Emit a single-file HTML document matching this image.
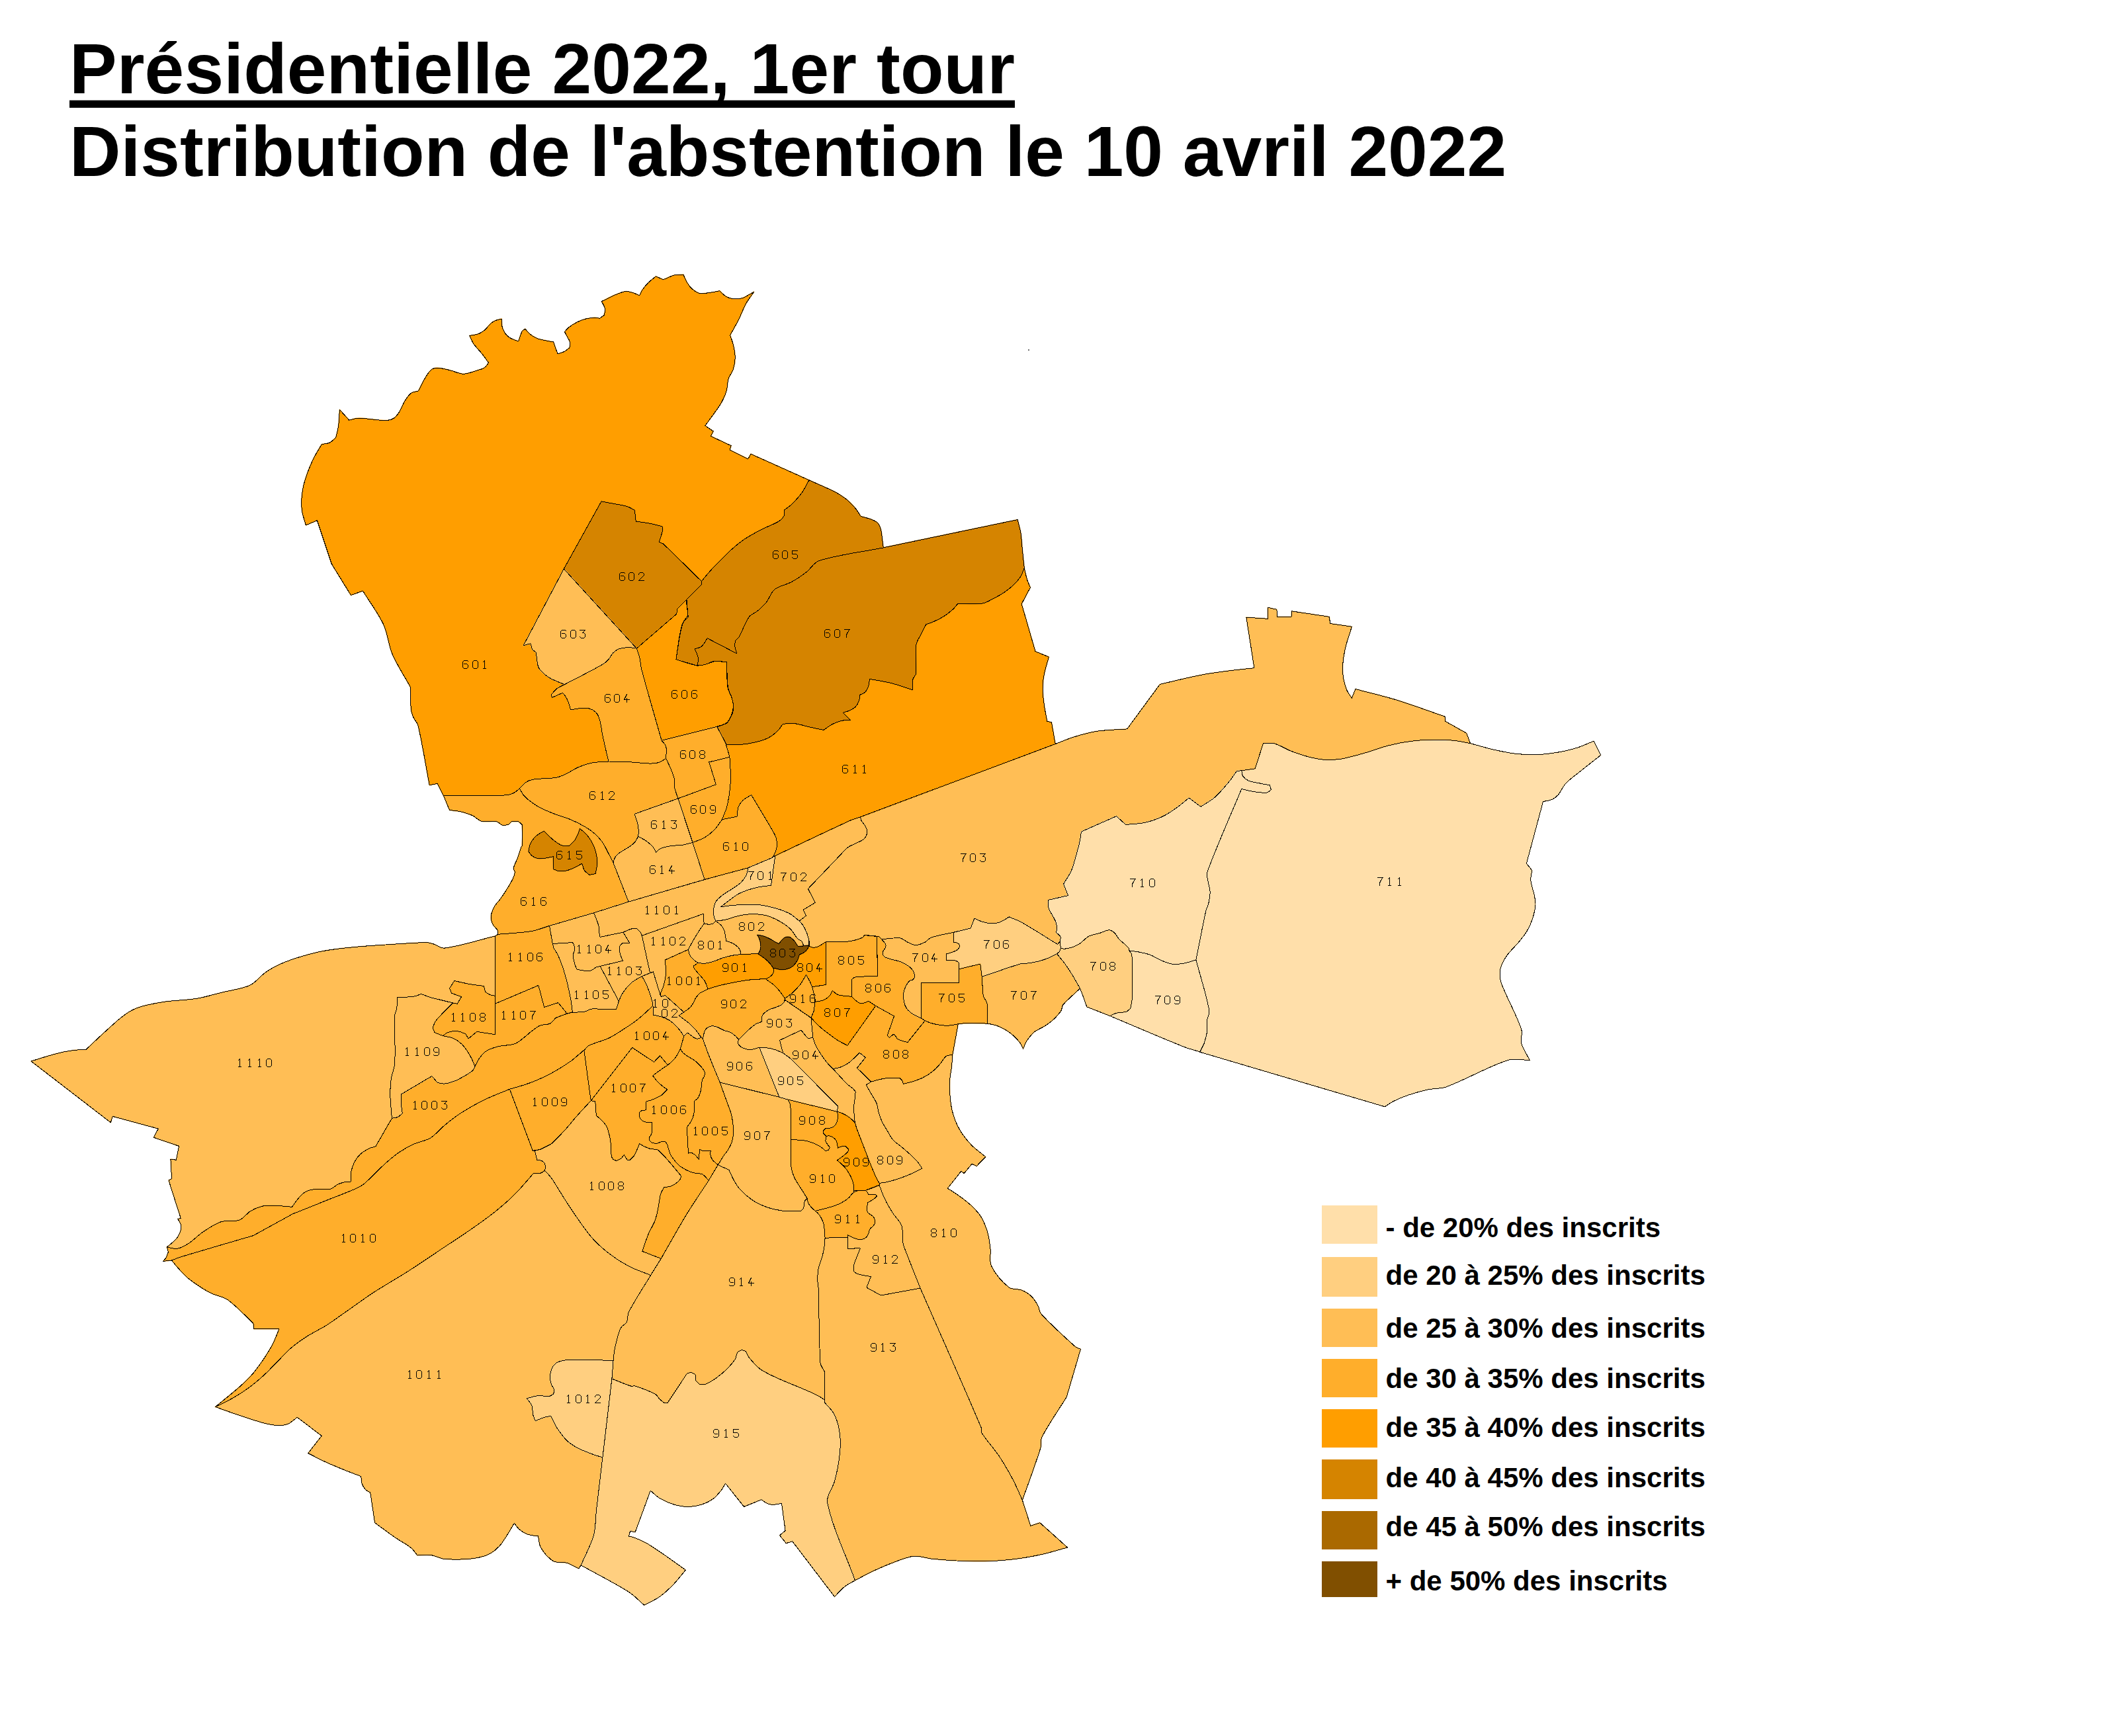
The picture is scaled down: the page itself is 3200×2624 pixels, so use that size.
<!DOCTYPE html><html><head><meta charset="utf-8"><title>Carte</title>
<style>html,body{margin:0;padding:0;background:#fff}svg{display:block}.t{font-family:"Liberation Sans",sans-serif;font-weight:bold;fill:#000}.f{stroke-width:1.6;stroke-linejoin:round}.s{fill:none;stroke:#000;stroke-width:1;stroke-linejoin:round;stroke-linecap:round;shape-rendering:crispEdges}.g{fill:none;stroke:#000;stroke-width:1;stroke-linecap:square;stroke-linejoin:miter;shape-rendering:crispEdges}</style></head><body>
<svg width="3200" height="2624" viewBox="0 0 3200 2624">
<rect width="3200" height="2624" fill="#fff"/>
<g class="f">
<path d="M462.4,793.8C460.5,787.1 457.8,779.8 456.7,773.0C455.7,767.0 455.6,760.2 455.9,754.1C456.2,748.0 457.3,741.2 458.6,735.2C459.9,729.1 462.1,722.3 464.2,716.3C466.9,708.9 470.2,700.7 473.7,693.7C477.2,686.4 482.2,678.7 486.2,671.7C490.0,670.9 494.7,670.8 498.3,669.1C501.8,667.4 504.7,663.9 507.7,661.5C508.9,656.1 510.7,650.1 511.5,644.5C512.6,636.5 512.8,627.3 513.4,619.2L527.7,635.1C532.2,634.1 537.1,632.2 541.7,632.1C548.4,631.8 555.8,633.4 562.5,633.9C569.7,634.5 577.9,636.0 585.2,635.5C589.0,635.2 593.4,633.6 596.5,631.3C599.6,629.0 602.0,625.1 604.1,621.9C606.9,617.2 608.8,611.3 611.6,606.7C614.2,602.6 617.2,597.6 621.1,594.6C624.1,592.3 628.8,592.1 632.4,590.9C635.4,585.1 638.5,578.3 641.9,572.7C644.5,568.3 647.4,562.9 651.3,559.5C653.7,557.4 657.5,556.1 660.7,556.1C666.9,556.1 673.7,558.1 679.6,559.5C686.4,561.0 693.5,565.1 700.4,565.2C707.3,565.2 714.6,561.8 721.2,559.9C724.9,558.8 729.3,557.9 732.5,555.7C735.1,554.0 736.7,550.6 738.6,548.2C735.4,543.9 732.0,539.1 728.8,534.9C724.7,529.8 719.3,524.5 715.5,519.1C713.2,515.6 711.7,511.1 709.9,507.4C714.1,506.5 719.0,506.2 723.1,504.7C726.4,503.5 729.8,501.3 732.5,499.0C736.0,496.2 738.6,491.7 742.0,488.8C744.1,487.0 746.9,485.4 749.6,484.3C752.2,483.2 755.5,482.8 758.2,482.0C758.5,485.7 758.2,489.8 759.0,493.4C759.7,496.5 761.0,500.1 762.8,502.8C764.7,505.7 767.4,508.5 770.3,510.4C774.2,512.8 779.3,514.2 783.6,516.0C785.4,511.2 786.8,505.5 789.2,500.9C790.1,499.3 792.3,498.4 793.8,497.1C795.9,499.6 798.0,502.7 800.6,504.7C803.9,507.3 808.0,509.9 811.9,511.5C815.9,513.2 820.9,514.0 825.1,514.9C828.7,515.7 832.8,516.2 836.5,516.8L842.9,534.9C846.3,533.7 850.3,532.8 853.5,531.2C856.2,529.8 858.6,527.3 861.0,525.5C861.3,523.1 862.3,520.3 861.8,517.9C861.1,514.7 858.8,511.5 857.3,508.5C856.1,506.3 854.7,503.9 853.5,501.7C855.3,499.6 857.0,496.9 859.1,495.3C863.1,492.2 867.9,489.2 872.4,486.9C876.4,484.9 881.2,483.2 885.6,482.0C889.7,481.0 894.5,480.3 898.8,480.1C901.3,480.1 904.0,480.9 906.4,481.3L913.2,476.4C913.7,473.3 915.2,469.9 914.7,466.9C914.0,463.0 911.1,459.2 909.4,455.6C915.7,452.6 922.6,448.8 929.1,446.1C934.4,443.9 940.3,441.0 946.1,440.5C950.4,440.1 955.1,442.2 959.3,443.5C961.8,444.3 964.4,445.8 966.8,446.9C968.0,444.2 969.0,441.0 970.6,438.6C973.3,434.7 976.7,430.6 980.1,427.2C983.4,423.9 987.8,420.8 991.4,417.8L1002.7,422.7C1008.2,420.5 1014.1,417.3 1019.7,415.9C1023.9,414.9 1028.7,415.4 1033.0,415.1C1034.8,419.0 1036.4,423.6 1038.6,427.2C1040.7,430.5 1043.3,434.2 1046.2,436.7C1049.4,439.4 1053.4,442.6 1057.5,443.5C1062.3,444.5 1067.8,443.0 1072.6,442.4C1077.5,441.7 1082.9,440.6 1087.8,439.7C1090.8,442.4 1093.7,446.0 1097.2,448.0C1100.5,449.9 1104.7,451.4 1108.5,451.8C1112.8,452.3 1117.7,451.8 1121.8,450.7C1125.7,449.6 1129.5,446.9 1133.1,445.0C1135.2,443.9 1137.5,442.4 1139.5,441.2C1135.7,447.0 1130.8,453.2 1127.4,459.4C1123.3,466.9 1120.0,476.2 1116.1,483.9C1112.4,491.3 1107.6,499.3 1103.6,506.6C1105.2,511.4 1107.4,516.7 1108.5,521.7C1109.9,527.7 1111.2,534.5 1111.2,540.6C1111.2,546.1 1110.2,552.4 1108.5,557.6C1106.9,562.8 1102.6,567.6 1101.0,572.7C1099.3,578.0 1099.8,584.4 1098.3,589.7C1096.8,595.4 1094.3,601.6 1091.5,606.7C1088.5,612.5 1084.0,618.4 1080.2,623.7C1075.7,630.1 1070.4,637.1 1065.8,643.4L1078.2,651.8L1074.4,659.3L1105.1,673.7L1103.2,680.1L1130.8,693.7L1134.9,686.2L1223.0,725.8C1219.3,732.1 1215.9,739.6 1211.6,745.5C1207.4,751.4 1201.7,757.4 1196.5,762.5C1193.4,765.5 1189.3,768.1 1185.9,770.8C1185.7,773.6 1186.4,777.0 1185.2,779.5C1183.6,782.7 1180.7,785.9 1177.6,787.8C1169.6,792.7 1159.5,796.0 1151.2,800.3C1142.5,804.8 1132.8,810.0 1124.7,815.4C1118.3,819.7 1111.5,825.3 1105.8,830.5C1095.8,839.8 1085.0,850.8 1075.6,860.7C1070.5,866.2 1065.3,872.8 1060.5,878.5L1002.7,822.1L996.3,819.1C998.0,813.4 1000.5,807.2 1001.6,801.4C1002.0,799.6 1001.1,797.5 1000.9,795.7C994.8,794.2 988.1,792.3 982.0,791.1C975.4,789.9 967.8,789.1 961.2,788.1L959.3,771.1C955.7,769.3 951.8,766.7 947.9,765.5C942.1,763.6 935.1,762.8 929.1,761.7C922.6,760.4 915.4,759.1 909.0,757.9L852.3,859.9L791.1,975.9L802.0,972.6L804.4,981.7L810.4,986.2C811.4,993.0 811.4,1000.9 813.5,1007.4C814.6,1010.8 817.5,1013.9 820.1,1016.4C823.6,1019.8 828.0,1023.2 832.2,1025.5C838.7,1029.0 846.6,1031.7 853.4,1034.6C849.5,1036.7 844.8,1038.5 841.3,1041.2C838.2,1043.6 835.7,1047.4 833.1,1050.3L834.6,1054.3L850.4,1047.3C851.8,1049.0 853.7,1050.8 854.9,1052.7C856.6,1055.5 858.3,1058.8 859.4,1061.8C860.7,1065.3 861.5,1069.4 862.5,1073.0C869.2,1072.0 876.8,1070.0 883.6,1070.0C887.6,1070.0 892.2,1071.2 895.7,1073.0C898.7,1074.5 901.6,1077.1 903.3,1080.0C905.6,1083.9 906.8,1089.1 907.8,1093.6C909.2,1099.3 909.6,1106.0 910.9,1111.7C913.5,1124.4 917.0,1138.5 919.9,1151.0C916.1,1151.2 911.7,1151.3 907.8,1151.6C903.0,1152.1 897.4,1152.3 892.7,1153.5C886.7,1154.9 880.2,1157.0 874.6,1159.5C868.0,1162.4 861.4,1167.0 854.9,1170.1C850.7,1172.1 845.8,1174.3 841.3,1175.2C835.6,1176.4 828.9,1176.3 823.1,1176.7C817.3,1177.2 810.7,1177.1 805.0,1178.3C801.4,1179.0 797.4,1180.7 794.4,1182.8C791.0,1185.1 788.2,1189.0 785.3,1191.9C782.9,1193.8 780.5,1196.5 777.8,1197.9C774.1,1199.8 769.7,1201.7 765.7,1201.9C735.2,1203.1 700.9,1202.3 670.4,1202.5L661.3,1184.3L649.2,1186.7C643.7,1157.9 638.7,1125.2 632.0,1096.6C631.0,1092.3 626.8,1088.6 625.0,1084.5C623.4,1080.8 621.8,1076.4 621.4,1072.4C620.3,1061.8 621.2,1049.8 620.5,1039.1C620.4,1038.1 619.5,1037.1 619.0,1036.1C610.8,1021.1 600.0,1005.0 593.3,989.2C587.3,975.3 586.1,957.6 579.7,943.9C571.6,926.6 558.5,909.4 548.5,893.2L530.4,899.6L501.3,852.4L479.4,786.6L462.4,793.8Z" fill="#FF9E00" stroke="#FF9E00"/>
<path d="M1909.5,1123.6C1914.6,1123.6 1920.6,1122.2 1925.6,1123.6C1934.2,1126.0 1942.8,1131.8 1951.1,1135.1C1959.1,1138.2 1968.3,1141.4 1976.6,1143.6C1984.7,1145.7 1993.9,1147.7 2002.1,1148.3C2010.3,1148.8 2019.6,1148.3 2027.6,1147.0C2038.7,1145.2 2050.9,1141.5 2061.7,1138.5C2074.0,1135.0 2087.5,1129.7 2099.9,1126.6C2110.6,1123.9 2122.9,1121.6 2133.9,1120.2C2144.7,1118.8 2157.0,1118.2 2167.9,1118.1C2177.5,1117.9 2188.2,1118.4 2197.7,1119.3C2205.7,1120.2 2214.5,1122.2 2222.4,1123.6C2233.5,1126.6 2246.0,1130.4 2257.2,1133.0C2268.0,1135.4 2280.2,1138.1 2291.2,1139.3C2302.0,1140.5 2314.4,1141.1 2325.2,1140.6C2336.2,1140.1 2348.4,1138.3 2359.2,1136.4C2367.5,1134.9 2376.7,1132.6 2384.8,1130.0C2392.7,1127.4 2401.2,1123.3 2409.0,1120.2L2419.6,1141.5C2409.8,1149.2 2398.7,1157.8 2389.0,1165.7C2381.9,1171.4 2373.2,1177.3 2366.9,1184.0C2362.2,1189.0 2359.5,1196.6 2355.0,1201.8C2352.6,1204.6 2349.0,1207.2 2345.6,1208.6C2341.7,1210.3 2336.7,1210.6 2332.5,1211.6L2307.4,1305.1L2315.9,1315.8C2315.2,1320.5 2313.4,1325.8 2313.8,1330.6C2314.3,1337.6 2317.5,1345.0 2318.9,1351.9C2319.8,1356.6 2321.3,1362.0 2321.0,1366.8C2320.6,1373.7 2318.8,1381.4 2316.7,1388.0C2314.7,1394.4 2311.6,1401.4 2308.2,1407.2C2304.8,1413.0 2299.8,1418.9 2295.5,1424.2C2290.3,1430.5 2283.4,1436.7 2278.5,1443.3C2275.2,1447.7 2272.1,1453.1 2270.0,1458.2C2268.4,1462.0 2267.0,1466.7 2267.0,1470.9C2267.0,1476.5 2268.0,1482.8 2270.0,1487.9C2278.5,1510.1 2292.2,1533.4 2299.7,1556.0C2301.9,1562.4 2297.9,1570.7 2299.7,1577.2C2302.1,1586.0 2308.4,1594.6 2312.5,1602.7C2302.2,1602.5 2290.1,1599.0 2280.2,1602.2C2248.8,1612.1 2216.6,1631.6 2185.7,1643.0C2177.7,1645.9 2167.6,1645.0 2159.3,1646.8C2149.5,1648.9 2138.6,1651.9 2129.1,1655.1C2121.6,1657.6 2113.4,1661.0 2106.4,1664.5C2101.9,1666.7 2097.4,1670.2 2093.2,1672.8L1813.5,1590.1L1820.2,1577.2C1821.5,1571.8 1823.7,1565.8 1824.4,1560.2C1825.1,1554.8 1823.9,1548.6 1824.4,1543.2C1825.0,1538.1 1828.7,1532.5 1827.8,1527.5C1823.4,1502.6 1814.2,1475.4 1807.9,1450.9C1812.6,1427.4 1817.5,1400.8 1822.7,1377.4C1823.7,1373.2 1826.1,1368.9 1827.0,1364.6C1828.1,1359.3 1829.3,1353.1 1829.1,1347.6C1828.9,1342.1 1826.5,1336.1 1825.7,1330.6C1825.1,1326.6 1823.4,1321.7 1824.9,1317.9C1839.9,1277.1 1860.1,1232.6 1876.7,1192.5C1882.8,1193.8 1889.6,1195.8 1895.9,1196.7C1901.9,1197.6 1908.9,1198.7 1915.0,1198.0C1917.4,1197.7 1919.3,1195.1 1921.4,1193.7L1919.2,1186.9C1914.5,1186.0 1909.1,1185.0 1904.4,1184.0C1898.9,1182.8 1892.5,1182.3 1887.4,1180.1C1884.1,1178.8 1880.8,1176.2 1878.8,1173.3C1877.2,1171.0 1877.4,1167.6 1876.7,1164.8L1897.1,1161.9L1909.5,1123.6Z" fill="#FFDFAA" stroke="#FFDFAA"/>
<path d="M325.5,2126.5C333.7,2122.4 343.1,2118.2 351.0,2113.7C358.7,2109.4 367.2,2104.1 374.4,2098.8C382.2,2093.2 390.6,2086.2 397.8,2079.7C404.9,2073.3 412.2,2065.3 419.0,2058.5C425.8,2051.7 433.0,2043.5 440.3,2037.2C447.3,2031.2 455.9,2025.2 463.7,2020.2C472.9,2014.3 484.2,2009.0 493.4,2003.2C502.5,1997.5 512.2,1990.2 521.1,1984.1C534.7,1974.6 549.7,1963.4 563.6,1954.3C581.0,1943.0 601.4,1931.5 618.8,1920.3C635.4,1909.7 653.5,1897.2 669.9,1886.3C682.1,1878.1 696.0,1869.2 708.1,1860.8C720.5,1852.2 734.6,1842.5 746.4,1833.1C757.0,1824.7 768.6,1814.7 778.2,1805.1C787.8,1795.6 797.3,1783.8 806.3,1773.7C809.6,1773.6 813.5,1774.1 816.7,1773.3C819.1,1772.8 821.2,1770.8 823.3,1769.6C825.4,1771.7 828.0,1773.9 829.9,1776.2C831.9,1778.5 833.9,1781.2 835.6,1783.7C841.8,1793.3 848.3,1804.4 854.5,1814.0C860.4,1823.1 867.1,1833.4 873.4,1842.3C880.1,1851.8 887.4,1862.8 895.2,1871.4C902.6,1879.6 911.9,1888.0 920.7,1894.8C929.7,1901.7 940.4,1908.7 950.4,1913.9C960.6,1919.2 973.0,1923.2 983.6,1927.5C973.0,1945.3 959.9,1964.7 950.4,1983.2C948.1,1987.8 949.3,1994.3 947.0,1998.9C945.7,2001.7 941.7,2002.9 939.8,2005.3C938.0,2007.7 936.5,2010.9 935.6,2013.8C933.1,2021.9 930.8,2031.1 929.2,2039.3C928.1,2044.7 927.7,2050.9 927.1,2056.3C906.0,2056.1 882.3,2054.9 861.2,2055.5C855.6,2055.6 849.2,2056.3 844.2,2058.5C840.5,2060.1 836.8,2063.4 834.8,2067.0C832.5,2071.3 831.7,2077.0 831.4,2081.8C831.2,2085.3 832.4,2089.2 833.5,2092.5C834.5,2095.4 837.2,2098.0 837.8,2101.0C838.2,2103.0 836.9,2105.3 836.5,2107.4C834.2,2108.4 831.8,2110.5 829.3,2110.8C824.5,2111.2 819.2,2109.0 814.4,2109.5C808.4,2110.0 802.0,2112.4 796.1,2113.7C798.6,2117.1 802.3,2120.4 803.8,2124.4C805.5,2128.8 804.8,2134.6 805.9,2139.2C806.6,2142.1 808.2,2145.0 809.3,2147.7C813.7,2146.0 818.4,2143.6 822.9,2142.2C825.9,2141.3 829.6,2141.1 832.7,2140.5C835.7,2146.2 838.5,2153.0 842.0,2158.4C846.3,2164.9 851.3,2172.1 856.9,2177.5C861.7,2182.0 868.1,2185.9 873.9,2189.0C880.4,2192.4 888.3,2195.3 895.2,2197.9C900.1,2199.8 905.9,2201.4 910.9,2203.0C907.9,2228.2 904.5,2256.5 901.6,2281.7C900.1,2294.2 900.7,2308.6 897.3,2320.8C893.1,2335.9 884.3,2351.4 878.2,2365.8L874.8,2370.9C869.1,2368.2 863.0,2364.2 856.9,2362.4C851.0,2360.7 843.5,2362.6 837.8,2360.3C832.9,2358.3 828.6,2353.6 825.0,2349.7C821.7,2346.0 818.4,2341.4 816.5,2336.9C814.7,2332.4 814.5,2326.8 813.6,2322.0C808.4,2321.1 802.3,2320.9 797.4,2319.1C792.9,2317.4 788.3,2314.5 784.6,2311.4C781.8,2309.0 779.7,2305.1 777.4,2302.1C773.6,2308.5 769.6,2315.8 765.5,2322.0C762.3,2327.0 758.8,2332.6 754.9,2336.9C751.3,2340.8 746.7,2344.9 742.1,2347.5C737.1,2350.4 730.8,2352.7 725.1,2353.9C717.1,2355.7 707.8,2356.6 699.6,2356.9C690.1,2357.3 679.3,2357.3 669.9,2356.1C664.2,2355.3 658.5,2351.7 652.9,2350.9C645.8,2350.0 637.8,2350.9 630.8,2350.9C628.3,2347.8 625.9,2344.0 623.1,2341.2C620.7,2338.8 617.4,2336.7 614.6,2334.8C609.3,2331.2 602.9,2327.8 597.6,2324.2C587.5,2317.2 576.5,2308.8 566.6,2301.6L559.8,2256.1C557.6,2254.8 554.7,2253.7 553.0,2251.9C550.7,2249.6 548.5,2246.5 547.4,2243.4C546.1,2239.8 546.3,2235.3 545.7,2231.5C537.8,2228.5 528.9,2225.3 521.1,2222.1C511.5,2218.2 500.7,2213.7 491.3,2209.4C483.0,2205.6 474.0,2200.7 465.8,2196.6L486.2,2170.3L449.2,2142.2C445.0,2145.3 440.8,2149.7 436.0,2152.0C432.3,2153.8 427.4,2154.4 423.3,2154.5C417.8,2154.7 411.6,2153.9 406.3,2152.8C399.4,2151.5 391.8,2149.0 385.0,2146.9C375.4,2143.9 364.7,2140.4 355.3,2137.1C345.7,2133.8 335.0,2129.9 325.5,2126.5Z" fill="#FFBE55" stroke="#FFBE55"/>
<path d="M1171.7,1293.5C1208.2,1276.4 1249.0,1256.7 1285.6,1240.0C1290.2,1237.9 1295.7,1236.5 1300.4,1234.9L1595.2,1124.5C1604.3,1121.1 1614.4,1116.7 1623.8,1113.8C1634.5,1110.5 1646.7,1107.0 1657.8,1105.3C1672.4,1103.1 1689.0,1103.0 1703.7,1101.9L1753.4,1034.3C1773.2,1029.8 1795.2,1024.2 1815.1,1020.3C1828.6,1017.6 1844.0,1015.7 1857.6,1013.9C1869.8,1012.3 1883.6,1011.0 1895.9,1009.7L1883.9,933.1L1916.3,935.3L1916.3,918.3L1929.9,921.2L1930.7,932.3L1952.0,932.3L1952.4,923.8L2009.4,932.3L2010.6,942.5L2043.4,947.2C2040.4,957.0 2036.4,967.8 2034.0,977.8C2032.1,985.8 2030.4,995.0 2029.8,1003.3C2029.3,1010.1 2029.6,1017.8 2030.6,1024.5C2031.6,1030.8 2033.7,1037.8 2036.1,1043.7C2037.8,1047.7 2041.1,1051.5 2043.4,1055.2L2048.9,1041.5C2069.3,1047.0 2092.5,1052.3 2112.7,1058.6C2135.8,1065.7 2161.2,1075.3 2184.1,1083.2L2184.9,1090.4L2216.8,1108.3L2222.4,1123.6C2214.5,1122.2 2205.7,1120.2 2197.7,1119.3C2188.2,1118.4 2177.5,1117.9 2167.9,1118.1C2157.0,1118.2 2144.7,1118.8 2133.9,1120.2C2122.9,1121.6 2110.6,1123.9 2099.9,1126.6C2087.5,1129.7 2074.0,1135.0 2061.7,1138.5C2050.9,1141.5 2038.7,1145.2 2027.6,1147.0C2019.6,1148.3 2010.3,1148.8 2002.1,1148.3C1993.9,1147.7 1984.7,1145.7 1976.6,1143.6C1968.3,1141.4 1959.1,1138.2 1951.1,1135.1C1942.8,1131.8 1934.2,1126.0 1925.6,1123.6C1920.6,1122.2 1914.6,1123.6 1909.5,1123.6L1897.1,1161.9L1876.7,1164.8L1869.5,1165.3C1865.7,1170.6 1861.8,1176.8 1857.6,1181.8C1851.1,1189.6 1843.9,1198.5 1836.3,1205.2C1830.2,1210.6 1821.9,1214.8 1815.1,1219.3L1797.2,1206.1C1790.7,1211.2 1783.7,1217.5 1776.8,1222.2C1770.3,1226.8 1762.8,1231.7 1755.6,1235.0C1747.7,1238.5 1738.5,1241.7 1730.1,1243.5C1721.1,1245.4 1710.7,1245.5 1701.6,1246.5L1687.5,1233.7L1634.4,1257.1C1633.7,1261.6 1633.2,1266.7 1632.3,1271.1C1631.1,1276.6 1629.6,1282.7 1628.0,1288.1C1625.5,1297.0 1623.1,1307.2 1619.5,1315.8C1616.6,1322.7 1611.4,1329.6 1607.6,1336.2L1614.6,1353.6L1585.3,1360.2C1585.0,1360.7 1584.4,1361.2 1584.4,1361.7C1584.4,1365.4 1584.4,1369.5 1585.3,1373.1C1586.0,1375.7 1587.8,1378.2 1589.1,1380.6C1590.9,1384.0 1593.3,1387.5 1594.8,1391.0C1596.0,1393.9 1597.3,1397.3 1597.6,1400.5C1597.9,1403.5 1596.9,1406.9 1596.6,1409.9C1597.9,1410.8 1599.3,1411.7 1600.4,1412.7C1601.6,1413.8 1602.6,1415.3 1603.6,1416.5L1602.3,1423.1L1598.5,1427.3C1581.0,1416.6 1561.6,1403.9 1543.7,1393.8C1538.1,1390.7 1531.1,1388.5 1525.2,1385.9C1522.7,1387.5 1519.9,1389.6 1517.3,1391.0C1515.0,1392.3 1512.3,1393.7 1509.7,1394.4C1506.8,1395.2 1503.3,1395.7 1500.3,1395.7C1497.2,1395.8 1493.8,1395.4 1490.8,1394.8C1487.7,1394.2 1484.4,1393.1 1481.4,1392.0C1478.6,1390.9 1475.6,1389.4 1472.9,1388.2L1467.2,1402.9L1441.3,1409.3C1430.6,1411.8 1418.1,1413.5 1407.7,1417.1C1404.1,1418.3 1401.5,1422.2 1398.3,1424.1C1395.4,1425.7 1392.0,1427.1 1388.8,1427.9C1386.5,1428.4 1383.6,1428.8 1381.2,1428.2C1378.0,1427.5 1374.8,1425.5 1371.8,1424.1C1368.1,1422.3 1364.5,1418.5 1360.5,1418.0C1351.6,1417.0 1341.4,1419.2 1332.5,1419.7L1328.3,1415.2L1325.5,1415.2L1306.6,1413.3L1304.5,1416.7C1301.5,1417.9 1298.2,1419.6 1295.1,1420.4C1290.3,1421.7 1284.9,1422.9 1280.0,1423.3C1269.8,1424.0 1258.4,1423.5 1248.2,1423.7C1245.1,1425.7 1241.7,1428.2 1238.4,1429.9C1236.1,1431.0 1233.4,1432.2 1230.8,1432.3C1228.7,1432.5 1226.3,1431.3 1224.2,1430.8L1222.9,1428.9L1222.9,1421.4C1221.8,1417.8 1220.9,1413.6 1219.5,1410.1C1218.0,1406.3 1216.0,1402.1 1213.8,1398.7C1212.3,1396.4 1210.0,1394.2 1208.2,1392.1C1203.9,1388.8 1199.6,1384.5 1194.9,1381.7C1190.4,1379.0 1184.8,1376.9 1179.8,1375.1C1174.5,1373.2 1168.3,1371.6 1162.8,1370.4C1157.4,1369.2 1151.3,1368.0 1145.8,1367.5C1139.2,1367.0 1131.7,1367.4 1125.0,1367.5C1119.0,1367.7 1112.2,1367.9 1106.1,1368.5C1100.8,1369.0 1094.8,1370.0 1089.5,1370.8C1093.6,1367.6 1098.2,1364.0 1102.4,1360.9C1106.5,1357.8 1111.1,1354.1 1115.6,1351.5C1119.6,1349.2 1124.5,1347.3 1128.8,1345.8C1134.1,1344.0 1140.3,1342.2 1145.8,1341.1C1152.1,1339.8 1159.3,1339.2 1165.6,1338.3L1171.7,1293.5Z" fill="#FFBE55" stroke="#FFBE55"/>
<path d="M748.5,1414.9C724.0,1420.7 696.9,1430.0 671.9,1433.1C666.2,1433.9 660.5,1428.5 654.9,1426.8C651.6,1425.7 647.8,1424.6 644.3,1424.6C624.6,1425.0 602.4,1426.8 582.7,1428.0C566.3,1429.1 547.9,1430.2 531.7,1431.9C518.0,1433.2 502.6,1434.9 489.1,1437.4C478.1,1439.4 465.9,1442.7 455.1,1445.9C445.4,1448.8 434.6,1452.5 425.4,1456.5C417.6,1460.0 409.0,1464.4 402.0,1469.3C393.7,1475.0 386.9,1485.0 377.8,1489.3C365.3,1495.1 349.4,1496.5 336.1,1499.9C323.9,1502.9 310.3,1507.2 297.8,1509.2C283.0,1511.7 266.0,1511.9 251.1,1513.9C241.5,1515.2 230.7,1517.1 221.3,1519.4C214.3,1521.2 206.5,1523.5 200.1,1526.7C194.2,1529.6 188.2,1534.0 183.0,1538.1C174.5,1545.0 165.6,1553.3 157.5,1560.7C148.6,1568.9 138.7,1578.3 129.9,1586.6C123.8,1586.9 116.8,1586.7 110.8,1587.5C102.5,1588.6 93.3,1590.5 85.3,1592.6C72.9,1595.8 59.2,1600.4 47.0,1604.0L167.3,1696.7L170.3,1687.4L239.2,1706.1L232.4,1719.3L270.6,1732.4L266.4,1753.3L257.9,1752.0L259.6,1781.7L254.9,1783.9L273.2,1841.3L268.9,1842.5C270.4,1845.5 273.0,1848.6 273.6,1851.9C274.2,1855.3 273.5,1859.3 272.3,1862.5C271.0,1866.3 268.6,1870.2 265.9,1873.2C262.1,1877.5 256.7,1881.2 252.3,1885.1C257.4,1885.7 263.1,1888.0 268.1,1887.2C274.0,1886.2 280.1,1882.8 285.1,1879.5C292.4,1874.8 299.1,1867.4 306.3,1862.5C314.8,1856.9 324.3,1850.0 334.0,1846.8C342.4,1844.0 353.3,1847.3 361.6,1844.2C368.2,1841.9 372.7,1834.3 378.6,1830.6C383.6,1827.5 389.9,1824.8 395.6,1823.4C400.9,1822.1 407.2,1822.0 412.6,1822.1C421.9,1822.3 432.3,1823.6 441.5,1824.3C444.5,1820.2 447.5,1815.3 450.9,1811.5C453.9,1808.0 457.5,1804.0 461.5,1801.7C465.8,1799.3 471.5,1798.1 476.4,1797.5C483.8,1796.6 492.4,1798.6 499.8,1797.1C503.7,1796.2 506.8,1792.0 510.4,1790.3C513.6,1788.7 517.5,1787.6 521.0,1786.8C524.0,1786.2 527.4,1786.3 530.4,1786.0C530.5,1781.2 529.9,1775.8 530.8,1771.1C531.7,1766.2 533.6,1760.7 535.9,1756.2C538.0,1752.2 541.1,1747.9 544.4,1744.8C548.0,1741.4 552.8,1738.5 557.2,1736.3C560.3,1734.6 564.4,1733.9 567.8,1732.9L592.4,1690.3C591.6,1679.5 590.1,1667.2 589.9,1656.3C589.7,1648.2 590.0,1638.9 591.2,1630.8C592.2,1623.2 596.3,1615.1 596.7,1607.4C598.0,1584.4 595.9,1558.3 596.7,1535.2C596.8,1531.6 599.2,1528.0 599.7,1524.5C600.4,1519.1 600.3,1513.0 600.5,1507.5C608.4,1507.1 617.4,1507.4 625.2,1506.3C629.0,1505.7 633.0,1503.7 636.7,1502.4C641.1,1504.1 646.1,1506.2 650.7,1507.5C656.1,1509.2 662.3,1510.4 667.7,1511.8C673.1,1513.2 679.3,1514.7 684.7,1516.0L691.1,1517.3L697.5,1506.7L682.6,1501.2L679.6,1493.9L686.8,1482.5C694.3,1484.1 702.7,1486.2 710.2,1487.6C717.0,1488.8 724.7,1489.6 731.5,1490.5L733.6,1499.0C735.6,1500.4 737.7,1502.3 740.0,1503.3C742.5,1504.4 745.7,1504.7 748.5,1505.4L748.5,1414.9Z" fill="#FFBE55" stroke="#FFBE55"/>
<path d="M1247.1,1871.5C1252.7,1871.1 1258.9,1870.3 1264.5,1870.2C1270.0,1870.0 1276.1,1870.4 1281.5,1870.5L1281.5,1887.5L1291.0,1887.5L1291.0,1886.2L1300.4,1887.0C1298.6,1891.4 1296.5,1896.3 1294.8,1900.8C1293.5,1904.1 1291.8,1907.7 1291.0,1911.2C1290.4,1913.8 1290.2,1916.9 1290.4,1919.7C1290.5,1920.8 1291.0,1922.2 1291.9,1922.9C1293.8,1924.4 1296.2,1925.6 1298.5,1926.3C1304.2,1927.8 1310.7,1928.6 1316.5,1929.7L1309.9,1946.1L1331.6,1958.0L1391.1,1947.1C1420.6,2014.7 1454.6,2090.4 1483.4,2158.4C1484.3,2160.5 1482.6,2163.6 1483.8,2165.6C1491.3,2177.5 1502.3,2189.2 1510.2,2200.9C1517.6,2212.0 1525.1,2225.2 1531.4,2237.0C1536.4,2246.5 1541.0,2257.8 1545.4,2267.6L1557.8,2306.3L1571.8,2301.6L1613.5,2339.0C1600.8,2342.4 1586.7,2346.9 1573.9,2349.7C1560.4,2352.6 1545.1,2355.3 1531.4,2356.9C1517.9,2358.5 1502.5,2359.5 1488.9,2359.9C1475.3,2360.2 1460.0,2359.7 1446.4,2359.0C1434.1,2358.4 1420.3,2357.3 1408.1,2356.1C1399.5,2355.2 1389.9,2351.3 1381.3,2352.2C1370.4,2353.4 1358.9,2358.6 1348.6,2362.4C1338.9,2366.0 1328.2,2370.8 1318.8,2375.2C1310.3,2379.2 1300.9,2384.4 1292.5,2388.8C1279.2,2351.4 1258.9,2310.8 1250.8,2271.9C1248.6,2261.1 1258.6,2249.8 1261.5,2239.1C1264.0,2229.7 1266.4,2219.0 1267.8,2209.4C1269.2,2199.9 1270.5,2189.2 1270.4,2179.6C1270.3,2171.4 1269.0,2162.1 1267.0,2154.1C1265.4,2147.7 1262.7,2140.6 1259.3,2135.0C1256.1,2129.6 1250.7,2124.9 1246.6,2120.1C1246.6,2118.1 1246.6,2115.8 1246.6,2113.7C1246.6,2100.9 1246.6,2086.5 1246.6,2073.7C1244.5,2069.4 1240.9,2065.1 1240.0,2060.4C1238.5,2053.3 1239.2,2045.0 1239.0,2037.8C1238.7,2024.5 1238.8,2009.5 1238.5,1996.2C1238.4,1994.4 1237.7,1992.3 1237.7,1990.5C1237.5,1977.2 1238.1,1962.2 1237.7,1948.9C1237.6,1947.1 1236.3,1945.2 1236.2,1943.3C1235.9,1935.7 1235.4,1927.1 1236.6,1919.7C1237.6,1913.1 1241.1,1906.3 1242.8,1899.8C1244.2,1894.5 1245.4,1888.3 1246.2,1882.8C1246.7,1879.2 1246.8,1875.1 1247.1,1871.5Z" fill="#FFBE55" stroke="#FFBE55"/>
<path d="M1096.9,1123.8C1098.3,1128.7 1100.0,1134.1 1101.4,1138.9C1101.9,1140.7 1102.4,1142.6 1102.9,1144.4C1103.4,1153.3 1104.4,1163.3 1104.4,1172.2C1104.4,1180.0 1103.9,1188.7 1102.9,1196.4C1101.9,1204.2 1100.4,1213.0 1098.4,1220.6C1096.7,1226.6 1093.6,1232.9 1091.4,1238.8L1114.1,1234.2C1114.7,1229.9 1114.5,1224.8 1115.9,1220.6C1117.2,1216.8 1119.7,1212.8 1122.6,1210.0C1126.1,1206.6 1131.4,1204.3 1135.6,1201.6C1146.9,1220.7 1160.5,1241.8 1171.0,1261.4C1173.1,1265.4 1174.3,1270.5 1174.6,1275.0C1174.8,1279.0 1173.6,1283.4 1172.5,1287.1C1171.7,1289.8 1169.8,1292.3 1168.5,1294.8L1171.7,1293.5C1208.2,1276.4 1249.0,1256.7 1285.6,1240.0C1290.2,1237.9 1295.7,1236.5 1300.4,1234.9L1595.2,1124.5L1589.5,1092.0L1582.7,1090.1C1581.3,1082.0 1579.4,1073.0 1578.2,1064.8C1577.3,1058.8 1576.5,1052.0 1576.3,1045.9C1576.1,1039.9 1576.4,1033.0 1577.0,1027.0C1577.6,1022.1 1578.9,1016.7 1580.1,1011.9C1581.6,1005.8 1583.7,999.1 1585.4,993.0L1565.0,984.7L1544.2,912.9L1557.4,888.0C1555.8,884.1 1553.7,879.8 1552.5,875.9C1550.8,870.5 1549.7,864.3 1548.3,858.9C1546.4,863.1 1544.8,868.1 1542.3,872.1C1539.8,876.1 1536.2,880.2 1532.8,883.4C1528.3,887.7 1522.8,892.0 1517.7,895.5C1513.1,898.7 1507.6,901.7 1502.6,904.2C1497.0,907.0 1491.0,911.2 1484.8,912.1C1473.1,913.9 1459.7,912.4 1447.8,912.5C1445.4,915.3 1443.0,918.7 1440.2,921.2C1436.3,924.8 1431.5,928.5 1427.0,931.4C1422.4,934.4 1416.9,937.1 1411.9,939.3C1408.1,941.1 1403.7,942.4 1399.8,943.9C1397.6,948.1 1395.1,952.8 1393.0,957.1C1390.2,962.9 1385.6,968.9 1384.7,975.2C1382.9,988.7 1386.0,1004.1 1384.7,1017.6C1384.4,1021.0 1380.5,1023.7 1379.8,1027.0C1378.7,1032.0 1379.5,1037.8 1379.4,1042.9C1369.2,1039.6 1358.0,1035.3 1347.7,1032.7C1337.2,1030.0 1325.0,1028.3 1314.4,1026.3C1313.9,1029.5 1313.9,1033.3 1312.9,1036.5C1311.8,1039.7 1310.3,1043.4 1308.0,1045.9C1305.9,1048.1 1302.3,1049.0 1299.7,1050.4C1299.3,1053.2 1299.5,1056.5 1298.5,1059.1C1297.3,1062.4 1295.4,1066.1 1292.9,1068.6C1290.4,1071.1 1286.6,1072.8 1283.4,1074.3C1280.5,1075.6 1277.0,1076.3 1274.0,1077.3L1285.3,1088.2C1281.1,1088.6 1276.2,1088.4 1272.1,1089.4C1267.7,1090.4 1262.9,1092.2 1258.9,1094.3C1254.1,1096.7 1249.3,1100.5 1244.9,1103.4C1239.1,1102.1 1232.5,1100.9 1226.7,1099.6C1218.3,1097.7 1208.9,1094.6 1200.3,1093.5C1194.9,1092.9 1188.7,1094.0 1183.3,1094.3C1180.9,1097.5 1178.6,1101.6 1175.7,1104.5C1171.9,1108.2 1167.2,1112.2 1162.5,1114.7C1156.8,1117.7 1149.8,1119.9 1143.6,1121.5C1136.5,1123.3 1128.3,1124.7 1120.9,1125.3C1113.7,1125.9 1105.5,1125.3 1098.3,1125.3L1096.9,1123.8Z" fill="#FF9E00" stroke="#FF9E00"/>
<path d="M924.9,2084.0C934.5,2087.6 945.0,2092.4 954.7,2095.4C956.0,2095.9 957.6,2094.2 959.0,2094.6C969.4,2098.0 981.1,2102.2 990.8,2107.4C993.6,2108.9 995.0,2112.7 997.2,2115.0C999.1,2116.9 1001.5,2118.5 1003.6,2120.1L1009.4,2120.1L1038.3,2076.3L1044.6,2074.2L1051.0,2077.6L1051.9,2086.9L1057.4,2092.5C1060.1,2092.5 1063.4,2093.4 1065.9,2092.5C1071.8,2090.2 1077.8,2086.3 1082.9,2082.7C1088.7,2078.5 1094.9,2073.3 1099.9,2068.2C1104.0,2064.1 1108.3,2059.1 1111.4,2054.2C1113.1,2051.4 1112.9,2047.1 1114.8,2044.4C1116.2,2042.4 1119.1,2041.5 1121.2,2040.2L1127.5,2042.7C1128.9,2045.5 1129.9,2048.9 1131.8,2051.2C1136.7,2057.4 1142.5,2064.4 1148.8,2069.1C1156.2,2074.6 1165.9,2078.8 1174.3,2082.7C1186.3,2088.3 1200.3,2093.6 1212.6,2098.8C1219.4,2101.8 1227.2,2104.9 1233.8,2108.2C1238.1,2110.3 1242.5,2113.4 1246.6,2115.9L1246.6,2120.1C1250.7,2124.9 1256.1,2129.6 1259.3,2135.0C1262.7,2140.6 1265.4,2147.7 1267.0,2154.1C1269.0,2162.1 1270.3,2171.4 1270.4,2179.6C1270.5,2189.2 1269.2,2199.9 1267.8,2209.4C1266.4,2219.0 1264.0,2229.7 1261.5,2239.1C1258.6,2249.8 1248.6,2261.1 1250.8,2271.9C1258.9,2310.8 1279.2,2351.4 1292.5,2388.8C1287.3,2391.9 1281.1,2394.8 1276.3,2398.6C1271.1,2402.8 1266.2,2408.7 1261.5,2413.4L1197.7,2329.7L1188.3,2332.7L1178.6,2320.8L1187.1,2313.5L1181.5,2272.3C1177.2,2273.0 1172.3,2274.4 1167.9,2274.4C1165.1,2274.4 1162.0,2273.5 1159.4,2272.3C1156.5,2271.0 1153.6,2268.5 1150.9,2266.8L1124.6,2277.4L1096.5,2242.1C1094.7,2245.2 1093.0,2249.0 1090.7,2251.9C1087.0,2256.6 1082.8,2261.9 1078.0,2265.5C1073.1,2269.1 1066.8,2272.2 1061.0,2274.0C1054.4,2276.0 1046.6,2277.4 1039.7,2277.4C1032.8,2277.4 1025.1,2276.0 1018.5,2274.0C1011.4,2271.9 1003.6,2268.4 997.2,2264.6C992.2,2261.7 987.7,2256.8 983.2,2253.2L960.2,2315.7L952.6,2314.4L950.4,2322.0C953.2,2322.7 956.3,2323.2 959.0,2324.2C964.5,2326.3 970.7,2328.9 976.0,2331.8C983.0,2335.7 990.5,2340.9 997.2,2345.4C1009.9,2354.1 1023.8,2364.2 1036.3,2373.1C1030.6,2379.9 1024.6,2387.9 1018.5,2394.3C1012.1,2400.9 1004.7,2408.1 997.2,2413.4C990.3,2418.4 981.3,2422.1 973.8,2426.2C966.3,2419.8 958.8,2411.5 950.4,2406.2C928.0,2392.1 901.3,2378.8 878.2,2365.8C884.3,2351.4 893.1,2335.9 897.3,2320.8C900.7,2308.6 900.1,2294.2 901.6,2281.7C904.5,2256.5 907.9,2228.2 910.9,2203.0L924.9,2084.0Z" fill="#FFCF80" stroke="#FFCF80"/>
<path d="M259.6,1905.0C264.3,1903.3 269.6,1901.0 274.4,1899.5C309.1,1889.0 348.2,1877.8 382.9,1867.6L442.4,1834.9C460.1,1827.8 480.0,1819.9 497.6,1812.8C510.6,1807.6 525.3,1802.3 538.0,1796.6C542.4,1794.7 547.2,1792.1 550.8,1789.0C561.5,1779.8 572.1,1767.8 582.7,1758.4C589.2,1752.6 596.7,1746.3 603.9,1741.4C610.4,1737.0 618.1,1732.7 625.2,1729.5C633.1,1725.9 643.3,1724.6 650.7,1720.1C658.5,1715.3 664.9,1706.8 671.9,1701.0C679.8,1694.5 688.9,1687.4 697.5,1681.8C708.0,1675.1 720.2,1668.2 731.5,1662.7C743.6,1656.8 757.9,1651.5 770.4,1646.2L805.3,1739.3L808.2,1739.3L812.0,1753.5C814.1,1753.8 816.6,1753.6 818.6,1754.5C820.4,1755.2 821.8,1757.0 823.3,1758.2C823.7,1760.0 824.6,1762.0 824.6,1763.9C824.6,1765.8 823.7,1767.8 823.3,1769.6C821.2,1770.8 819.1,1772.8 816.7,1773.3C813.5,1774.1 809.6,1773.6 806.3,1773.7C797.3,1783.8 787.8,1795.6 778.2,1805.1C768.6,1814.7 757.0,1824.7 746.4,1833.1C734.6,1842.5 720.5,1852.2 708.1,1860.8C696.0,1869.2 682.1,1878.1 669.9,1886.3C653.5,1897.2 635.4,1909.7 618.8,1920.3C601.4,1931.5 581.0,1943.0 563.6,1954.3C549.7,1963.4 534.7,1974.6 521.1,1984.1C512.2,1990.2 502.5,1997.5 493.4,2003.2C484.2,2009.0 472.9,2014.3 463.7,2020.2C455.9,2025.2 447.3,2031.2 440.3,2037.2C433.0,2043.5 425.8,2051.7 419.0,2058.5C412.2,2065.3 404.9,2073.3 397.8,2079.7C390.6,2086.2 382.2,2093.2 374.4,2098.8C367.2,2104.1 358.7,2109.4 351.0,2113.7C343.1,2118.2 333.7,2122.4 325.5,2126.5C337.1,2117.0 350.4,2106.7 361.6,2096.7C368.8,2090.3 376.6,2082.8 382.9,2075.5C388.9,2068.4 394.8,2059.8 399.9,2052.1C404.3,2045.5 409.1,2037.9 412.7,2030.8C416.1,2024.0 419.0,2015.8 422.0,2008.7L383.8,2008.7L382.9,2000.2C370.7,1988.9 358.1,1974.7 344.6,1964.9C338.1,1960.2 328.6,1958.9 321.3,1955.6C316.3,1953.3 310.9,1950.4 306.3,1947.5C299.3,1943.1 291.5,1937.9 285.1,1932.7C279.9,1928.4 274.8,1922.7 270.2,1917.8C266.6,1913.9 263.0,1909.1 259.6,1905.0Z" fill="#FFAE2B" stroke="#FFAE2B"/>
<path d="M1238.1,847.5C1268.3,838.0 1304.1,834.2 1335.2,827.9L1538.1,785.5C1539.7,792.1 1542.0,799.3 1543.0,806.0C1544.3,813.7 1544.5,822.7 1545.3,830.5C1546.2,839.6 1547.4,849.8 1548.3,858.9C1546.4,863.1 1544.8,868.1 1542.3,872.1C1539.8,876.1 1536.2,880.2 1532.8,883.4C1528.3,887.7 1522.8,892.0 1517.7,895.5C1513.1,898.7 1507.6,901.7 1502.6,904.2C1497.0,907.0 1491.0,911.2 1484.8,912.1C1473.1,913.9 1459.7,912.4 1447.8,912.5C1445.4,915.3 1443.0,918.7 1440.2,921.2C1436.3,924.8 1431.5,928.5 1427.0,931.4C1422.4,934.4 1416.9,937.1 1411.9,939.3C1408.1,941.1 1403.7,942.4 1399.8,943.9C1397.6,948.1 1395.1,952.8 1393.0,957.1C1390.2,962.9 1385.6,968.9 1384.7,975.2C1382.9,988.7 1386.0,1004.1 1384.7,1017.6C1384.4,1021.0 1380.5,1023.7 1379.8,1027.0C1378.7,1032.0 1379.5,1037.8 1379.4,1042.9C1369.2,1039.6 1358.0,1035.3 1347.7,1032.7C1337.2,1030.0 1325.0,1028.3 1314.4,1026.3C1313.9,1029.5 1313.9,1033.3 1312.9,1036.5C1311.8,1039.7 1310.3,1043.4 1308.0,1045.9C1305.9,1048.1 1302.3,1049.0 1299.7,1050.4C1299.3,1053.2 1299.5,1056.5 1298.5,1059.1C1297.3,1062.4 1295.4,1066.1 1292.9,1068.6C1290.4,1071.1 1286.6,1072.8 1283.4,1074.3C1280.5,1075.6 1277.0,1076.3 1274.0,1077.3L1285.3,1088.2C1281.1,1088.6 1276.2,1088.4 1272.1,1089.4C1267.7,1090.4 1262.9,1092.2 1258.9,1094.3C1254.1,1096.7 1249.3,1100.5 1244.9,1103.4C1239.1,1102.1 1232.5,1100.9 1226.7,1099.6C1218.3,1097.7 1208.9,1094.6 1200.3,1093.5C1194.9,1092.9 1188.7,1094.0 1183.3,1094.3C1180.9,1097.5 1178.6,1101.6 1175.7,1104.5C1171.9,1108.2 1167.2,1112.2 1162.5,1114.7C1156.8,1117.7 1149.8,1119.9 1143.6,1121.5C1136.5,1123.3 1128.3,1124.7 1120.9,1125.3C1113.7,1125.9 1105.5,1125.3 1098.3,1125.3L1083.9,1098.8L1099.0,1093.2C1101.2,1089.5 1104.2,1085.7 1105.8,1081.8C1107.4,1077.8 1108.8,1072.9 1108.8,1068.6C1108.8,1063.7 1107.3,1058.2 1105.8,1053.5C1104.5,1049.1 1100.8,1044.8 1100.1,1040.2C1098.3,1027.7 1098.9,1013.3 1098.3,1000.6C1092.2,1000.2 1085.4,998.7 1079.4,999.4C1074.9,1000.0 1070.5,1003.2 1066.1,1004.3C1062.3,1005.4 1057.9,1005.6 1054.0,1006.2C1054.5,1002.6 1056.1,998.5 1055.6,994.9C1054.8,990.2 1052.0,985.4 1050.3,980.9C1053.5,979.7 1057.8,979.4 1060.5,977.1C1064.2,974.0 1066.4,968.7 1069.2,964.7L1114.1,988.1C1113.0,984.5 1111.2,980.5 1110.7,976.8C1110.4,974.1 1111.2,971.1 1111.5,968.4C1113.3,966.6 1115.9,965.0 1117.1,962.8C1122.6,953.4 1126.0,941.3 1132.3,932.5C1135.3,928.3 1141.5,926.5 1145.5,923.1C1150.0,919.2 1155.0,914.6 1158.7,909.9C1163.2,904.2 1165.2,895.5 1170.8,891.0C1177.8,885.4 1188.6,884.0 1196.5,879.6C1204.2,875.5 1212.3,869.9 1219.2,864.5C1225.6,859.6 1230.3,850.0 1238.1,847.5Z" fill="#D58400" stroke="#D58400"/>
<path d="M1439.8,1594.5C1439.4,1600.4 1439.0,1607.0 1438.4,1612.9C1437.9,1617.8 1436.6,1623.1 1436.1,1628.0C1435.6,1633.4 1435.5,1639.6 1435.6,1645.0C1435.6,1650.5 1435.9,1656.6 1436.5,1662.0C1437.1,1667.5 1438.1,1673.7 1439.3,1679.0C1440.5,1684.0 1442.2,1689.5 1444.1,1694.2C1446.1,1699.2 1448.8,1704.6 1451.6,1709.3C1454.3,1713.7 1457.8,1718.4 1461.1,1722.5C1463.9,1726.0 1467.3,1729.8 1470.5,1732.9C1473.9,1736.1 1478.2,1739.4 1481.9,1742.3C1484.4,1744.4 1487.2,1746.6 1489.8,1748.6L1476.2,1762.6L1469.0,1759.3L1457.3,1773.5L1452.9,1770.3L1432.3,1796.2C1436.1,1798.6 1440.4,1801.2 1444.1,1803.7C1448.4,1806.7 1453.2,1810.0 1457.3,1813.2C1461.7,1816.6 1466.6,1820.6 1470.5,1824.5C1474.5,1828.5 1478.8,1833.1 1481.9,1837.8C1484.9,1842.3 1487.4,1847.9 1489.4,1852.9C1491.3,1857.6 1493.1,1863.0 1494.1,1868.0C1495.5,1874.3 1496.3,1881.6 1497.0,1888.0C1497.8,1896.3 1495.0,1906.4 1498.7,1913.9C1504.5,1925.8 1514.7,1937.6 1525.0,1945.8C1529.9,1949.7 1538.3,1947.7 1544.2,1950.1C1549.4,1952.1 1555.0,1955.5 1559.0,1959.4C1563.0,1963.2 1566.2,1968.7 1568.8,1973.4C1571.0,1977.3 1571.0,1982.9 1573.9,1986.2C1589.1,2002.9 1608.1,2020.0 1624.9,2035.1C1627.2,2037.1 1630.7,2038.0 1633.4,2039.3L1612.2,2111.6C1600.2,2131.1 1585.2,2152.1 1574.8,2172.4C1572.5,2176.9 1574.6,2183.3 1573.1,2188.1C1565.1,2213.9 1554.3,2242.2 1545.4,2267.6C1541.0,2257.8 1536.4,2246.5 1531.4,2237.0C1525.1,2225.2 1517.6,2212.0 1510.2,2200.9C1502.3,2189.2 1491.3,2177.5 1483.8,2165.6C1482.6,2163.6 1484.3,2160.5 1483.4,2158.4C1454.6,2090.4 1420.6,2014.7 1391.1,1947.1C1383.3,1927.1 1374.1,1904.8 1366.6,1884.7C1365.7,1882.4 1365.0,1879.6 1364.7,1877.1C1363.7,1869.3 1365.4,1860.0 1362.8,1852.6C1360.4,1845.6 1353.6,1839.9 1349.6,1833.7C1346.3,1828.7 1342.9,1822.9 1340.1,1817.6C1338.1,1813.8 1336.1,1809.3 1334.4,1805.3C1332.6,1800.9 1330.8,1795.7 1329.1,1791.2L1329.1,1788.5C1333.3,1787.8 1338.1,1787.3 1342.3,1786.3C1348.4,1784.7 1355.3,1782.7 1361.2,1780.6C1367.4,1778.4 1374.2,1775.7 1380.1,1773.0C1384.6,1771.0 1389.4,1768.3 1393.7,1766.0C1391.8,1763.1 1389.9,1759.6 1387.7,1757.0C1383.7,1752.4 1378.8,1747.8 1374.4,1743.7C1370.4,1739.9 1365.5,1736.0 1361.2,1732.4C1357.6,1729.4 1352.9,1726.6 1349.9,1723.0C1346.2,1718.6 1343.4,1712.7 1340.4,1707.8C1337.9,1703.7 1334.9,1699.0 1332.9,1694.6C1331.0,1690.5 1329.4,1685.7 1328.1,1681.4C1327.0,1677.2 1326.9,1672.2 1325.3,1668.2C1323.5,1663.6 1320.2,1659.2 1317.8,1654.9C1315.0,1650.1 1312.0,1644.7 1309.2,1639.8L1316.8,1635.1C1319.9,1634.3 1323.3,1633.2 1326.5,1632.5C1330.1,1631.6 1334.1,1630.5 1337.8,1630.0C1342.0,1629.5 1346.8,1629.5 1351.0,1629.5C1354.0,1629.5 1357.4,1629.9 1360.5,1630.0C1361.4,1630.9 1362.6,1631.8 1363.3,1632.9C1364.3,1634.5 1364.8,1636.7 1365.6,1638.5C1370.0,1637.3 1375.0,1636.2 1379.4,1634.8C1384.3,1633.2 1389.9,1631.4 1394.5,1629.1C1399.6,1626.5 1405.1,1623.2 1409.6,1619.6C1413.6,1616.5 1417.6,1612.2 1420.9,1608.3C1423.6,1605.2 1425.8,1601.0 1428.5,1597.9C1429.4,1596.8 1430.9,1595.9 1432.3,1595.5C1434.6,1594.8 1437.4,1594.8 1439.8,1594.5Z" fill="#FFBE55" stroke="#FFBE55"/>
<path d="M1085.3,1760.7L1102.0,1768.5C1104.4,1773.6 1106.8,1779.6 1109.6,1784.6C1111.7,1788.4 1114.4,1792.6 1117.1,1795.9C1120.4,1799.8 1124.6,1803.9 1128.5,1807.2C1132.5,1810.6 1137.2,1814.1 1141.7,1816.7C1147.5,1819.9 1154.3,1823.1 1160.6,1825.2C1167.1,1827.3 1174.6,1828.9 1181.4,1829.9C1186.2,1830.6 1191.7,1830.4 1196.5,1830.5C1201.0,1830.6 1206.1,1830.5 1210.7,1830.5C1211.9,1829.1 1213.8,1827.9 1214.5,1826.1C1215.7,1823.0 1215.1,1818.9 1216.3,1815.7C1217.0,1814.0 1218.9,1812.8 1220.1,1811.4C1220.5,1813.4 1220.6,1815.8 1221.4,1817.6C1222.5,1819.9 1224.1,1822.3 1225.8,1824.2C1227.7,1826.5 1230.3,1828.5 1232.4,1830.5C1233.6,1831.5 1235.1,1832.5 1236.2,1833.7C1237.9,1835.7 1239.6,1838.0 1240.9,1840.3C1242.4,1842.9 1243.8,1845.9 1244.7,1848.8C1245.6,1851.7 1245.9,1855.2 1246.2,1858.3C1246.7,1862.5 1246.8,1867.2 1247.1,1871.5C1246.8,1875.1 1246.7,1879.2 1246.2,1882.8C1245.4,1888.3 1244.2,1894.5 1242.8,1899.8C1241.1,1906.3 1237.6,1913.1 1236.6,1919.7C1235.4,1927.1 1235.9,1935.7 1236.2,1943.3C1236.3,1945.2 1237.6,1947.1 1237.7,1948.9C1238.1,1962.2 1237.5,1977.2 1237.7,1990.5C1237.7,1992.3 1238.4,1994.4 1238.5,1996.2C1238.8,2009.5 1238.7,2024.5 1239.0,2037.8C1239.2,2045.0 1238.5,2053.3 1240.0,2060.4C1240.9,2065.1 1244.5,2069.4 1246.6,2073.7L1246.6,2115.9C1242.5,2113.4 1238.1,2110.3 1233.8,2108.2C1227.2,2104.9 1219.4,2101.8 1212.6,2098.8C1200.3,2093.6 1186.3,2088.3 1174.3,2082.7C1165.9,2078.8 1156.2,2074.6 1148.8,2069.1C1142.5,2064.4 1136.7,2057.4 1131.8,2051.2C1129.9,2048.9 1128.9,2045.5 1127.5,2042.7L1121.2,2040.2C1119.1,2041.5 1116.2,2042.4 1114.8,2044.4C1112.9,2047.1 1113.1,2051.4 1111.4,2054.2C1108.3,2059.1 1104.0,2064.1 1099.9,2068.2C1094.9,2073.3 1088.7,2078.5 1082.9,2082.7C1077.8,2086.3 1071.8,2090.2 1065.9,2092.5C1063.4,2093.4 1060.1,2092.5 1057.4,2092.5L1051.9,2086.9L1051.0,2077.6L1044.6,2074.2L1038.3,2076.3L1009.4,2120.1L1003.6,2120.1C1001.5,2118.5 999.1,2116.9 997.2,2115.0C995.0,2112.7 993.6,2108.9 990.8,2107.4C981.1,2102.2 969.4,2098.0 959.0,2094.6C957.6,2094.2 956.0,2095.9 954.7,2095.4C945.0,2092.4 934.5,2087.6 924.9,2084.0L927.1,2056.3C927.7,2050.9 928.1,2044.7 929.2,2039.3C930.8,2031.1 933.1,2021.9 935.6,2013.8C936.5,2010.9 938.0,2007.7 939.8,2005.3C941.7,2002.9 945.7,2001.7 947.0,1998.9C949.3,1994.3 948.1,1987.8 950.4,1983.2C959.9,1964.7 973.0,1945.3 983.6,1927.5L999.3,1902.4C1011.6,1881.0 1025.0,1856.7 1037.8,1835.6C1048.0,1818.9 1060.5,1800.8 1071.2,1784.4L1085.3,1760.7Z" fill="#FFBE55" stroke="#FFBE55"/>
<path d="M1634.4,1257.1L1687.5,1233.7L1701.6,1246.5C1710.7,1245.5 1721.1,1245.4 1730.1,1243.5C1738.5,1241.7 1747.7,1238.5 1755.6,1235.0C1762.8,1231.7 1770.3,1226.8 1776.8,1222.2C1783.7,1217.5 1790.7,1211.2 1797.2,1206.1L1815.1,1219.3C1821.9,1214.8 1830.2,1210.6 1836.3,1205.2C1843.9,1198.5 1851.1,1189.6 1857.6,1181.8C1861.8,1176.8 1865.7,1170.6 1869.5,1165.3L1876.7,1164.8C1877.4,1167.6 1877.2,1171.0 1878.8,1173.3C1880.8,1176.2 1884.1,1178.8 1887.4,1180.1C1892.5,1182.3 1898.9,1182.8 1904.4,1184.0C1909.1,1185.0 1914.5,1186.0 1919.2,1186.9L1921.4,1193.7C1919.3,1195.1 1917.4,1197.7 1915.0,1198.0C1908.9,1198.7 1901.9,1197.6 1895.9,1196.7C1889.6,1195.8 1882.8,1193.8 1876.7,1192.5C1860.1,1232.6 1839.9,1277.1 1824.9,1317.9C1823.4,1321.7 1825.1,1326.6 1825.7,1330.6C1826.5,1336.1 1828.9,1342.1 1829.1,1347.6C1829.3,1353.1 1828.1,1359.3 1827.0,1364.6C1826.1,1368.9 1823.7,1373.2 1822.7,1377.4C1817.5,1400.8 1812.6,1427.4 1807.9,1450.9C1802.0,1452.6 1795.5,1455.0 1789.6,1456.1C1784.2,1457.0 1778.0,1458.0 1772.6,1457.3C1766.9,1456.6 1760.8,1454.0 1755.6,1451.8C1749.9,1449.5 1744.3,1445.4 1738.6,1443.3C1733.3,1441.3 1727.0,1440.1 1721.5,1439.0C1716.8,1438.1 1711.4,1437.6 1706.7,1436.9C1706.4,1435.6 1706.7,1433.7 1705.8,1432.7C1701.8,1428.1 1696.1,1424.1 1691.8,1419.9C1690.8,1419.0 1690.0,1417.6 1689.2,1416.5C1688.0,1414.7 1686.9,1412.4 1685.5,1410.9C1683.9,1409.2 1681.9,1407.4 1679.8,1406.5C1678.1,1405.8 1675.9,1405.7 1674.1,1406.1C1670.3,1407.0 1666.5,1409.1 1662.8,1410.3C1657.4,1412.0 1650.8,1412.6 1645.8,1415.2C1640.9,1417.7 1637.1,1422.9 1632.5,1426.0C1629.2,1428.2 1625.0,1430.3 1621.2,1431.6C1617.7,1432.9 1613.6,1433.7 1609.9,1434.1C1607.8,1434.3 1605.4,1433.7 1603.3,1433.5L1602.3,1423.1L1603.6,1416.5C1602.6,1415.3 1601.6,1413.8 1600.4,1412.7C1599.3,1411.7 1597.9,1410.8 1596.6,1409.9C1596.9,1406.9 1597.9,1403.5 1597.6,1400.5C1597.3,1397.3 1596.0,1393.9 1594.8,1391.0C1593.3,1387.5 1590.9,1384.0 1589.1,1380.6C1587.8,1378.2 1586.0,1375.7 1585.3,1373.1C1584.4,1369.5 1584.4,1365.4 1584.4,1361.7C1584.4,1361.2 1585.0,1360.7 1585.3,1360.2L1614.6,1353.6L1607.6,1336.2C1611.4,1329.6 1616.6,1322.7 1619.5,1315.8C1623.1,1307.2 1625.5,1297.0 1628.0,1288.1C1629.6,1282.7 1631.1,1276.6 1632.3,1271.1C1633.2,1266.7 1633.7,1261.6 1634.4,1257.1Z" fill="#FFDFAA" stroke="#FFDFAA"/>
<path d="M252.3,1885.1C257.4,1885.7 263.1,1888.0 268.1,1887.2C274.0,1886.2 280.1,1882.8 285.1,1879.5C292.4,1874.8 299.1,1867.4 306.3,1862.5C314.8,1856.9 324.3,1850.0 334.0,1846.8C342.4,1844.0 353.3,1847.3 361.6,1844.2C368.2,1841.9 372.7,1834.3 378.6,1830.6C383.6,1827.5 389.9,1824.8 395.6,1823.4C400.9,1822.1 407.2,1822.0 412.6,1822.1C421.9,1822.3 432.3,1823.6 441.5,1824.3C444.5,1820.2 447.5,1815.3 450.9,1811.5C453.9,1808.0 457.5,1804.0 461.5,1801.7C465.8,1799.3 471.5,1798.1 476.4,1797.5C483.8,1796.6 492.4,1798.6 499.8,1797.1C503.7,1796.2 506.8,1792.0 510.4,1790.3C513.6,1788.7 517.5,1787.6 521.0,1786.8C524.0,1786.2 527.4,1786.3 530.4,1786.0C530.5,1781.2 529.9,1775.8 530.8,1771.1C531.7,1766.2 533.6,1760.7 535.9,1756.2C538.0,1752.2 541.1,1747.9 544.4,1744.8C548.0,1741.4 552.8,1738.5 557.2,1736.3C560.3,1734.6 564.4,1733.9 567.8,1732.9L592.4,1690.3C595.4,1689.7 599.0,1689.6 601.8,1688.2C604.2,1687.0 606.1,1684.5 608.2,1682.7C607.8,1679.7 607.1,1676.4 606.9,1673.3C606.4,1667.2 606.3,1660.3 606.1,1654.2L652.8,1626.6L661.3,1636.4C664.7,1636.9 668.5,1638.3 671.9,1638.1C676.8,1637.6 682.2,1636.0 686.8,1634.2C691.8,1632.3 697.1,1629.3 701.7,1626.6C705.9,1624.1 710.9,1621.4 714.5,1618.1C716.2,1616.5 716.8,1613.7 717.9,1611.7C720.2,1607.6 722.2,1602.7 725.1,1598.9C728.0,1595.1 731.6,1590.8 735.7,1588.3C740.7,1585.3 747.1,1583.3 752.7,1581.9C760.7,1579.9 770.4,1580.3 778.2,1577.7C782.9,1576.1 787.1,1572.1 791.0,1569.2C795.2,1566.0 799.5,1561.7 803.7,1558.6C807.7,1555.6 812.0,1551.9 816.5,1550.1C821.0,1548.2 827.0,1549.2 831.4,1547.1C834.8,1545.4 837.2,1541.3 839.9,1538.6C845.3,1536.5 851.4,1534.1 856.9,1532.2C859.6,1531.3 862.7,1530.5 865.4,1529.6L865.5,1530.4C871.5,1529.9 878.4,1530.1 884.4,1529.0C887.6,1528.4 890.6,1525.4 893.8,1525.1C900.4,1524.3 908.0,1525.6 914.6,1525.6C920.1,1525.7 926.2,1525.4 931.6,1525.3L935.4,1513.3C936.9,1510.0 938.3,1506.1 940.1,1503.0C942.0,1499.8 944.3,1496.3 946.7,1493.5C949.5,1490.3 952.8,1486.6 956.2,1484.1C960.4,1480.9 965.8,1478.3 970.4,1475.6C972.5,1479.5 975.1,1483.8 977.0,1487.8C979.1,1492.6 981.0,1498.1 982.6,1503.0C983.9,1506.5 985.1,1510.6 986.0,1514.3C986.5,1516.1 986.7,1518.1 987.0,1520.0C983.2,1523.6 979.0,1527.8 975.1,1531.3C970.9,1535.0 966.3,1539.2 961.9,1542.6C957.2,1546.2 951.6,1549.8 946.7,1553.0C942.5,1555.8 937.8,1558.9 933.5,1561.5C928.8,1564.4 923.5,1567.8 918.4,1570.0C909.5,1573.9 898.7,1576.2 890.1,1580.4C887.4,1581.7 885.6,1584.9 883.4,1587.0L863.9,1603.3C857.9,1607.2 851.2,1611.9 845.0,1615.6C839.1,1619.1 832.3,1622.9 826.1,1626.0C820.2,1628.9 813.4,1632.0 807.2,1634.5C801.3,1636.9 794.4,1639.1 788.3,1641.1C782.7,1642.9 776.1,1644.6 770.4,1646.2C757.9,1651.5 743.6,1656.8 731.5,1662.7C720.2,1668.2 708.0,1675.1 697.5,1681.8C688.9,1687.4 679.8,1694.5 671.9,1701.0C664.9,1706.8 658.5,1715.3 650.7,1720.1C643.3,1724.6 633.1,1725.9 625.2,1729.5C618.1,1732.7 610.4,1737.0 603.9,1741.4C596.7,1746.3 589.2,1752.6 582.7,1758.4C572.1,1767.8 561.5,1779.8 550.8,1789.0C547.2,1792.1 542.4,1794.7 538.0,1796.6C525.3,1802.3 510.6,1807.6 497.6,1812.8C480.0,1819.9 460.1,1827.8 442.4,1834.9L382.9,1867.6C348.2,1877.8 309.1,1889.0 274.4,1899.5C269.6,1901.0 264.3,1903.3 259.6,1905.0L246.8,1906.3C248.2,1904.5 250.0,1902.7 251.1,1900.8C252.5,1898.2 253.4,1895.0 254.5,1892.3L252.3,1885.1Z" fill="#FFAE2B" stroke="#FFAE2B"/>
<path d="M1223.0,725.8C1235.0,731.3 1248.9,736.8 1260.7,742.8C1267.1,746.1 1274.0,750.5 1279.6,754.9C1284.3,758.6 1289.0,763.6 1292.9,768.2C1295.9,771.8 1298.5,776.6 1301.2,780.6C1306.4,782.1 1312.4,783.2 1317.4,785.2C1320.7,786.5 1324.5,788.2 1326.9,790.8C1329.2,793.3 1330.5,797.1 1331.4,800.3C1332.7,805.0 1333.0,810.6 1333.7,815.4C1334.2,819.4 1334.7,823.9 1335.2,827.9C1304.1,834.2 1268.3,838.0 1238.1,847.5C1230.3,850.0 1225.6,859.6 1219.2,864.5C1212.3,869.9 1204.2,875.5 1196.5,879.6C1188.6,884.0 1177.8,885.4 1170.8,891.0C1165.2,895.5 1163.2,904.2 1158.7,909.9C1155.0,914.6 1150.0,919.2 1145.5,923.1C1141.5,926.5 1135.3,928.3 1132.3,932.5C1126.0,941.3 1122.6,953.4 1117.1,962.8C1115.9,965.0 1113.3,966.6 1111.5,968.4C1111.2,971.1 1110.4,974.1 1110.7,976.8C1111.2,980.5 1113.0,984.5 1114.1,988.1L1069.2,964.7C1066.4,968.7 1064.2,974.0 1060.5,977.1C1057.8,979.4 1053.5,979.7 1050.3,980.9C1052.0,985.4 1054.8,990.2 1055.6,994.9C1056.1,998.5 1054.5,1002.6 1054.0,1006.2L1021.9,996.8C1024.0,984.1 1025.8,969.7 1028.3,957.1C1029.5,951.6 1030.8,945.2 1033.3,940.1C1034.7,937.1 1038.1,935.0 1040.4,932.5L1037.0,906.8L1060.5,883.4L1060.5,878.5C1065.3,872.8 1070.5,866.2 1075.6,860.7C1085.0,850.8 1095.8,839.8 1105.8,830.5C1111.5,825.3 1118.3,819.7 1124.7,815.4C1132.8,810.0 1142.5,804.8 1151.2,800.3C1159.5,796.0 1169.6,792.7 1177.6,787.8C1180.7,785.9 1183.6,782.7 1185.2,779.5C1186.4,777.0 1185.7,773.6 1185.9,770.8C1189.3,768.1 1193.4,765.5 1196.5,762.5C1201.7,757.4 1207.4,751.4 1211.6,745.5C1215.9,739.6 1219.3,732.1 1223.0,725.8Z" fill="#D58400" stroke="#D58400"/>
<path d="M670.4,1202.5C700.9,1202.3 735.2,1203.1 765.7,1201.9C769.7,1201.7 774.1,1199.8 777.8,1197.9C780.5,1196.5 782.9,1193.8 785.3,1191.9C787.3,1195.1 789.0,1199.0 791.4,1201.9C794.3,1205.4 798.3,1208.8 802.0,1211.5C806.6,1215.0 812.0,1218.6 817.1,1221.2C823.6,1224.6 831.4,1227.6 838.3,1230.3C845.9,1233.2 854.9,1235.6 862.5,1238.8C869.4,1241.7 877.1,1245.5 883.6,1249.3C888.7,1252.3 894.3,1256.0 898.8,1259.9C903.1,1263.8 907.5,1268.8 910.9,1273.5C914.3,1278.5 917.1,1284.8 919.9,1290.2C922.2,1294.5 924.7,1299.4 926.9,1303.8L950.1,1363.1L897.6,1379.8L830.5,1399.4C821.8,1402.0 812.2,1406.1 803.1,1407.5C787.1,1410.2 768.7,1410.8 752.5,1412.3C752.4,1410.3 753.0,1408.0 752.1,1406.2C750.6,1403.2 747.2,1401.0 745.5,1398.1C744.0,1395.6 742.7,1392.5 742.3,1389.6C741.9,1386.6 742.2,1383.1 743.1,1380.1C744.2,1376.3 746.2,1372.2 748.3,1368.8C750.4,1365.5 753.6,1362.5 755.9,1359.4C759.7,1354.0 763.8,1347.9 767.2,1342.4C769.8,1338.2 772.7,1333.5 774.8,1329.1C776.3,1326.0 777.9,1322.2 778.2,1318.7C778.4,1316.5 775.9,1314.3 776.3,1312.1C777.3,1307.0 780.6,1301.9 782.4,1297.0C784.3,1291.6 786.2,1285.4 788.0,1280.0L789.0,1279.6C789.3,1273.8 789.9,1267.3 789.9,1261.4C789.9,1256.6 789.3,1251.2 789.0,1246.3L783.8,1241.8L773.2,1241.8L768.7,1246.3C765.8,1246.6 762.5,1247.9 759.6,1247.2C756.3,1246.4 753.9,1242.4 750.5,1241.8C743.4,1240.4 734.9,1242.9 727.9,1241.2C722.9,1239.9 718.9,1234.8 714.3,1232.7C708.7,1230.2 702.1,1228.1 696.1,1226.7C690.9,1225.4 684.8,1225.2 679.5,1224.5L670.4,1202.5Z" fill="#FFAE2B" stroke="#FFAE2B"/>
<path d="M893.2,1663.8L899.8,1664.7L901.3,1686.4C903.9,1688.5 907.0,1690.7 909.3,1693.0C912.0,1695.8 915.0,1699.1 916.8,1702.5C918.7,1705.9 919.6,1710.1 920.6,1713.8C921.6,1717.4 922.5,1721.5 922.9,1725.2C923.7,1732.4 923.2,1740.7 924.4,1747.8C924.7,1749.6 925.9,1751.4 927.2,1752.6C928.4,1753.6 930.4,1753.8 931.9,1754.5C934.1,1753.4 936.7,1752.7 938.6,1751.2C940.4,1749.8 941.8,1747.4 943.3,1745.6L948.0,1753.1L952.3,1753.1C954.3,1751.1 956.8,1749.2 958.4,1746.9C960.3,1744.1 961.7,1740.5 963.1,1737.4C964.4,1734.7 965.4,1731.4 966.5,1728.6C968.8,1729.9 971.2,1731.6 973.5,1732.7C976.4,1734.1 979.8,1735.6 983.0,1736.5C986.8,1737.6 992.2,1736.1 995.2,1738.8C1007.8,1749.8 1018.8,1765.2 1029.8,1777.7C1029.0,1779.6 1028.6,1782.1 1027.4,1783.7C1025.7,1785.9 1023.1,1787.9 1020.7,1789.4C1018.5,1790.9 1015.8,1792.4 1013.2,1793.2C1010.3,1794.1 1006.8,1794.2 1003.7,1794.7C1002.2,1797.5 1000.2,1800.6 999.0,1803.6C998.0,1806.2 997.6,1809.3 997.1,1812.1C996.1,1817.5 995.5,1823.7 994.3,1829.1C993.1,1834.6 991.6,1840.8 989.6,1846.1C987.1,1852.4 982.8,1858.8 980.2,1865.0C976.8,1873.3 973.8,1882.9 970.9,1891.4L999.3,1902.4L983.6,1927.5C973.0,1923.2 960.6,1919.2 950.4,1913.9C940.4,1908.7 929.7,1901.7 920.7,1894.8C911.9,1888.0 902.6,1879.6 895.2,1871.4C887.4,1862.8 880.1,1851.8 873.4,1842.3C867.1,1833.4 860.4,1823.1 854.5,1814.0C848.3,1804.4 841.8,1793.3 835.6,1783.7C833.9,1781.2 831.9,1778.5 829.9,1776.2C828.0,1773.9 825.4,1771.7 823.3,1769.6C823.7,1767.8 824.6,1765.8 824.6,1763.9C824.6,1762.0 823.7,1760.0 823.3,1758.2C821.8,1757.0 820.4,1755.2 818.6,1754.5C816.6,1753.6 814.1,1753.8 812.0,1753.5L808.2,1739.3L816.7,1737.4C819.7,1735.9 823.1,1734.3 826.1,1732.7C828.6,1731.4 831.5,1730.2 833.7,1728.6C836.4,1726.6 838.9,1723.8 841.2,1721.4C846.2,1716.3 851.7,1710.6 856.4,1705.3C861.4,1699.7 866.5,1693.0 871.5,1687.4C878.3,1679.7 886.3,1671.3 893.2,1663.8Z" fill="#FFBE55" stroke="#FFBE55"/>
<path d="M909.0,757.9C915.4,759.1 922.6,760.4 929.1,761.7C935.1,762.8 942.1,763.6 947.9,765.5C951.8,766.7 955.7,769.3 959.3,771.1L961.2,788.1C967.8,789.1 975.4,789.9 982.0,791.1C988.1,792.3 994.8,794.2 1000.9,795.7C1001.1,797.5 1002.0,799.6 1001.6,801.4C1000.5,807.2 998.0,813.4 996.3,819.1L1002.7,822.1L1060.6,878.8L1060.6,883.4L1037.9,906.0L1023.5,920.4L1022.8,927.9L962.3,980.1L852.3,859.9L909.0,757.9Z" fill="#D58400" stroke="#D58400"/>
<path d="M785.3,1191.9C788.2,1189.0 791.0,1185.1 794.4,1182.8C797.4,1180.7 801.4,1179.0 805.0,1178.3C810.7,1177.1 817.3,1177.2 823.1,1176.7C828.9,1176.3 835.6,1176.4 841.3,1175.2C845.8,1174.3 850.7,1172.1 854.9,1170.1C861.4,1167.0 868.0,1162.4 874.6,1159.5C880.2,1157.0 886.7,1154.9 892.7,1153.5C897.4,1152.3 903.0,1152.1 907.8,1151.6C911.7,1151.3 916.1,1151.2 919.9,1151.0C930.6,1151.3 942.6,1151.4 953.2,1151.9C962.9,1152.4 973.7,1153.9 983.4,1154.1C987.3,1154.1 991.8,1153.8 995.5,1152.6C999.4,1151.3 1003.1,1148.4 1006.7,1146.5C1009.0,1151.3 1011.7,1156.7 1013.7,1161.6C1015.6,1166.4 1018.1,1171.7 1019.1,1176.7C1020.0,1181.0 1018.9,1186.1 1019.7,1190.4C1020.8,1195.8 1023.2,1201.7 1024.9,1207.0L959.2,1230.3C960.7,1234.9 962.6,1240.1 963.8,1244.8C964.6,1248.1 965.1,1252.0 965.3,1255.4C965.4,1258.3 964.9,1261.6 964.7,1264.5C962.9,1267.4 961.5,1271.0 959.2,1273.5C956.8,1276.2 953.2,1278.4 950.2,1280.5C945.4,1283.7 939.6,1286.7 935.0,1290.2C933.0,1291.8 930.9,1294.0 929.6,1296.2C928.3,1298.4 927.8,1301.4 926.9,1303.8C924.7,1299.4 922.2,1294.5 919.9,1290.2C917.1,1284.8 914.3,1278.5 910.9,1273.5C907.5,1268.8 903.1,1263.8 898.8,1259.9C894.3,1256.0 888.7,1252.3 883.6,1249.3C877.1,1245.5 869.4,1241.7 862.5,1238.8C854.9,1235.6 845.9,1233.2 838.3,1230.3C831.4,1227.6 823.6,1224.6 817.1,1221.2C812.0,1218.6 806.6,1215.0 802.0,1211.5C798.3,1208.8 794.3,1205.4 791.4,1201.9C789.0,1199.0 787.3,1195.1 785.3,1191.9Z" fill="#FFAE2B" stroke="#FFAE2B"/>
<path d="M893.2,1663.8L955.6,1583.5L988.6,1605.2L997.7,1595.7L1009.4,1609.9C1005.8,1612.3 1001.6,1614.9 998.1,1617.5C994.4,1620.1 990.4,1623.2 986.7,1626.0C989.2,1629.0 991.6,1632.6 994.3,1635.4C996.5,1637.8 999.3,1640.0 1001.9,1642.0C1003.9,1643.7 1006.3,1645.2 1008.5,1646.8C1005.7,1649.5 1003.1,1653.1 1000.0,1655.3C996.1,1658.0 991.1,1660.0 986.7,1661.9C983.6,1663.2 979.9,1664.1 976.7,1665.1L976.3,1677.9C974.2,1678.2 971.7,1678.1 969.7,1678.9C968.5,1679.4 967.5,1680.8 966.5,1681.7C966.5,1683.5 966.0,1685.6 966.5,1687.4C967.1,1689.4 968.1,1691.7 969.7,1693.0C971.8,1694.8 974.7,1695.9 977.3,1696.4C979.8,1697.0 982.8,1696.4 985.4,1696.4C985.5,1700.8 986.1,1705.7 985.8,1710.1C985.6,1712.0 984.7,1714.0 983.9,1715.7C983.3,1717.0 981.9,1718.1 981.4,1719.5C981.1,1720.6 981.4,1722.1 981.4,1723.3L984.8,1727.1C987.3,1727.5 990.0,1728.6 992.4,1728.4C995.0,1728.2 997.4,1726.2 1000.0,1725.7C1001.7,1725.4 1003.8,1725.7 1005.6,1725.7C1006.5,1727.1 1007.8,1728.4 1008.5,1729.9C1009.7,1732.8 1010.2,1736.4 1011.3,1739.3C1012.3,1742.1 1013.6,1745.3 1015.1,1747.8C1016.6,1750.4 1018.8,1753.1 1020.7,1755.4C1023.0,1758.0 1025.6,1760.9 1028.3,1763.0C1031.7,1765.5 1035.8,1767.8 1039.6,1769.6C1043.1,1771.2 1047.3,1772.5 1051.0,1773.3C1054.4,1774.2 1058.7,1773.2 1061.7,1774.9C1065.5,1776.9 1068.2,1781.3 1071.2,1784.4C1060.5,1800.8 1048.0,1818.9 1037.8,1835.6C1025.0,1856.7 1011.6,1881.0 999.3,1902.4L970.9,1891.4C973.8,1882.9 976.8,1873.3 980.2,1865.0C982.8,1858.8 987.1,1852.4 989.6,1846.1C991.6,1840.8 993.1,1834.6 994.3,1829.1C995.5,1823.7 996.1,1817.5 997.1,1812.1C997.6,1809.3 998.0,1806.2 999.0,1803.6C1000.2,1800.6 1002.2,1797.5 1003.7,1794.7C1006.8,1794.2 1010.3,1794.1 1013.2,1793.2C1015.8,1792.4 1018.5,1790.9 1020.7,1789.4C1023.1,1787.9 1025.7,1785.9 1027.4,1783.7C1028.6,1782.1 1029.0,1779.6 1029.8,1777.7C1018.8,1765.2 1007.8,1749.8 995.2,1738.8C992.2,1736.1 986.8,1737.6 983.0,1736.5C979.8,1735.6 976.4,1734.1 973.5,1732.7C971.2,1731.6 968.8,1729.9 966.5,1728.6C965.4,1731.4 964.4,1734.7 963.1,1737.4C961.7,1740.5 960.3,1744.1 958.4,1746.9C956.8,1749.2 954.3,1751.1 952.3,1753.1L948.0,1753.1L943.3,1745.6C941.8,1747.4 940.4,1749.8 938.6,1751.2C936.7,1752.7 934.1,1753.4 931.9,1754.5C930.4,1753.8 928.4,1753.6 927.2,1752.6C925.9,1751.4 924.7,1749.6 924.4,1747.8C923.2,1740.7 923.7,1732.4 922.9,1725.2C922.5,1721.5 921.6,1717.4 920.6,1713.8C919.6,1710.1 918.7,1705.9 916.8,1702.5C915.0,1699.1 912.0,1695.8 909.3,1693.0C907.0,1690.7 903.9,1688.5 901.3,1686.4L899.8,1664.7L893.2,1663.8Z" fill="#FFAE2B" stroke="#FFAE2B"/>
<path d="M1088.2,1636.0L1177.9,1658.3L1191.2,1662.1C1192.1,1664.1 1193.4,1666.1 1194.0,1668.2C1194.8,1671.1 1194.9,1674.6 1195.3,1677.6C1195.3,1692.1 1195.3,1708.4 1195.3,1723.0C1195.3,1735.0 1195.3,1748.7 1195.3,1760.7C1196.1,1764.4 1196.6,1768.5 1197.8,1772.1C1199.0,1775.8 1200.6,1780.0 1202.5,1783.4C1205.1,1788.2 1208.7,1793.2 1211.6,1797.8C1214.4,1802.1 1217.4,1807.0 1220.1,1811.4C1218.9,1812.8 1217.0,1814.0 1216.3,1815.7C1215.1,1818.9 1215.7,1823.0 1214.5,1826.1C1213.8,1827.9 1211.9,1829.1 1210.7,1830.5C1206.1,1830.5 1201.0,1830.6 1196.5,1830.5C1191.7,1830.4 1186.2,1830.6 1181.4,1829.9C1174.6,1828.9 1167.1,1827.3 1160.6,1825.2C1154.3,1823.1 1147.5,1819.9 1141.7,1816.7C1137.2,1814.1 1132.5,1810.6 1128.5,1807.2C1124.6,1803.9 1120.4,1799.8 1117.1,1795.9C1114.4,1792.6 1111.7,1788.4 1109.6,1784.6C1106.8,1779.6 1104.4,1773.6 1102.0,1768.5L1085.3,1760.7C1088.4,1755.9 1091.6,1750.4 1094.8,1745.6C1096.5,1743.1 1098.9,1740.7 1100.5,1738.1C1102.5,1734.6 1104.8,1730.6 1106.1,1726.7C1107.4,1723.2 1108.1,1719.1 1108.4,1715.4C1108.7,1710.6 1108.5,1705.1 1108.0,1700.3C1107.5,1694.8 1106.5,1688.6 1105.2,1683.3C1104.1,1678.9 1102.0,1674.3 1100.5,1670.1C1096.5,1659.2 1092.1,1646.9 1088.2,1636.0Z" fill="#FFBE55" stroke="#FFBE55"/>
<path d="M962.3,980.1L1022.8,927.9L1023.5,920.4L1037.9,906.0L1040.0,930.2C1037.4,934.1 1033.6,938.0 1031.8,942.3C1029.5,947.9 1028.4,954.6 1027.3,960.5C1025.2,972.0 1023.6,985.2 1021.9,996.8C1032.0,999.7 1043.2,1004.3 1053.6,1005.9C1058.3,1006.6 1063.6,1004.8 1068.1,1003.7C1072.1,1002.8 1076.2,1000.2 1080.2,999.8C1086.0,999.2 1092.6,1000.4 1098.4,1000.7C1099.1,1013.0 1098.8,1026.9 1100.5,1039.1C1101.2,1044.2 1104.5,1049.3 1105.9,1054.3C1107.0,1058.0 1108.4,1062.4 1108.4,1066.4C1108.4,1070.8 1107.2,1075.7 1105.9,1080.0C1105.0,1083.1 1103.2,1086.3 1101.4,1089.0C1100.3,1090.7 1098.7,1092.6 1096.9,1093.6C1093.0,1095.6 1088.2,1096.7 1084.2,1098.1L1000.1,1119.3C990.4,1084.9 979.0,1046.4 969.8,1011.9C968.3,1006.2 968.2,999.5 966.8,993.8C965.7,989.3 963.7,984.5 962.3,980.1Z" fill="#FF9E00" stroke="#FF9E00"/>
<path d="M853.4,1034.6C871.8,1024.9 892.8,1014.6 910.9,1004.3C914.1,1002.5 917.4,999.6 919.9,996.8C922.3,994.2 923.6,990.2 926.0,987.7C928.5,985.1 931.7,982.3 935.0,981.1C939.6,979.3 945.3,978.8 950.2,978.6C954.1,978.5 958.4,979.6 962.3,980.1C963.7,984.5 965.7,989.3 966.8,993.8C968.2,999.5 968.3,1006.2 969.8,1011.9C979.0,1046.4 990.4,1084.9 1000.1,1119.3C1002.2,1122.2 1005.9,1124.9 1006.7,1128.4C1008.1,1134.0 1006.7,1140.7 1006.7,1146.5C1003.1,1148.4 999.4,1151.3 995.5,1152.6C991.8,1153.8 987.3,1154.1 983.4,1154.1C973.7,1153.9 962.9,1152.4 953.2,1151.9C942.6,1151.4 930.6,1151.3 919.9,1151.0C917.0,1138.5 913.5,1124.4 910.9,1111.7C909.6,1106.0 909.2,1099.3 907.8,1093.6C906.8,1089.1 905.6,1083.9 903.3,1080.0C901.6,1077.1 898.7,1074.5 895.7,1073.0C892.2,1071.2 887.6,1070.0 883.6,1070.0C876.8,1070.0 869.2,1072.0 862.5,1073.0C861.5,1069.4 860.7,1065.3 859.4,1061.8C858.3,1058.8 856.6,1055.5 854.9,1052.7C853.7,1050.8 851.8,1049.0 850.4,1047.3L834.6,1054.3L833.1,1050.3C835.7,1047.4 838.2,1043.6 841.3,1041.2C844.8,1038.5 849.5,1036.7 853.4,1034.6Z" fill="#FFAE2B" stroke="#FFAE2B"/>
<path d="M852.3,859.9L962.3,980.1C958.4,979.6 954.1,978.5 950.2,978.6C945.3,978.8 939.6,979.3 935.0,981.1C931.7,982.3 928.5,985.1 926.0,987.7C923.6,990.2 922.3,994.2 919.9,996.8C917.4,999.6 914.1,1002.5 910.9,1004.3C892.8,1014.6 871.8,1024.9 853.4,1034.6C846.6,1031.7 838.7,1029.0 832.2,1025.5C828.0,1023.2 823.6,1019.8 820.1,1016.4C817.5,1013.9 814.6,1010.8 813.5,1007.4C811.4,1000.9 811.4,993.0 810.4,986.2L804.4,981.7L802.0,972.6L791.1,975.9L852.3,859.9Z" fill="#FFBE55" stroke="#FFBE55"/>
<path d="M1706.7,1436.9C1711.4,1437.6 1716.8,1438.1 1721.5,1439.0C1727.0,1440.1 1733.3,1441.3 1738.6,1443.3C1744.3,1445.4 1749.9,1449.5 1755.6,1451.8C1760.8,1454.0 1766.9,1456.6 1772.6,1457.3C1778.0,1458.0 1784.2,1457.0 1789.6,1456.1C1795.5,1455.0 1802.0,1452.6 1807.9,1450.9C1814.2,1475.4 1823.4,1502.6 1827.8,1527.5C1828.7,1532.5 1825.0,1538.1 1824.4,1543.2C1823.9,1548.6 1825.1,1554.8 1824.4,1560.2C1823.7,1565.8 1821.5,1571.8 1820.2,1577.2L1814.2,1590.0C1806.3,1587.5 1797.2,1585.4 1789.6,1582.3C1753.5,1567.9 1713.5,1550.5 1677.8,1535.6C1680.9,1534.2 1684.2,1532.2 1687.5,1531.3C1692.2,1530.1 1697.9,1530.7 1702.4,1529.2C1704.9,1528.3 1706.8,1525.7 1708.8,1524.1C1709.6,1519.3 1711.2,1514.0 1711.3,1509.2C1711.9,1488.1 1712.3,1464.3 1710.9,1443.3C1710.8,1440.8 1708.0,1439.0 1706.7,1436.9Z" fill="#FFDFAA" stroke="#FFDFAA"/>
<path d="M1226.1,1538.7C1230.6,1543.3 1235.5,1548.6 1240.3,1552.9C1244.3,1556.5 1249.2,1560.1 1253.5,1563.3C1257.7,1566.4 1262.3,1570.0 1266.7,1572.7C1271.1,1575.5 1276.4,1577.9 1280.9,1580.3L1323.6,1520.4L1351.6,1535.9L1341.2,1565.2L1344.4,1568.6L1350.1,1563.5C1351.0,1563.9 1352.2,1564.1 1352.9,1564.8C1354.4,1566.4 1354.8,1569.4 1356.7,1570.5C1361.1,1573.0 1367.0,1574.0 1371.8,1575.6L1398.3,1542.6C1400.7,1543.6 1403.3,1545.1 1405.8,1546.0C1409.4,1547.1 1413.5,1548.1 1417.1,1548.8C1420.7,1549.4 1424.8,1549.9 1428.5,1550.1C1431.5,1550.2 1434.9,1550.1 1437.9,1549.7C1441.3,1549.3 1445.0,1548.4 1448.3,1547.8L1439.8,1594.5C1437.4,1594.8 1434.6,1594.8 1432.3,1595.5C1430.9,1595.9 1429.4,1596.8 1428.5,1597.9C1425.8,1601.0 1423.6,1605.2 1420.9,1608.3C1417.6,1612.2 1413.6,1616.5 1409.6,1619.6C1405.1,1623.2 1399.6,1626.5 1394.5,1629.1C1389.9,1631.4 1384.3,1633.2 1379.4,1634.8C1375.0,1636.2 1370.0,1637.3 1365.6,1638.5C1364.8,1636.7 1364.3,1634.5 1363.3,1632.9C1362.6,1631.8 1361.4,1630.9 1360.5,1630.0C1357.4,1629.9 1354.0,1629.5 1351.0,1629.5C1346.8,1629.5 1342.0,1629.5 1337.8,1630.0C1334.1,1630.5 1330.1,1631.6 1326.5,1632.5C1323.3,1633.2 1319.9,1634.3 1316.8,1635.1L1295.5,1614.3L1308.3,1598.3L1299.2,1591.3C1297.3,1593.2 1295.2,1595.4 1293.2,1597.3C1290.2,1600.1 1287.0,1603.4 1283.7,1605.8C1280.3,1608.3 1276.3,1610.9 1272.4,1612.4C1268.4,1614.0 1263.4,1614.6 1259.2,1615.6C1256.2,1612.5 1252.5,1609.2 1249.7,1605.8C1246.4,1601.8 1243.1,1597.0 1240.3,1592.6C1237.6,1588.5 1234.8,1583.8 1232.7,1579.4C1231.2,1576.0 1230.2,1571.9 1228.9,1568.4C1228.3,1562.8 1227.6,1556.6 1227.1,1551.0C1226.7,1547.1 1226.4,1542.7 1226.1,1538.7Z" fill="#FFAE2B" stroke="#FFAE2B"/>
<path d="M600.5,1507.5C608.4,1507.1 617.4,1507.4 625.2,1506.3C629.0,1505.7 633.0,1503.7 636.7,1502.4C641.1,1504.1 646.1,1506.2 650.7,1507.5C656.1,1509.2 662.3,1510.4 667.7,1511.8C673.1,1513.2 679.3,1514.7 684.7,1516.0C679.3,1521.5 673.0,1527.5 667.7,1533.0C664.6,1536.3 660.9,1539.9 658.3,1543.7C656.4,1546.5 655.5,1550.3 654.1,1553.5L657.1,1560.7L669.8,1565.8C674.6,1566.9 680.2,1567.3 684.7,1569.2C689.2,1571.1 693.8,1574.4 697.5,1577.7C700.7,1580.6 703.5,1584.7 706.0,1588.3C708.2,1591.6 710.5,1595.4 712.3,1598.9C714.4,1602.9 716.1,1607.6 717.9,1611.7C716.8,1613.7 716.2,1616.5 714.5,1618.1C710.9,1621.4 705.9,1624.1 701.7,1626.6C697.1,1629.3 691.8,1632.3 686.8,1634.2C682.2,1636.0 676.8,1637.6 671.9,1638.1C668.5,1638.3 664.7,1636.9 661.3,1636.4L652.8,1626.6L606.1,1654.2C606.3,1660.3 606.4,1667.2 606.9,1673.3C607.1,1676.4 607.8,1679.7 608.2,1682.7C606.1,1684.5 604.2,1687.0 601.8,1688.2C599.0,1689.6 595.4,1689.7 592.4,1690.3C591.6,1679.5 590.1,1667.2 589.9,1656.3C589.7,1648.2 590.0,1638.9 591.2,1630.8C592.2,1623.2 596.3,1615.1 596.7,1607.4C598.0,1584.4 595.9,1558.3 596.7,1535.2C596.8,1531.6 599.2,1528.0 599.7,1524.5C600.4,1519.1 600.3,1513.0 600.5,1507.5Z" fill="#FFBE55" stroke="#FFBE55"/>
<path d="M1484.2,1476.4C1502.7,1470.3 1523.2,1462.6 1541.9,1457.1C1545.9,1456.0 1550.9,1456.4 1555.1,1455.8C1559.3,1455.2 1564.1,1454.4 1568.3,1453.4C1573.2,1452.1 1578.7,1450.5 1583.4,1448.6C1588.1,1446.8 1593.1,1443.9 1597.6,1441.7C1601.5,1446.6 1606.2,1452.0 1609.9,1457.1C1613.7,1462.4 1617.7,1468.6 1621.2,1474.2C1623.8,1478.3 1626.3,1483.1 1628.8,1487.4C1630.0,1489.5 1631.3,1491.9 1632.5,1494.0C1624.4,1501.9 1614.4,1510.0 1607.0,1518.6C1605.2,1520.7 1605.5,1524.5 1604.2,1527.1C1602.8,1529.7 1600.5,1532.3 1598.5,1534.6C1596.3,1537.2 1593.6,1540.0 1591.0,1542.2C1587.5,1545.1 1583.5,1548.2 1579.6,1550.7C1574.7,1553.8 1568.4,1556.2 1563.6,1559.6C1561.0,1561.4 1559.0,1564.3 1557.0,1566.7C1555.0,1569.1 1552.8,1571.7 1551.3,1574.3C1549.4,1577.6 1548.1,1581.6 1546.6,1585.1C1545.1,1582.2 1543.8,1578.8 1541.9,1576.2C1539.2,1572.6 1535.7,1568.8 1532.4,1565.8C1529.0,1562.7 1524.9,1559.7 1521.1,1557.3C1517.0,1554.8 1512.3,1552.4 1507.8,1550.7C1504.4,1549.3 1500.2,1548.6 1496.5,1547.8C1495.2,1547.6 1493.7,1547.5 1492.3,1547.3C1492.3,1537.8 1493.6,1527.0 1492.3,1517.6C1491.9,1513.9 1488.6,1510.6 1487.1,1507.2C1486.6,1506.4 1486.2,1505.3 1486.1,1504.4C1485.3,1495.5 1484.8,1485.4 1484.2,1476.4Z" fill="#FFBE55" stroke="#FFBE55"/>
<path d="M927.1,2056.3C906.0,2056.1 882.3,2054.9 861.2,2055.5C855.6,2055.6 849.2,2056.3 844.2,2058.5C840.5,2060.1 836.8,2063.4 834.8,2067.0C832.5,2071.3 831.7,2077.0 831.4,2081.8C831.2,2085.3 832.4,2089.2 833.5,2092.5C834.5,2095.4 837.2,2098.0 837.8,2101.0C838.2,2103.0 836.9,2105.3 836.5,2107.4C834.2,2108.4 831.8,2110.5 829.3,2110.8C824.5,2111.2 819.2,2109.0 814.4,2109.5C808.4,2110.0 802.0,2112.4 796.1,2113.7C798.6,2117.1 802.3,2120.4 803.8,2124.4C805.5,2128.8 804.8,2134.6 805.9,2139.2C806.6,2142.1 808.2,2145.0 809.3,2147.7C813.7,2146.0 818.4,2143.6 822.9,2142.2C825.9,2141.3 829.6,2141.1 832.7,2140.5C835.7,2146.2 838.5,2153.0 842.0,2158.4C846.3,2164.9 851.3,2172.1 856.9,2177.5C861.7,2182.0 868.1,2185.9 873.9,2189.0C880.4,2192.4 888.3,2195.3 895.2,2197.9C900.1,2199.8 905.9,2201.4 910.9,2203.0L924.9,2084.0L927.1,2056.3Z" fill="#FFCF80" stroke="#FFCF80"/>
<path d="M1028.3,1585.3C1029.5,1587.2 1030.5,1589.5 1032.1,1591.0C1034.2,1593.2 1037.1,1595.0 1039.6,1596.7C1042.6,1598.6 1046.2,1600.3 1049.1,1602.4C1051.7,1604.2 1054.4,1606.7 1056.6,1609.0C1058.6,1610.9 1060.7,1613.3 1062.3,1615.6C1063.6,1617.3 1064.6,1619.4 1065.7,1621.2C1065.4,1623.1 1065.2,1625.2 1064.6,1626.9C1063.8,1628.9 1061.9,1630.6 1061.4,1632.6C1060.6,1635.5 1060.9,1639.0 1060.4,1642.0C1060.0,1645.1 1059.5,1648.5 1058.5,1651.5C1057.6,1654.3 1056.5,1657.5 1054.8,1660.0C1053.7,1661.6 1051.5,1662.6 1050.0,1663.8C1049.9,1668.9 1050.0,1674.7 1049.5,1679.8C1049.1,1682.9 1048.2,1686.3 1047.2,1689.3C1046.3,1691.8 1044.8,1694.5 1043.4,1696.8C1042.0,1699.2 1039.4,1701.4 1038.7,1704.0C1037.9,1707.0 1038.5,1710.7 1038.7,1713.8C1038.8,1716.3 1039.5,1719.0 1039.6,1721.4C1040.0,1728.3 1040.0,1736.2 1040.2,1743.1L1045.3,1742.2C1047.1,1743.4 1049.4,1744.5 1051.0,1746.0C1052.9,1747.8 1054.6,1750.4 1056.3,1752.6L1057.6,1737.4C1059.1,1738.1 1060.7,1739.1 1062.3,1739.3C1066.1,1739.9 1070.4,1739.7 1074.2,1739.9C1074.0,1741.5 1073.4,1743.4 1073.7,1745.0C1074.1,1747.5 1075.1,1750.4 1076.5,1752.6C1077.6,1754.4 1079.6,1755.8 1081.2,1757.3C1082.5,1758.5 1084.0,1759.6 1085.3,1760.7L1071.2,1784.4C1068.2,1781.3 1065.5,1776.9 1061.7,1774.9C1058.7,1773.2 1054.4,1774.2 1051.0,1773.3C1047.3,1772.5 1043.1,1771.2 1039.6,1769.6C1035.8,1767.8 1031.7,1765.5 1028.3,1763.0C1025.6,1760.9 1023.0,1758.0 1020.7,1755.4C1018.8,1753.1 1016.6,1750.4 1015.1,1747.8C1013.6,1745.3 1012.3,1742.1 1011.3,1739.3C1010.2,1736.4 1009.7,1732.8 1008.5,1729.9C1007.8,1728.4 1006.5,1727.1 1005.6,1725.7C1003.8,1725.7 1001.7,1725.4 1000.0,1725.7C997.4,1726.2 995.0,1728.2 992.4,1728.4C990.0,1728.6 987.3,1727.5 984.8,1727.1L981.4,1723.3C981.4,1722.1 981.1,1720.6 981.4,1719.5C981.9,1718.1 983.3,1717.0 983.9,1715.7C984.7,1714.0 985.6,1712.0 985.8,1710.1C986.1,1705.7 985.5,1700.8 985.4,1696.4C982.8,1696.4 979.8,1697.0 977.3,1696.4C974.7,1695.9 971.8,1694.8 969.7,1693.0C968.1,1691.7 967.1,1689.4 966.5,1687.4C966.0,1685.6 966.5,1683.5 966.5,1681.7C967.5,1680.8 968.5,1679.4 969.7,1678.9C971.7,1678.1 974.2,1678.2 976.3,1677.9L976.7,1665.1C979.9,1664.1 983.6,1663.2 986.7,1661.9C991.1,1660.0 996.1,1658.0 1000.0,1655.3C1003.1,1653.1 1005.7,1649.5 1008.5,1646.8C1006.3,1645.2 1003.9,1643.7 1001.9,1642.0C999.3,1640.0 996.5,1637.8 994.3,1635.4C991.6,1632.6 989.2,1629.0 986.7,1626.0C990.4,1623.2 994.4,1620.1 998.1,1617.5C1001.6,1614.9 1005.8,1612.3 1009.4,1609.9C1011.8,1607.8 1014.8,1605.6 1017.0,1603.3C1019.3,1600.8 1021.7,1597.7 1023.6,1594.8C1025.4,1591.9 1026.8,1588.4 1028.3,1585.3Z" fill="#FFAE2B" stroke="#FFAE2B"/>
<path d="M897.6,1379.8L950.1,1363.1C987.0,1352.4 1028.4,1340.0 1065.4,1329.5C1086.2,1323.6 1109.8,1317.5 1130.7,1311.8C1130.4,1313.6 1130.3,1315.7 1129.7,1317.5C1129.0,1320.0 1128.3,1322.8 1126.9,1325.0C1124.9,1328.3 1122.2,1331.9 1119.4,1334.5C1115.5,1338.0 1110.4,1341.0 1106.1,1343.9C1102.0,1346.7 1096.9,1349.4 1092.9,1352.4C1089.7,1354.9 1086.0,1357.8 1083.5,1360.9C1081.7,1363.0 1080.5,1365.9 1079.7,1368.5C1078.8,1371.4 1078.4,1374.9 1078.4,1377.9C1078.4,1381.0 1078.9,1384.4 1079.7,1387.4C1080.1,1389.0 1081.2,1390.6 1081.9,1392.1L1077.8,1396.4C1076.0,1396.7 1074.0,1397.2 1072.1,1397.2C1069.6,1397.2 1066.7,1396.6 1064.2,1396.3L1063.2,1381.3L970.4,1414.2C969.4,1412.3 968.7,1410.1 967.5,1408.5C966.3,1406.8 964.3,1405.3 962.8,1403.8C960.4,1403.8 957.6,1403.2 955.2,1403.8C950.8,1404.9 946.2,1407.4 942.0,1409.1L907.1,1416.4C906.8,1415.1 906.3,1413.6 906.1,1412.3C905.7,1408.6 905.8,1404.5 905.2,1400.9C904.6,1397.8 903.4,1394.5 902.3,1391.5C901.0,1387.7 899.1,1383.5 897.6,1379.8Z" fill="#FFBE55" stroke="#FFBE55"/>
<path d="M748.7,1415.1L752.5,1412.3C768.7,1410.8 787.1,1410.2 803.1,1407.5C812.2,1406.1 821.8,1402.0 830.5,1399.4L835.3,1426.4C835.9,1428.5 836.2,1431.1 837.1,1433.0C838.6,1436.2 841.3,1439.3 842.8,1442.5C845.6,1448.4 848.3,1455.2 850.4,1461.4C853.2,1469.7 855.8,1479.3 857.9,1487.8C859.7,1495.0 861.4,1503.2 862.7,1510.5C863.8,1516.8 864.6,1524.0 865.5,1530.4L857.0,1531.9L843.8,1515.6L822.6,1522.4L813.9,1489.4L748.7,1517.1L748.7,1415.1Z" fill="#FFAE2B" stroke="#FFAE2B"/>
<path d="M770.4,1646.2C776.1,1644.6 782.7,1642.9 788.3,1641.1C794.4,1639.1 801.3,1636.9 807.2,1634.5C813.4,1632.0 820.2,1628.9 826.1,1626.0C832.3,1622.9 839.1,1619.1 845.0,1615.6C851.2,1611.9 857.9,1607.2 863.9,1603.3L882.8,1587.2L893.2,1663.8C886.3,1671.3 878.3,1679.7 871.5,1687.4C866.5,1693.0 861.4,1699.7 856.4,1705.3C851.7,1710.6 846.2,1716.3 841.2,1721.4C838.9,1723.8 836.4,1726.6 833.7,1728.6C831.5,1730.2 828.6,1731.4 826.1,1732.7C823.1,1734.3 819.7,1735.9 816.7,1737.4L805.3,1739.3L770.4,1646.2Z" fill="#FFAE2B" stroke="#FFAE2B"/>
<path d="M1597.6,1441.7C1598.8,1440.6 1600.4,1439.6 1601.4,1438.3C1602.3,1436.9 1602.7,1435.0 1603.3,1433.5C1605.4,1433.7 1607.8,1434.3 1609.9,1434.1C1613.6,1433.7 1617.7,1432.9 1621.2,1431.6C1625.0,1430.3 1629.2,1428.2 1632.5,1426.0C1637.1,1422.9 1640.9,1417.7 1645.8,1415.2C1650.8,1412.6 1657.4,1412.0 1662.8,1410.3C1666.5,1409.1 1670.3,1407.0 1674.1,1406.1C1675.9,1405.7 1678.1,1405.8 1679.8,1406.5C1681.9,1407.4 1683.9,1409.2 1685.5,1410.9C1686.9,1412.4 1688.0,1414.7 1689.2,1416.5C1690.0,1417.6 1690.8,1419.0 1691.8,1419.9C1696.1,1424.1 1701.8,1428.1 1705.8,1432.7C1706.7,1433.7 1706.4,1435.6 1706.7,1436.9C1708.0,1439.0 1710.8,1440.8 1710.9,1443.3C1712.3,1464.3 1711.9,1488.1 1711.3,1509.2C1711.2,1514.0 1709.6,1519.3 1708.8,1524.1C1706.8,1525.7 1704.9,1528.3 1702.4,1529.2C1697.9,1530.7 1692.2,1530.1 1687.5,1531.3C1684.2,1532.2 1680.9,1534.2 1677.8,1535.6L1642.9,1521.9C1641.1,1516.9 1639.1,1511.3 1637.3,1506.3C1635.8,1502.3 1634.1,1497.9 1632.5,1494.0C1631.3,1491.9 1630.0,1489.5 1628.8,1487.4C1626.3,1483.1 1623.8,1478.3 1621.2,1474.2C1617.7,1468.6 1613.7,1462.4 1609.9,1457.1C1606.2,1452.0 1601.5,1446.6 1597.6,1441.7Z" fill="#FFCF80" stroke="#FFCF80"/>
<path d="M1441.3,1409.3L1467.2,1402.9L1472.9,1388.2C1475.6,1389.4 1478.6,1390.9 1481.4,1392.0C1484.4,1393.1 1487.7,1394.2 1490.8,1394.8C1493.8,1395.4 1497.2,1395.8 1500.3,1395.7C1503.3,1395.7 1506.8,1395.2 1509.7,1394.4C1512.3,1393.7 1515.0,1392.3 1517.3,1391.0C1519.9,1389.6 1522.7,1387.5 1525.2,1385.9C1531.1,1388.5 1538.1,1390.7 1543.7,1393.8C1561.6,1403.9 1581.0,1416.6 1598.5,1427.3L1602.3,1423.1L1603.3,1433.5C1602.7,1435.0 1602.3,1436.9 1601.4,1438.3C1600.4,1439.6 1598.8,1440.6 1597.6,1441.7C1593.1,1443.9 1588.1,1446.8 1583.4,1448.6C1578.7,1450.5 1573.2,1452.1 1568.3,1453.4C1564.1,1454.4 1559.3,1455.2 1555.1,1455.8C1550.9,1456.4 1545.9,1456.0 1541.9,1457.1C1523.2,1462.6 1502.7,1470.3 1484.2,1476.4L1481.8,1457.1L1449.8,1464.7L1449.3,1455.3C1448.1,1454.4 1446.9,1453.0 1445.5,1452.4C1443.8,1451.7 1441.7,1451.6 1439.8,1451.5C1436.8,1451.2 1433.4,1451.2 1430.4,1451.1L1430.4,1442.0C1433.4,1441.1 1436.9,1440.3 1439.8,1439.2C1442.3,1438.2 1445.2,1437.1 1447.4,1435.4C1448.8,1434.3 1449.7,1432.2 1450.8,1430.7C1450.3,1429.5 1450.1,1427.9 1449.3,1426.9C1448.3,1425.9 1446.8,1425.1 1445.5,1424.6C1444.3,1424.2 1442.9,1424.3 1441.7,1424.1L1441.3,1409.3Z" fill="#FFCF80" stroke="#FFCF80"/>
<path d="M1047.0,1273.5C1052.8,1271.1 1059.7,1269.2 1065.1,1266.0C1070.4,1262.8 1075.9,1258.3 1080.2,1253.9C1084.4,1249.5 1087.8,1243.6 1091.4,1238.8L1114.1,1234.2C1114.7,1229.9 1114.5,1224.8 1115.9,1220.6C1117.2,1216.8 1119.7,1212.8 1122.6,1210.0C1126.1,1206.6 1131.4,1204.3 1135.6,1201.6C1146.9,1220.7 1160.5,1241.8 1171.0,1261.4C1173.1,1265.4 1174.3,1270.5 1174.6,1275.0C1174.8,1279.0 1173.6,1283.4 1172.5,1287.1C1171.7,1289.8 1169.8,1292.3 1168.5,1294.8L1166.6,1296.7L1130.7,1311.8L1065.1,1329.4L1047.0,1273.5Z" fill="#FFAE2B" stroke="#FFAE2B"/>
<path d="M1281.5,1866.8C1284.6,1868.3 1287.8,1870.3 1291.0,1871.5C1293.3,1872.4 1296.1,1873.1 1298.5,1873.4C1300.7,1873.6 1303.1,1873.5 1305.1,1872.8C1306.9,1872.2 1308.6,1870.9 1309.9,1869.6C1311.1,1868.3 1312.0,1866.5 1312.7,1864.9C1313.6,1862.8 1313.5,1860.2 1314.6,1858.3C1315.7,1856.4 1317.9,1855.1 1319.3,1853.5C1320.3,1852.4 1321.7,1851.2 1322.2,1849.7C1322.7,1848.0 1323.0,1845.8 1322.5,1844.1C1322.0,1842.1 1320.8,1839.9 1319.3,1838.4C1317.5,1836.5 1314.6,1835.5 1312.7,1833.7C1311.7,1832.7 1311.0,1831.1 1310.3,1829.9L1311.4,1817.6C1312.7,1817.0 1314.3,1816.5 1315.5,1815.7C1317.4,1814.6 1319.5,1813.3 1321.2,1812.0C1322.6,1810.9 1324.0,1809.4 1325.4,1808.2L1324.0,1805.7L1312.7,1805.3C1312.1,1804.3 1311.6,1802.9 1310.8,1801.9C1310.1,1801.0 1308.9,1800.1 1308.0,1799.3L1329.1,1791.2C1330.8,1795.7 1332.6,1800.9 1334.4,1805.3C1336.1,1809.3 1338.1,1813.8 1340.1,1817.6C1342.9,1822.9 1346.3,1828.7 1349.6,1833.7C1353.6,1839.9 1360.4,1845.6 1362.8,1852.6C1365.4,1860.0 1363.7,1869.3 1364.7,1877.1C1365.0,1879.6 1365.7,1882.4 1366.6,1884.7C1374.1,1904.8 1383.3,1927.1 1391.1,1947.1L1331.6,1958.0L1309.9,1946.1L1316.5,1929.7C1310.7,1928.6 1304.2,1927.8 1298.5,1926.3C1296.2,1925.6 1293.8,1924.4 1291.9,1922.9C1291.0,1922.2 1290.5,1920.8 1290.4,1919.7C1290.2,1916.9 1290.4,1913.8 1291.0,1911.2C1291.8,1907.7 1293.5,1904.1 1294.8,1900.8C1296.5,1896.3 1298.6,1891.4 1300.4,1887.0L1291.0,1886.2L1291.0,1887.5L1281.5,1887.5L1281.5,1866.8Z" fill="#FFBE55" stroke="#FFBE55"/>
<path d="M1069.9,1495.1C1073.6,1493.9 1077.8,1492.4 1081.6,1491.3C1086.4,1489.9 1091.8,1488.6 1096.7,1487.5C1102.7,1486.2 1109.5,1484.8 1115.6,1483.7C1121.6,1482.7 1128.4,1481.5 1134.5,1480.9C1141.7,1480.2 1149.9,1480.0 1157.1,1479.6C1161.4,1482.7 1166.4,1485.9 1170.4,1489.4C1173.7,1492.4 1177.0,1496.3 1179.8,1499.8C1182.1,1502.7 1184.3,1506.2 1186.4,1509.2L1185.5,1514.2C1184.3,1515.6 1183.3,1517.5 1181.7,1518.5C1178.9,1520.3 1175.3,1521.4 1172.3,1522.7C1169.3,1523.9 1165.7,1524.6 1162.8,1526.1C1160.2,1527.4 1157.4,1529.2 1155.3,1531.2C1153.7,1532.7 1152.1,1534.8 1151.5,1536.8C1150.8,1539.2 1151.2,1542.0 1151.1,1544.4C1148.2,1545.6 1144.7,1546.5 1142.0,1548.2C1138.7,1550.2 1135.5,1553.1 1132.6,1555.7C1129.4,1558.6 1126.2,1562.2 1123.1,1565.2C1121.1,1567.2 1118.6,1569.3 1116.5,1571.2C1115.0,1569.6 1113.5,1567.6 1111.8,1566.1C1109.5,1564.1 1106.9,1561.8 1104.2,1560.5C1101.4,1559.1 1097.7,1558.8 1094.8,1557.6C1092.3,1556.6 1089.7,1555.0 1087.2,1553.8C1085.4,1553.0 1083.5,1551.8 1081.6,1551.4C1079.5,1550.9 1077.1,1550.7 1075.0,1551.0C1073.0,1551.3 1070.9,1552.2 1069.3,1553.3C1067.8,1554.3 1066.4,1556.0 1065.5,1557.6C1064.5,1559.6 1064.2,1562.1 1063.6,1564.2C1063.1,1566.2 1062.7,1568.4 1062.3,1570.3C1061.6,1569.6 1060.7,1568.8 1060.0,1568.0C1057.5,1564.8 1054.9,1561.0 1052.5,1557.8C1048.9,1554.1 1045.1,1549.8 1041.2,1546.4C1036.6,1542.5 1030.9,1538.7 1026.1,1535.1L1033.7,1529.8C1036.7,1527.6 1040.4,1525.4 1043.1,1522.8C1045.0,1521.0 1046.5,1518.4 1047.8,1516.2C1049.2,1513.9 1050.1,1510.9 1051.6,1508.6C1053.4,1506.0 1055.6,1503.0 1058.2,1501.1C1061.6,1498.6 1066.1,1497.0 1069.9,1495.1Z" fill="#FFAE2B" stroke="#FFAE2B"/>
<path d="M964.7,1264.5C968.3,1266.4 972.5,1268.2 975.9,1270.5C979.5,1273.1 983.5,1276.3 986.5,1279.6C988.6,1281.9 990.0,1285.3 991.6,1288.1C993.8,1286.3 996.0,1283.7 998.6,1282.6C1003.2,1280.7 1008.8,1279.5 1013.7,1278.7C1019.4,1277.7 1026.1,1278.1 1031.8,1277.2C1036.8,1276.4 1042.1,1274.7 1047.0,1273.5L1065.1,1329.4L950.1,1363.1L926.9,1303.8C927.8,1301.4 928.3,1298.4 929.6,1296.2C930.9,1294.0 933.0,1291.8 935.0,1290.2C939.6,1286.7 945.4,1283.7 950.2,1280.5C953.2,1278.4 956.8,1276.2 959.2,1273.5C961.5,1271.0 962.9,1267.4 964.7,1264.5Z" fill="#FFBE55" stroke="#FFBE55"/>
<path d="M883.4,1587.0C885.6,1584.9 887.4,1581.7 890.1,1580.4C898.7,1576.2 909.5,1573.9 918.4,1570.0C923.5,1567.8 928.8,1564.4 933.5,1561.5C937.8,1558.9 942.5,1555.8 946.7,1553.0C951.6,1549.8 957.2,1546.2 961.9,1542.6C966.3,1539.2 970.9,1535.0 975.1,1531.3C979.0,1527.8 983.2,1523.6 987.0,1520.0L987.4,1534.1C991.3,1535.0 995.8,1535.7 999.6,1537.0C1003.4,1538.2 1007.6,1539.7 1011.0,1541.7C1014.3,1543.7 1017.6,1546.6 1020.4,1549.2C1023.1,1551.7 1025.7,1554.9 1028.0,1557.8C1030.0,1560.3 1031.8,1563.5 1033.7,1566.3C1032.8,1569.3 1032.0,1572.8 1031.1,1575.9C1030.3,1578.9 1029.2,1582.3 1028.3,1585.3C1026.8,1588.4 1025.4,1591.9 1023.6,1594.8C1021.7,1597.7 1019.3,1600.8 1017.0,1603.3C1014.8,1605.6 1011.8,1607.8 1009.4,1609.9L997.7,1595.7L988.6,1605.2L955.6,1583.5L893.2,1663.8L882.8,1587.2L883.4,1587.0Z" fill="#FFAE2B" stroke="#FFAE2B"/>
<path d="M1259.2,1615.6C1263.4,1614.6 1268.4,1614.0 1272.4,1612.4C1276.3,1610.9 1280.3,1608.3 1283.7,1605.8C1287.0,1603.4 1290.2,1600.1 1293.2,1597.3C1295.2,1595.4 1297.3,1593.2 1299.2,1591.3L1308.3,1598.3L1295.5,1614.3L1316.8,1635.1L1309.2,1639.8C1312.0,1644.7 1315.0,1650.1 1317.8,1654.9C1320.2,1659.2 1323.5,1663.6 1325.3,1668.2C1326.9,1672.2 1327.0,1677.2 1328.1,1681.4C1329.4,1685.7 1331.0,1690.5 1332.9,1694.6C1334.9,1699.0 1337.9,1703.7 1340.4,1707.8C1343.4,1712.7 1346.2,1718.6 1349.9,1723.0C1352.9,1726.6 1357.6,1729.4 1361.2,1732.4C1365.5,1736.0 1370.4,1739.9 1374.4,1743.7C1378.8,1747.8 1383.7,1752.4 1387.7,1757.0C1389.9,1759.6 1391.8,1763.1 1393.7,1766.0C1389.4,1768.3 1384.6,1771.0 1380.1,1773.0C1374.2,1775.7 1367.4,1778.4 1361.2,1780.6C1355.3,1782.7 1348.4,1784.7 1342.3,1786.3C1338.1,1787.3 1333.3,1787.8 1329.1,1788.5C1327.3,1785.1 1325.0,1781.3 1323.4,1777.8C1320.2,1770.6 1316.9,1762.4 1314.0,1755.1C1310.8,1747.3 1307.5,1738.4 1304.5,1730.5C1301.5,1722.7 1297.9,1713.9 1295.1,1706.0C1294.0,1703.0 1293.2,1699.5 1292.2,1696.5C1291.8,1691.7 1291.2,1686.2 1290.9,1681.4C1290.7,1677.8 1290.7,1673.7 1290.9,1670.1C1291.1,1667.0 1291.9,1663.6 1292.2,1660.6C1292.6,1657.3 1292.9,1653.5 1293.2,1650.2C1292.0,1648.7 1290.8,1646.8 1289.4,1645.5C1286.9,1643.2 1283.4,1641.3 1280.9,1638.9C1273.7,1631.7 1266.1,1623.1 1259.2,1615.6Z" fill="#FFBE55" stroke="#FFBE55"/>
<path d="M1033.7,1566.3L1039.3,1561.0C1042.3,1563.3 1045.5,1566.1 1048.8,1568.1C1050.4,1569.2 1052.6,1569.7 1054.4,1570.4L1060.1,1568.1L1062.3,1570.3C1065.1,1578.0 1068.2,1586.8 1071.2,1594.5C1076.4,1607.8 1082.7,1622.7 1088.2,1636.0C1092.1,1646.9 1096.5,1659.2 1100.5,1670.1C1102.0,1674.3 1104.1,1678.9 1105.2,1683.3C1106.5,1688.6 1107.5,1694.8 1108.0,1700.3C1108.5,1705.1 1108.7,1710.6 1108.4,1715.4C1108.1,1719.1 1107.4,1723.2 1106.1,1726.7C1104.8,1730.6 1102.5,1734.6 1100.5,1738.1C1098.9,1740.7 1096.5,1743.1 1094.8,1745.6C1091.6,1750.4 1088.4,1755.9 1085.3,1760.7C1084.0,1759.6 1082.5,1758.5 1081.2,1757.3C1079.6,1755.8 1077.6,1754.4 1076.5,1752.6C1075.1,1750.4 1074.1,1747.5 1073.7,1745.0C1073.4,1743.4 1074.0,1741.5 1074.2,1739.9C1070.4,1739.7 1066.1,1739.9 1062.3,1739.3C1060.7,1739.1 1059.1,1738.1 1057.6,1737.4L1056.3,1752.6C1054.6,1750.4 1052.9,1747.8 1051.0,1746.0C1049.4,1744.5 1047.1,1743.4 1045.3,1742.2L1040.2,1743.1C1040.0,1736.2 1040.0,1728.3 1039.6,1721.4C1039.5,1719.0 1038.8,1716.3 1038.7,1713.8C1038.5,1710.7 1037.9,1707.0 1038.7,1704.0C1039.4,1701.4 1042.0,1699.2 1043.4,1696.8C1044.8,1694.5 1046.3,1691.8 1047.2,1689.3C1048.2,1686.3 1049.1,1682.9 1049.5,1679.8C1050.0,1674.7 1049.9,1668.9 1050.0,1663.8C1051.5,1662.6 1053.7,1661.6 1054.8,1660.0C1056.5,1657.5 1057.6,1654.3 1058.5,1651.5C1059.5,1648.5 1060.0,1645.1 1060.4,1642.0C1060.9,1639.0 1060.6,1635.5 1061.4,1632.6C1061.9,1630.6 1063.8,1628.9 1064.6,1626.9C1065.2,1625.2 1065.4,1623.1 1065.7,1621.2C1064.6,1619.4 1063.6,1617.3 1062.3,1615.6C1060.7,1613.3 1058.6,1610.9 1056.6,1609.0C1054.4,1606.7 1051.7,1604.2 1049.1,1602.4C1046.2,1600.3 1042.6,1598.6 1039.6,1596.7C1037.1,1595.0 1034.2,1593.2 1032.1,1591.0C1030.5,1589.5 1029.5,1587.2 1028.3,1585.3C1029.2,1582.3 1030.3,1578.9 1031.1,1575.9C1032.0,1572.8 1032.8,1569.3 1033.7,1566.3Z" fill="#FFAE2B" stroke="#FFAE2B"/>
<path d="M1195.3,1722.6C1201.8,1723.0 1209.3,1722.9 1215.7,1723.9C1220.1,1724.6 1224.8,1726.1 1228.9,1727.7C1232.7,1729.1 1236.9,1731.2 1240.3,1733.3C1242.9,1735.0 1245.4,1737.6 1247.8,1739.6L1252.6,1738.1L1254.5,1734.3C1253.2,1732.8 1251.8,1731.2 1250.7,1729.6C1249.7,1728.1 1248.7,1726.4 1247.8,1724.8L1248.8,1717.3C1250.3,1717.2 1252.0,1716.6 1253.5,1716.9C1255.4,1717.3 1257.6,1718.1 1259.2,1719.2C1261.0,1720.4 1263.0,1722.0 1263.9,1723.9C1265.5,1727.3 1265.8,1731.6 1266.7,1735.2C1268.5,1734.5 1270.5,1733.3 1272.4,1732.8C1274.2,1732.3 1276.3,1732.5 1278.1,1732.4L1282.4,1737.1L1281.9,1740.9C1279.4,1743.0 1276.8,1745.6 1274.3,1747.5C1271.5,1749.7 1268.1,1751.8 1265.2,1753.8C1267.5,1755.7 1270.3,1757.7 1272.4,1759.8C1275.0,1762.4 1277.8,1765.3 1280.0,1768.3C1282.4,1771.7 1284.8,1775.8 1286.6,1779.6C1288.2,1783.1 1289.5,1787.2 1290.4,1791.0C1290.9,1793.6 1290.7,1796.8 1290.9,1799.5L1291.0,1801.9C1289.8,1803.0 1288.3,1804.2 1287.2,1805.3C1285.9,1806.8 1284.8,1808.8 1283.4,1810.1C1281.2,1812.1 1278.5,1814.2 1275.9,1815.7C1272.4,1817.8 1268.3,1819.9 1264.5,1821.4C1259.8,1823.3 1254.3,1824.8 1249.4,1826.1C1244.0,1827.7 1237.8,1829.1 1232.4,1830.5C1230.3,1828.5 1227.7,1826.5 1225.8,1824.2C1224.1,1822.3 1222.5,1819.9 1221.4,1817.6C1220.6,1815.8 1220.5,1813.4 1220.1,1811.4C1217.4,1807.0 1214.4,1802.1 1211.6,1797.8C1208.7,1793.2 1205.1,1788.2 1202.5,1783.4C1200.6,1780.0 1199.0,1775.8 1197.8,1772.1C1196.6,1768.5 1196.1,1764.4 1195.3,1760.7L1195.3,1722.6Z" fill="#FFAE2B" stroke="#FFAE2B"/>
<path d="M748.7,1517.1L813.9,1489.4L822.6,1522.4L843.8,1515.6L857.0,1531.9L839.9,1538.6C837.2,1541.3 834.8,1545.4 831.4,1547.1C827.0,1549.2 821.0,1548.2 816.5,1550.1C812.0,1551.9 807.7,1555.6 803.7,1558.6C799.5,1561.7 795.2,1566.0 791.0,1569.2C787.1,1572.1 782.9,1576.1 778.2,1577.7C770.4,1580.3 760.7,1579.9 752.7,1581.9C747.1,1583.3 740.7,1585.3 735.7,1588.3C731.6,1590.8 728.0,1595.1 725.1,1598.9C722.2,1602.7 720.2,1607.6 717.9,1611.7C716.1,1607.6 714.4,1602.9 712.3,1598.9C710.5,1595.4 708.2,1591.6 706.0,1588.3C703.5,1584.7 700.7,1580.6 697.5,1577.7C693.8,1574.4 689.2,1571.1 684.7,1569.2C680.2,1567.3 674.6,1566.9 669.8,1565.8C671.9,1564.1 673.7,1561.5 676.2,1560.7C680.8,1559.1 686.3,1558.2 691.1,1558.6C695.4,1558.9 699.7,1561.4 703.8,1562.8L708.1,1570.0L720.8,1559.4L748.5,1563.7L748.7,1517.1Z" fill="#FFAE2B" stroke="#FFAE2B"/>
<path d="M1325.5,1415.2L1328.3,1415.2L1332.5,1419.7C1334.4,1422.0 1337.0,1424.3 1338.4,1426.9C1339.1,1428.3 1339.2,1430.2 1338.7,1431.6C1337.9,1434.0 1335.5,1435.9 1334.6,1438.3C1334.0,1439.7 1334.4,1441.5 1334.4,1443.0C1335.5,1444.2 1336.4,1446.0 1337.8,1446.8C1340.6,1448.3 1344.2,1449.1 1347.2,1450.0C1351.4,1451.2 1356.3,1451.9 1360.5,1453.4C1363.6,1454.5 1367.0,1456.3 1369.9,1458.1C1372.5,1459.7 1375.4,1461.6 1377.5,1463.8C1379.2,1465.6 1380.7,1468.0 1381.6,1470.4C1382.4,1472.4 1382.3,1474.9 1382.6,1477.0L1380.3,1480.8C1378.5,1481.4 1376.0,1481.4 1374.6,1482.7C1372.2,1484.9 1370.4,1488.2 1369.0,1491.2C1367.5,1494.0 1366.3,1497.5 1365.8,1500.6C1365.2,1503.6 1365.4,1507.1 1365.8,1510.1C1366.1,1513.1 1366.8,1516.6 1368.0,1519.5C1369.1,1522.1 1370.8,1525.0 1372.7,1527.1C1375.1,1529.6 1378.3,1531.9 1381.2,1533.7C1384.7,1535.8 1389.0,1537.5 1392.6,1539.3L1398.3,1542.6L1371.8,1575.6C1367.0,1574.0 1361.1,1573.0 1356.7,1570.5C1354.8,1569.4 1354.4,1566.4 1352.9,1564.8C1352.2,1564.1 1351.0,1563.9 1350.1,1563.5L1344.4,1568.6L1341.2,1565.2L1351.6,1535.9L1323.6,1520.4L1313.0,1513.4C1310.3,1514.4 1307.3,1515.7 1304.5,1516.4C1303.4,1516.8 1301.9,1517.2 1300.7,1516.8C1298.1,1515.8 1295.4,1513.8 1293.2,1512.1C1291.2,1510.5 1289.3,1508.2 1287.5,1506.4L1287.5,1480.3C1289.0,1479.3 1290.4,1477.4 1292.2,1477.1C1303.2,1475.7 1315.6,1475.8 1326.6,1475.2L1325.5,1415.2Z" fill="#FFAE2B" stroke="#FFAE2B"/>
<path d="M1332.5,1419.7C1341.4,1419.2 1351.6,1417.0 1360.5,1418.0C1364.5,1418.5 1368.1,1422.3 1371.8,1424.1C1374.8,1425.5 1378.0,1427.5 1381.2,1428.2C1383.6,1428.8 1386.5,1428.4 1388.8,1427.9C1392.0,1427.1 1395.4,1425.7 1398.3,1424.1C1401.5,1422.2 1404.1,1418.3 1407.7,1417.1C1418.1,1413.5 1430.6,1411.8 1441.3,1409.3L1441.7,1424.1C1442.9,1424.3 1444.3,1424.2 1445.5,1424.6C1446.8,1425.1 1448.3,1425.9 1449.3,1426.9C1450.1,1427.9 1450.3,1429.5 1450.8,1430.7C1449.7,1432.2 1448.8,1434.3 1447.4,1435.4C1445.2,1437.1 1442.3,1438.2 1439.8,1439.2C1436.9,1440.3 1433.4,1441.1 1430.4,1442.0L1430.4,1451.1C1433.4,1451.2 1436.8,1451.2 1439.8,1451.5C1441.7,1451.6 1443.8,1451.7 1445.5,1452.4C1446.9,1453.0 1448.1,1454.4 1449.3,1455.3L1449.8,1464.7L1449.8,1485.5L1392.6,1485.5L1392.6,1539.3C1389.0,1537.5 1384.7,1535.8 1381.2,1533.7C1378.3,1531.9 1375.1,1529.6 1372.7,1527.1C1370.8,1525.0 1369.1,1522.1 1368.0,1519.5C1366.8,1516.6 1366.1,1513.1 1365.8,1510.1C1365.4,1507.1 1365.2,1503.6 1365.8,1500.6C1366.3,1497.5 1367.5,1494.0 1369.0,1491.2C1370.4,1488.2 1372.2,1484.9 1374.6,1482.7C1376.0,1481.4 1378.5,1481.4 1380.3,1480.8L1382.6,1477.0C1382.3,1474.9 1382.4,1472.4 1381.6,1470.4C1380.7,1468.0 1379.2,1465.6 1377.5,1463.8C1375.4,1461.6 1372.5,1459.7 1369.9,1458.1C1367.0,1456.3 1363.6,1454.5 1360.5,1453.4C1356.3,1451.9 1351.4,1451.2 1347.2,1450.0C1344.2,1449.1 1340.6,1448.3 1337.8,1446.8C1336.4,1446.0 1335.5,1444.2 1334.4,1443.0C1334.4,1441.5 1334.0,1439.7 1334.6,1438.3C1335.5,1435.9 1337.9,1434.0 1338.7,1431.6C1339.2,1430.2 1339.1,1428.3 1338.4,1426.9C1337.0,1424.3 1334.4,1422.0 1332.5,1419.7Z" fill="#FFBE55" stroke="#FFBE55"/>
<path d="M1392.6,1485.5L1449.8,1485.5L1449.8,1464.7L1481.8,1457.1L1484.2,1476.4C1484.8,1485.4 1485.3,1495.5 1486.1,1504.4C1486.2,1505.3 1486.6,1506.4 1487.1,1507.2C1488.6,1510.6 1491.9,1513.9 1492.3,1517.6C1493.6,1527.0 1492.3,1537.8 1492.3,1547.3C1490.7,1547.2 1488.8,1546.9 1487.1,1546.9C1477.4,1546.8 1466.5,1546.7 1456.8,1546.9C1454.1,1547.0 1451.0,1547.5 1448.3,1547.8C1445.0,1548.4 1441.3,1549.3 1437.9,1549.7C1434.9,1550.1 1431.5,1550.2 1428.5,1550.1C1424.8,1549.9 1420.7,1549.4 1417.1,1548.8C1413.5,1548.1 1409.4,1547.1 1405.8,1546.0C1403.3,1545.1 1400.7,1543.6 1398.3,1542.6L1392.6,1539.3L1392.6,1485.5Z" fill="#FFAE2B" stroke="#FFAE2B"/>
<path d="M1000.1,1119.3L1084.2,1098.1L1096.9,1123.8C1098.3,1128.7 1100.0,1134.1 1101.4,1138.9C1101.9,1140.7 1102.4,1142.6 1102.9,1144.4L1071.8,1151.9L1082.3,1185.8L1024.9,1207.0C1023.2,1201.7 1020.8,1195.8 1019.7,1190.4C1018.9,1186.1 1020.0,1181.0 1019.1,1176.7C1018.1,1171.7 1015.6,1166.4 1013.7,1161.6C1011.7,1156.7 1009.0,1151.3 1006.7,1146.5C1006.7,1140.7 1008.1,1134.0 1006.7,1128.4C1005.9,1124.9 1002.2,1122.2 1000.1,1119.3Z" fill="#FFAE2B" stroke="#FFAE2B"/>
<path d="M1062.3,1570.3C1065.1,1578.0 1068.2,1586.8 1071.2,1594.5C1076.4,1607.8 1082.7,1622.7 1088.2,1636.0L1177.9,1658.3L1147.7,1583.1C1144.7,1584.0 1141.4,1585.4 1138.3,1586.0C1135.9,1586.4 1133.1,1586.6 1130.7,1586.3C1128.2,1586.0 1125.4,1585.1 1123.1,1584.1C1121.2,1583.2 1118.9,1581.9 1117.5,1580.3C1116.4,1579.1 1115.7,1577.2 1115.6,1575.6C1115.4,1574.2 1116.2,1572.6 1116.5,1571.2C1115.0,1569.6 1113.5,1567.6 1111.8,1566.1C1109.5,1564.1 1106.9,1561.8 1104.2,1560.5C1101.4,1559.1 1097.7,1558.8 1094.8,1557.6C1092.3,1556.6 1089.7,1555.0 1087.2,1553.8C1085.4,1553.0 1083.5,1551.8 1081.6,1551.4C1079.5,1550.9 1077.1,1550.7 1075.0,1551.0C1073.0,1551.3 1070.9,1552.2 1069.3,1553.3C1067.8,1554.3 1066.4,1556.0 1065.5,1557.6C1064.5,1559.6 1064.2,1562.1 1063.6,1564.2C1063.1,1566.2 1062.7,1568.4 1062.3,1570.3Z" fill="#FFBE55" stroke="#FFBE55"/>
<path d="M1248.2,1423.7C1258.4,1423.5 1269.8,1424.0 1280.0,1423.3C1284.9,1422.9 1290.3,1421.7 1295.1,1420.4C1298.2,1419.6 1301.5,1417.9 1304.5,1416.7L1306.8,1413.3C1308.5,1413.6 1310.4,1414.0 1312.1,1414.2C1316.3,1414.7 1321.1,1415.0 1325.3,1415.3L1326.6,1475.2C1315.6,1475.8 1303.2,1475.7 1292.2,1477.1C1290.4,1477.4 1289.0,1479.3 1287.5,1480.3L1287.5,1506.4C1280.9,1505.5 1273.1,1505.6 1266.7,1503.6C1263.5,1502.6 1261.0,1499.3 1258.2,1497.3C1257.0,1499.6 1256.1,1502.5 1254.5,1504.5C1252.7,1506.7 1250.2,1508.8 1247.8,1510.2C1245.6,1511.5 1242.8,1512.4 1240.3,1513.0C1237.6,1513.7 1234.5,1513.9 1231.8,1514.4C1231.5,1511.2 1231.4,1507.6 1230.8,1504.5C1230.1,1500.4 1228.7,1495.8 1227.6,1491.7L1248.2,1488.5L1248.2,1423.7Z" fill="#FFAE2B" stroke="#FFAE2B"/>
<path d="M830.5,1399.4L897.6,1379.8C899.1,1383.5 901.0,1387.7 902.3,1391.5C903.4,1394.5 904.6,1397.8 905.2,1400.9C905.8,1404.5 905.7,1408.6 906.1,1412.3C906.3,1413.6 906.8,1415.1 907.1,1416.4L942.0,1409.1L951.5,1425.1L941.1,1425.5C939.9,1426.7 937.9,1427.7 937.3,1429.3C936.4,1431.5 936.2,1434.4 936.3,1436.8C936.5,1439.3 937.5,1442.0 938.2,1444.4C939.1,1447.0 940.4,1449.8 941.4,1452.3L907.1,1460.4C905.2,1460.9 903.1,1461.2 901.4,1462.0C898.5,1463.3 895.9,1466.2 892.9,1467.1C889.7,1467.9 885.8,1467.4 882.5,1467.1C879.1,1466.8 875.4,1465.8 872.1,1465.2C871.2,1463.1 870.0,1460.7 869.3,1458.6C868.4,1455.9 867.5,1452.8 867.0,1450.1C866.6,1447.7 866.2,1444.9 866.4,1442.5C866.6,1440.6 868.1,1438.7 868.3,1436.8C868.6,1434.4 868.5,1431.6 867.9,1429.3C867.6,1427.6 866.3,1426.1 865.5,1424.5C861.3,1424.8 856.5,1425.2 852.3,1425.5C846.8,1425.8 840.7,1426.1 835.3,1426.4L830.5,1399.4Z" fill="#FFBE55" stroke="#FFBE55"/>
<path d="M1178.5,1572.4L1211.0,1557.1C1212.8,1559.4 1214.8,1562.0 1216.7,1564.2C1218.1,1566.0 1219.9,1567.8 1221.4,1569.5L1228.9,1568.4C1230.2,1571.9 1231.2,1576.0 1232.7,1579.4C1234.8,1583.8 1237.6,1588.5 1240.3,1592.6C1243.1,1597.0 1246.4,1601.8 1249.7,1605.8C1252.5,1609.2 1256.2,1612.5 1259.2,1615.6C1266.1,1623.1 1273.7,1631.7 1280.9,1638.9C1283.4,1641.3 1286.9,1643.2 1289.4,1645.5C1290.8,1646.8 1292.0,1648.7 1293.2,1650.2C1292.9,1653.5 1292.6,1657.3 1292.2,1660.6C1291.9,1663.6 1291.1,1667.0 1290.9,1670.1C1290.7,1673.7 1290.7,1677.8 1290.9,1681.4C1291.2,1686.2 1291.8,1691.7 1292.2,1696.5C1289.5,1694.1 1286.7,1691.1 1283.7,1688.9C1280.9,1686.9 1277.5,1684.8 1274.3,1683.3C1271.7,1682.1 1268.5,1681.4 1265.8,1680.4L1266.2,1671.6C1248.2,1653.5 1228.0,1633.3 1210.1,1615.3C1205.2,1610.4 1200.0,1604.7 1194.9,1600.1C1191.6,1597.1 1187.2,1594.4 1183.6,1591.6L1178.5,1572.4Z" fill="#FFBE55" stroke="#FFBE55"/>
<path d="M686.8,1482.5C694.3,1484.1 702.7,1486.2 710.2,1487.6C717.0,1488.8 724.7,1489.6 731.5,1490.5L733.6,1499.0C735.6,1500.4 737.7,1502.3 740.0,1503.3C742.5,1504.4 745.7,1504.7 748.5,1505.4L748.5,1563.7L720.8,1559.4L708.1,1570.0L703.8,1562.8C699.7,1561.4 695.4,1558.9 691.1,1558.6C686.3,1558.2 680.8,1559.1 676.2,1560.7C673.7,1561.5 671.9,1564.1 669.8,1565.8L657.1,1560.7L654.1,1553.5C655.5,1550.3 656.4,1546.5 658.3,1543.7C660.9,1539.9 664.6,1536.3 667.7,1533.0C673.0,1527.5 679.3,1521.5 684.7,1516.0L691.1,1517.3L697.5,1506.7L682.6,1501.2L679.6,1493.9L686.8,1482.5Z" fill="#FFAE2B" stroke="#FFAE2B"/>
<path d="M1024.9,1207.0L1082.3,1185.8L1071.8,1151.9L1102.9,1144.4C1103.4,1153.3 1104.4,1163.3 1104.4,1172.2C1104.4,1180.0 1103.9,1188.7 1102.9,1196.4C1101.9,1204.2 1100.4,1213.0 1098.4,1220.6C1096.7,1226.6 1093.6,1232.9 1091.4,1238.8C1087.8,1243.6 1084.4,1249.5 1080.2,1253.9C1075.9,1258.3 1070.4,1262.8 1065.1,1266.0C1059.7,1269.2 1052.8,1271.1 1047.0,1273.5L1024.9,1207.0Z" fill="#FFAE2B" stroke="#FFAE2B"/>
<path d="M835.3,1426.4C840.7,1426.1 846.8,1425.8 852.3,1425.5C856.5,1425.2 861.3,1424.8 865.5,1424.5C866.3,1426.1 867.6,1427.6 867.9,1429.3C868.5,1431.6 868.6,1434.4 868.3,1436.8C868.1,1438.7 866.6,1440.6 866.4,1442.5C866.2,1444.9 866.6,1447.7 867.0,1450.1C867.5,1452.8 868.4,1455.9 869.3,1458.6C870.0,1460.7 871.2,1463.1 872.1,1465.2C875.4,1465.8 879.1,1466.8 882.5,1467.1C885.8,1467.4 889.7,1467.9 892.9,1467.1C895.9,1466.2 898.5,1463.3 901.4,1462.0C903.1,1461.2 905.2,1460.9 907.1,1460.4L935.4,1513.3L931.6,1525.3C926.2,1525.4 920.1,1525.7 914.6,1525.6C908.0,1525.6 900.4,1524.3 893.8,1525.1C890.6,1525.4 887.6,1528.4 884.4,1529.0C878.4,1530.1 871.5,1529.9 865.5,1530.4C864.6,1524.0 863.8,1516.8 862.7,1510.5C861.4,1503.2 859.7,1495.0 857.9,1487.8C855.8,1479.3 853.2,1469.7 850.4,1461.4C848.3,1455.2 845.6,1448.4 842.8,1442.5C841.3,1439.3 838.6,1436.2 837.1,1433.0C836.2,1431.1 835.9,1428.5 835.3,1426.4Z" fill="#FFBE55" stroke="#FFBE55"/>
<path d="M1130.7,1311.8L1166.6,1296.7L1171.7,1293.5L1165.6,1338.3C1159.3,1339.2 1152.1,1339.8 1145.8,1341.1C1140.3,1342.2 1134.1,1344.0 1128.8,1345.8C1124.5,1347.3 1119.6,1349.2 1115.6,1351.5C1111.1,1354.1 1106.5,1357.8 1102.4,1360.9C1098.2,1364.0 1093.6,1367.6 1089.5,1370.8C1094.8,1370.0 1100.8,1369.0 1106.1,1368.5C1112.2,1367.9 1119.0,1367.7 1125.0,1367.5C1131.7,1367.4 1139.2,1367.0 1145.8,1367.5C1151.3,1368.0 1157.4,1369.2 1162.8,1370.4C1168.3,1371.6 1174.5,1373.2 1179.8,1375.1C1184.8,1376.9 1190.4,1379.0 1194.9,1381.7C1199.6,1384.5 1203.9,1388.8 1208.2,1392.1C1210.0,1394.2 1212.3,1396.4 1213.8,1398.7C1216.0,1402.1 1218.0,1406.3 1219.5,1410.1C1220.9,1413.6 1221.8,1417.8 1222.9,1421.4L1223.7,1428.9L1214.8,1429.9C1213.9,1427.7 1213.5,1424.8 1211.9,1422.9C1210.6,1421.3 1207.8,1421.0 1206.3,1419.5C1204.1,1417.4 1202.4,1414.4 1200.6,1411.9C1198.8,1409.5 1197.1,1406.5 1194.9,1404.4C1192.2,1401.6 1188.7,1399.0 1185.5,1396.8C1181.4,1394.1 1176.7,1391.3 1172.3,1389.3C1167.6,1387.1 1162.2,1384.8 1157.1,1383.6C1151.8,1382.3 1145.6,1381.9 1140.1,1381.7C1135.3,1381.6 1129.8,1382.0 1125.0,1382.7C1120.7,1383.2 1116.0,1384.4 1111.8,1385.5C1106.9,1386.8 1101.6,1389.1 1096.7,1390.2C1092.0,1391.2 1086.7,1391.5 1081.9,1392.1C1081.2,1390.6 1080.1,1389.0 1079.7,1387.4C1078.9,1384.4 1078.4,1381.0 1078.4,1377.9C1078.4,1374.9 1078.8,1371.4 1079.7,1368.5C1080.5,1365.9 1081.7,1363.0 1083.5,1360.9C1086.0,1357.8 1089.7,1354.9 1092.9,1352.4C1096.9,1349.4 1102.0,1346.7 1106.1,1343.9C1110.4,1341.0 1115.5,1338.0 1119.4,1334.5C1122.2,1331.9 1124.9,1328.3 1126.9,1325.0C1128.3,1322.8 1129.0,1320.0 1129.7,1317.5C1130.3,1315.7 1130.4,1313.6 1130.7,1311.8Z" fill="#FFCF80" stroke="#FFCF80"/>
<path d="M1147.7,1583.1C1151.9,1583.4 1156.7,1583.4 1160.9,1584.1C1164.6,1584.6 1168.7,1585.7 1172.3,1586.9C1176.0,1588.2 1180.0,1590.1 1183.6,1591.6C1187.2,1594.4 1191.6,1597.1 1194.9,1600.1C1200.0,1604.7 1205.2,1610.4 1210.1,1615.3C1228.0,1633.3 1248.2,1653.5 1266.2,1671.6L1265.8,1680.4L1191.2,1662.1L1177.9,1658.3L1147.7,1583.1Z" fill="#FFCF80" stroke="#FFCF80"/>
<path d="M1186.4,1511.3L1226.1,1538.7C1226.4,1542.7 1226.7,1547.1 1227.1,1551.0C1227.6,1556.6 1228.3,1562.8 1228.9,1568.4L1221.4,1569.5C1219.9,1567.8 1218.1,1566.0 1216.7,1564.2C1214.8,1562.0 1212.8,1559.4 1211.0,1557.1L1178.5,1572.4L1183.6,1591.6C1180.0,1590.1 1176.0,1588.2 1172.3,1586.9C1168.7,1585.7 1164.6,1584.6 1160.9,1584.1C1156.7,1583.4 1151.9,1583.4 1147.7,1583.1C1144.7,1584.0 1141.4,1585.4 1138.3,1586.0C1135.9,1586.4 1133.1,1586.6 1130.7,1586.3C1128.2,1586.0 1125.4,1585.1 1123.1,1584.1C1121.2,1583.2 1118.9,1581.9 1117.5,1580.3C1116.4,1579.1 1115.7,1577.2 1115.6,1575.6C1115.4,1574.2 1116.2,1572.6 1116.5,1571.2C1118.6,1569.3 1121.1,1567.2 1123.1,1565.2C1126.2,1562.2 1129.4,1558.6 1132.6,1555.7C1135.5,1553.1 1138.7,1550.2 1142.0,1548.2C1144.7,1546.5 1148.2,1545.6 1151.1,1544.4C1151.2,1542.0 1150.8,1539.2 1151.5,1536.8C1152.1,1534.8 1153.7,1532.7 1155.3,1531.2C1157.4,1529.2 1160.2,1527.4 1162.8,1526.1C1165.7,1524.6 1169.3,1523.9 1172.3,1522.7C1175.3,1521.4 1178.9,1520.3 1181.7,1518.5C1183.3,1517.5 1184.3,1515.6 1185.5,1514.2L1186.4,1511.3Z" fill="#FFBE55" stroke="#FFBE55"/>
<path d="M970.4,1414.2L1063.2,1381.3L1064.2,1396.3C1062.3,1399.0 1060.0,1401.9 1058.2,1404.7C1055.1,1409.5 1051.7,1414.9 1048.8,1419.8C1045.9,1424.7 1043.0,1430.4 1040.3,1435.3L1005.3,1451.0C1005.7,1456.7 1006.6,1463.2 1006.6,1468.9C1006.6,1472.6 1006.0,1476.7 1005.3,1480.3C1004.6,1484.0 1003.7,1488.1 1002.5,1491.6C1001.2,1495.3 999.3,1499.3 997.8,1503.0L987.4,1468.9L982.6,1470.8L970.4,1414.2Z" fill="#FFBE55" stroke="#FFBE55"/>
<path d="M1231.8,1514.4C1234.5,1513.9 1237.6,1513.7 1240.3,1513.0C1242.8,1512.4 1245.6,1511.5 1247.8,1510.2C1250.2,1508.8 1252.7,1506.7 1254.5,1504.5C1256.1,1502.5 1257.0,1499.6 1258.2,1497.3C1261.0,1499.3 1263.5,1502.6 1266.7,1503.6C1273.1,1505.6 1280.9,1505.5 1287.5,1506.4C1289.3,1508.2 1291.2,1510.5 1293.2,1512.1C1295.4,1513.8 1298.1,1515.8 1300.7,1516.8C1301.9,1517.2 1303.4,1516.8 1304.5,1516.4C1307.3,1515.7 1310.3,1514.4 1313.0,1513.4L1323.6,1520.4L1280.9,1580.3C1276.4,1577.9 1271.1,1575.5 1266.7,1572.7C1262.3,1570.0 1257.7,1566.4 1253.5,1563.3C1249.2,1560.1 1244.3,1556.5 1240.3,1552.9C1235.5,1548.6 1230.6,1543.3 1226.1,1538.7L1230.5,1527.2L1231.8,1514.4Z" fill="#FF9E00" stroke="#FF9E00"/>
<path d="M959.2,1230.3L1024.9,1207.0L1047.0,1273.5C1042.1,1274.7 1036.8,1276.4 1031.8,1277.2C1026.1,1278.1 1019.4,1277.7 1013.7,1278.7C1008.8,1279.5 1003.2,1280.7 998.6,1282.6C996.0,1283.7 993.8,1286.3 991.6,1288.1C990.0,1285.3 988.6,1281.9 986.5,1279.6C983.5,1276.3 979.5,1273.1 975.9,1270.5C972.5,1268.2 968.3,1266.4 964.7,1264.5C964.9,1261.6 965.4,1258.3 965.3,1255.4C965.1,1252.0 964.6,1248.1 963.8,1244.8C962.6,1240.1 960.7,1234.9 959.2,1230.3Z" fill="#FFBE55" stroke="#FFBE55"/>
<path d="M1081.9,1392.1C1086.7,1391.5 1092.0,1391.2 1096.7,1390.2C1101.6,1389.1 1106.9,1386.8 1111.8,1385.5C1116.0,1384.4 1120.7,1383.2 1125.0,1382.7C1129.8,1382.0 1135.3,1381.6 1140.1,1381.7C1145.6,1381.9 1151.8,1382.3 1157.1,1383.6C1162.2,1384.8 1167.6,1387.1 1172.3,1389.3C1176.7,1391.3 1181.4,1394.1 1185.5,1396.8C1188.7,1399.0 1192.2,1401.6 1194.9,1404.4C1197.1,1406.5 1198.8,1409.5 1200.6,1411.9C1202.4,1414.4 1204.1,1417.4 1206.3,1419.5C1207.8,1421.0 1210.6,1421.3 1211.9,1422.9C1213.5,1424.8 1213.9,1427.7 1214.8,1429.9L1206.3,1430.8C1204.5,1428.1 1202.7,1424.8 1200.6,1422.3C1199.0,1420.5 1197.0,1418.5 1194.9,1417.2C1193.6,1416.4 1191.8,1416.0 1190.2,1416.1C1188.6,1416.2 1186.8,1416.7 1185.5,1417.6C1183.7,1418.8 1182.2,1420.8 1180.8,1422.3C1179.6,1423.6 1178.5,1425.2 1177.4,1426.5C1175.7,1425.8 1173.8,1425.1 1172.3,1424.2C1169.2,1422.5 1166.0,1420.1 1162.8,1418.6C1159.9,1417.1 1156.5,1415.7 1153.4,1414.8C1150.7,1414.0 1147.6,1413.7 1144.9,1413.3C1145.7,1414.7 1146.7,1416.1 1147.3,1417.6C1148.1,1419.4 1148.8,1421.4 1149.2,1423.3C1149.7,1425.7 1150.1,1428.4 1150.0,1430.8C1149.9,1433.0 1149.4,1435.4 1148.6,1437.4C1148.1,1439.0 1146.7,1440.3 1145.8,1441.6L1119.4,1442.6C1119.2,1440.9 1119.5,1439.0 1119.0,1437.4C1118.3,1435.5 1117.0,1433.3 1115.6,1431.8C1113.5,1429.6 1110.7,1427.5 1108.0,1426.1C1104.9,1424.5 1101.0,1423.5 1097.6,1422.3C1097.3,1420.2 1097.1,1417.8 1096.7,1415.7C1096.1,1412.7 1095.9,1409.1 1094.8,1406.3C1093.8,1403.6 1092.0,1400.8 1090.1,1398.7C1087.8,1396.2 1084.5,1394.2 1081.9,1392.1Z" fill="#FFBE55" stroke="#FFBE55"/>
<path d="M1232.4,1830.5C1237.8,1829.1 1244.0,1827.7 1249.4,1826.1C1254.3,1824.8 1259.8,1823.3 1264.5,1821.4C1268.3,1819.9 1272.4,1817.8 1275.9,1815.7C1278.5,1814.2 1281.2,1812.1 1283.4,1810.1C1284.8,1808.8 1285.9,1806.8 1287.2,1805.3C1288.3,1804.2 1289.8,1803.0 1291.0,1801.9C1292.8,1801.2 1294.7,1800.0 1296.6,1799.7C1300.2,1799.1 1304.4,1799.4 1308.0,1799.3C1308.9,1800.1 1310.1,1801.0 1310.8,1801.9C1311.6,1802.9 1312.1,1804.3 1312.7,1805.3L1324.0,1805.7L1325.4,1808.2C1324.0,1809.4 1322.6,1810.9 1321.2,1812.0C1319.5,1813.3 1317.4,1814.6 1315.5,1815.7C1314.3,1816.5 1312.7,1817.0 1311.4,1817.6L1310.3,1829.9C1311.0,1831.1 1311.7,1832.7 1312.7,1833.7C1314.6,1835.5 1317.5,1836.5 1319.3,1838.4C1320.8,1839.9 1322.0,1842.1 1322.5,1844.1C1323.0,1845.8 1322.7,1848.0 1322.2,1849.7C1321.7,1851.2 1320.3,1852.4 1319.3,1853.5C1317.9,1855.1 1315.7,1856.4 1314.6,1858.3C1313.5,1860.2 1313.6,1862.8 1312.7,1864.9C1312.0,1866.5 1311.1,1868.3 1309.9,1869.6C1308.6,1870.9 1306.9,1872.2 1305.1,1872.8C1303.1,1873.5 1300.7,1873.6 1298.5,1873.4C1296.1,1873.1 1293.3,1872.4 1291.0,1871.5C1287.8,1870.3 1284.6,1868.3 1281.5,1866.8L1281.5,1870.5C1276.1,1870.4 1270.0,1870.0 1264.5,1870.2C1258.9,1870.3 1252.7,1871.1 1247.1,1871.5C1246.8,1867.2 1246.7,1862.5 1246.2,1858.3C1245.9,1855.2 1245.6,1851.7 1244.7,1848.8C1243.8,1845.9 1242.4,1842.9 1240.9,1840.3C1239.6,1838.0 1237.9,1835.7 1236.2,1833.7C1235.1,1832.5 1233.6,1831.5 1232.4,1830.5Z" fill="#FFAE2B" stroke="#FFAE2B"/>
<path d="M1265.8,1680.4C1268.5,1681.4 1271.7,1682.1 1274.3,1683.3C1277.5,1684.8 1280.9,1686.9 1283.7,1688.9C1286.7,1691.1 1289.5,1694.1 1292.2,1696.5C1293.2,1699.5 1294.0,1703.0 1295.1,1706.0C1297.9,1713.9 1301.5,1722.7 1304.5,1730.5C1307.5,1738.4 1310.8,1747.3 1314.0,1755.1C1316.9,1762.4 1320.2,1770.6 1323.4,1777.8C1325.0,1781.3 1327.3,1785.1 1329.1,1788.5L1329.5,1791.4C1322.7,1793.8 1315.4,1797.6 1308.3,1799.1C1302.9,1800.3 1296.5,1799.4 1290.9,1799.5C1290.7,1796.8 1290.9,1793.6 1290.4,1791.0C1289.5,1787.2 1288.2,1783.1 1286.6,1779.6C1284.8,1775.8 1282.4,1771.7 1280.0,1768.3C1277.8,1765.3 1275.0,1762.4 1272.4,1759.8C1270.3,1757.7 1267.5,1755.7 1265.2,1753.8C1268.1,1751.8 1271.5,1749.7 1274.3,1747.5C1276.8,1745.6 1279.4,1743.0 1281.9,1740.9L1282.4,1737.1L1278.1,1732.4C1276.3,1732.5 1274.2,1732.3 1272.4,1732.8C1270.5,1733.3 1268.5,1734.5 1266.7,1735.2C1265.8,1731.6 1265.5,1727.3 1263.9,1723.9C1263.0,1722.0 1261.0,1720.4 1259.2,1719.2C1257.6,1718.1 1255.4,1717.3 1253.5,1716.9C1252.0,1716.6 1250.3,1717.2 1248.8,1717.3L1245.0,1713.5L1244.6,1708.8L1247.8,1705.6C1250.3,1705.4 1253.1,1705.6 1255.4,1705.0C1257.4,1704.5 1259.6,1703.5 1261.1,1702.2C1262.7,1700.7 1264.0,1698.5 1264.8,1696.5C1265.8,1694.2 1266.2,1691.4 1266.4,1688.9C1266.5,1686.2 1266.0,1683.2 1265.8,1680.4Z" fill="#FF9E00" stroke="#FF9E00"/>
<path d="M1048.5,1460.1L1055.1,1455.4C1058.1,1455.7 1061.5,1456.6 1064.6,1456.3C1068.9,1456.0 1073.6,1454.8 1077.8,1453.5C1082.7,1452.0 1088.0,1449.4 1092.9,1447.8C1097.1,1446.5 1101.8,1445.3 1106.1,1444.4C1110.3,1443.6 1115.1,1443.2 1119.4,1442.6L1145.8,1441.6C1149.4,1444.2 1153.7,1446.9 1157.1,1449.7C1159.8,1451.9 1162.5,1454.7 1164.7,1457.3C1166.1,1458.9 1167.3,1461.1 1168.5,1463.0L1170.0,1464.8C1169.5,1467.0 1169.6,1469.6 1168.5,1471.5C1167.2,1473.7 1164.9,1475.6 1162.8,1477.1C1161.2,1478.3 1159.0,1478.8 1157.1,1479.6C1149.9,1480.0 1141.7,1480.2 1134.5,1480.9C1128.4,1481.5 1121.6,1482.7 1115.6,1483.7C1109.5,1484.8 1102.7,1486.2 1096.7,1487.5C1091.8,1488.6 1086.4,1489.9 1081.6,1491.3C1077.8,1492.4 1073.6,1493.9 1069.9,1495.1C1069.4,1493.3 1069.0,1491.2 1068.3,1489.4C1067.3,1486.9 1066.1,1484.1 1064.6,1481.9C1063.0,1479.5 1060.7,1477.4 1058.9,1475.2C1057.1,1473.1 1055.0,1470.8 1053.2,1468.6C1052.0,1467.1 1050.4,1465.6 1049.4,1463.9C1048.8,1462.8 1048.8,1461.3 1048.5,1460.1Z" fill="#FF9E00" stroke="#FF9E00"/>
<path d="M822.5,1256.3C825.6,1259.4 828.9,1263.1 832.2,1266.0C835.4,1268.9 839.2,1272.1 842.8,1274.4C845.5,1276.2 848.7,1278.0 851.9,1278.7C854.7,1279.2 858.0,1278.3 860.9,1278.1C863.4,1275.7 866.5,1273.3 868.5,1270.5C870.7,1267.4 872.4,1263.4 874.0,1259.9C875.0,1257.6 875.6,1254.8 876.4,1252.4C879.7,1255.3 883.8,1258.1 886.7,1261.4C890.1,1265.4 893.4,1270.4 895.7,1275.0C898.0,1279.6 900.0,1285.2 901.2,1290.2C902.3,1294.9 902.8,1300.4 902.7,1305.3C902.5,1310.2 901.0,1315.6 900.3,1320.4L891.2,1322.5C888.8,1320.4 885.4,1318.6 883.6,1315.9C881.6,1312.9 881.0,1308.7 879.7,1305.3C876.1,1307.2 872.2,1309.7 868.5,1311.3C864.7,1313.1 860.5,1315.0 856.4,1315.9C852.6,1316.7 848.2,1316.9 844.3,1316.5C841.8,1316.2 839.2,1314.6 836.7,1313.8L836.1,1294.7C832.9,1295.4 829.4,1296.4 826.2,1296.8C822.3,1297.4 817.9,1298.3 814.1,1297.7C810.8,1297.3 807.1,1295.7 804.4,1293.8C802.1,1292.2 800.7,1289.3 798.9,1287.1C799.6,1283.8 799.7,1279.7 801.1,1276.6C802.7,1272.8 805.3,1269.0 808.0,1266.0C810.1,1263.6 813.0,1261.6 815.6,1259.9C817.7,1258.5 820.3,1257.5 822.5,1256.3Z" fill="#D58400" stroke="#D58400"/>
<path d="M1005.3,1451.0L1040.3,1435.3C1041.2,1438.2 1041.6,1441.7 1043.1,1444.4C1044.4,1446.8 1046.7,1449.1 1048.8,1451.0C1050.6,1452.7 1053.1,1454.0 1055.1,1455.4L1048.5,1460.1C1048.8,1461.3 1048.8,1462.8 1049.4,1463.9C1050.4,1465.6 1052.0,1467.1 1053.2,1468.6C1055.0,1470.8 1057.1,1473.1 1058.9,1475.2C1060.7,1477.4 1063.0,1479.5 1064.6,1481.9C1066.1,1484.1 1067.3,1486.9 1068.3,1489.4C1069.0,1491.2 1069.4,1493.3 1069.9,1495.1C1066.1,1497.0 1061.6,1498.6 1058.2,1501.1C1055.6,1503.0 1053.4,1506.0 1051.6,1508.6C1050.1,1510.9 1049.2,1513.9 1047.8,1516.2C1046.5,1518.4 1045.0,1521.0 1043.1,1522.8C1040.4,1525.4 1036.7,1527.6 1033.7,1529.8L1005.3,1504.5L999.6,1506.7L997.8,1503.0C999.3,1499.3 1001.2,1495.3 1002.5,1491.6C1003.7,1488.1 1004.6,1484.0 1005.3,1480.3C1006.0,1476.7 1006.6,1472.6 1006.6,1468.9C1006.6,1463.2 1005.7,1456.7 1005.3,1451.0Z" fill="#FFAE2B" stroke="#FFAE2B"/>
<path d="M942.0,1409.1C946.2,1407.4 950.8,1404.9 955.2,1403.8C957.6,1403.2 960.4,1403.8 962.8,1403.8C964.3,1405.3 966.3,1406.8 967.5,1408.5C968.7,1410.1 969.4,1412.3 970.4,1414.2L982.6,1470.8L970.4,1475.6C965.8,1478.3 960.4,1480.9 956.2,1484.1C952.8,1486.6 949.5,1490.3 946.7,1493.5C944.3,1496.3 942.0,1499.8 940.1,1503.0C938.3,1506.1 936.9,1510.0 935.4,1513.3L907.1,1460.4L941.4,1452.3C940.4,1449.8 939.1,1447.0 938.2,1444.4C937.5,1442.0 936.5,1439.3 936.3,1436.8C936.2,1434.4 936.4,1431.5 937.3,1429.3C937.9,1427.7 939.9,1426.7 941.1,1425.5L951.5,1425.1L942.0,1409.1Z" fill="#FFBE55" stroke="#FFBE55"/>
<path d="M1222.9,1428.9L1224.2,1430.8C1226.3,1431.3 1228.7,1432.5 1230.8,1432.3C1233.4,1432.2 1236.1,1431.0 1238.4,1429.9C1241.7,1428.2 1245.1,1425.7 1248.2,1423.7L1248.2,1488.5L1227.6,1491.7C1226.5,1489.1 1225.4,1486.2 1224.2,1483.7C1222.5,1480.3 1220.4,1476.7 1218.6,1473.3C1215.8,1477.9 1213.2,1483.3 1210.1,1487.5C1206.8,1491.8 1202.7,1496.2 1198.7,1499.8C1195.1,1503.2 1190.4,1506.2 1186.4,1509.2C1184.3,1506.2 1182.1,1502.7 1179.8,1499.8C1177.0,1496.3 1173.7,1492.4 1170.4,1489.4C1166.4,1485.9 1161.4,1482.7 1157.1,1479.6C1159.0,1478.8 1161.2,1478.3 1162.8,1477.1C1164.9,1475.6 1167.2,1473.7 1168.5,1471.5C1169.6,1469.6 1169.5,1467.0 1170.0,1464.8L1168.5,1463.0C1169.7,1463.3 1171.0,1463.6 1172.3,1463.9C1174.7,1464.4 1177.4,1465.3 1179.8,1465.4C1182.8,1465.6 1186.4,1465.7 1189.3,1464.8C1192.5,1463.9 1196.1,1462.3 1198.7,1460.1C1201.4,1457.9 1203.7,1454.6 1205.3,1451.6C1206.7,1449.1 1207.3,1445.8 1208.2,1443.1C1210.6,1441.9 1213.5,1440.9 1215.7,1439.3C1217.5,1438.1 1219.2,1436.4 1220.4,1434.6C1221.6,1433.0 1222.1,1430.8 1222.9,1428.9Z" fill="#FF9E00" stroke="#FF9E00"/>
<path d="M1191.2,1662.1L1265.8,1680.4C1266.0,1683.2 1266.5,1686.2 1266.4,1688.9C1266.2,1691.4 1265.8,1694.2 1264.8,1696.5C1264.0,1698.5 1262.7,1700.7 1261.1,1702.2C1259.6,1703.5 1257.4,1704.5 1255.4,1705.0C1253.1,1705.6 1250.3,1705.4 1247.8,1705.6L1244.6,1708.8L1245.0,1713.5L1248.8,1717.3L1247.8,1724.8C1248.7,1726.4 1249.7,1728.1 1250.7,1729.6C1251.8,1731.2 1253.2,1732.8 1254.5,1734.3L1252.6,1738.1L1247.8,1739.6C1245.4,1737.6 1242.9,1735.0 1240.3,1733.3C1236.9,1731.2 1232.7,1729.1 1228.9,1727.7C1224.8,1726.1 1220.1,1724.6 1215.7,1723.9C1209.3,1722.9 1201.8,1723.0 1195.3,1722.6L1195.3,1677.6C1194.9,1674.6 1194.8,1671.1 1194.0,1668.2C1193.4,1666.1 1192.1,1664.1 1191.2,1662.1Z" fill="#FFAE2B" stroke="#FFAE2B"/>
<path d="M1064.2,1396.3C1066.7,1396.6 1069.6,1397.2 1072.1,1397.2C1074.0,1397.2 1076.0,1396.7 1077.8,1396.4L1081.9,1392.1C1084.5,1394.2 1087.8,1396.2 1090.1,1398.7C1092.0,1400.8 1093.8,1403.6 1094.8,1406.3C1095.9,1409.1 1096.1,1412.7 1096.7,1415.7C1097.1,1417.8 1097.3,1420.2 1097.6,1422.3C1101.0,1423.5 1104.9,1424.5 1108.0,1426.1C1110.7,1427.5 1113.5,1429.6 1115.6,1431.8C1117.0,1433.3 1118.3,1435.5 1119.0,1437.4C1119.5,1439.0 1119.2,1440.9 1119.4,1442.6C1115.1,1443.2 1110.3,1443.6 1106.1,1444.4C1101.8,1445.3 1097.1,1446.5 1092.9,1447.8C1088.0,1449.4 1082.7,1452.0 1077.8,1453.5C1073.6,1454.8 1068.9,1456.0 1064.6,1456.3C1061.5,1456.6 1058.1,1455.7 1055.1,1455.4C1053.1,1454.0 1050.6,1452.7 1048.8,1451.0C1046.7,1449.1 1044.4,1446.8 1043.1,1444.4C1041.6,1441.7 1041.2,1438.2 1040.3,1435.3C1043.0,1430.4 1045.9,1424.7 1048.8,1419.8C1051.7,1414.9 1055.1,1409.5 1058.2,1404.7C1060.0,1401.9 1062.3,1399.0 1064.2,1396.3Z" fill="#FFBE55" stroke="#FFBE55"/>
<path d="M1144.9,1413.3C1147.6,1413.7 1150.7,1414.0 1153.4,1414.8C1156.5,1415.7 1159.9,1417.1 1162.8,1418.6C1166.0,1420.1 1169.2,1422.5 1172.3,1424.2C1173.8,1425.1 1175.7,1425.8 1177.4,1426.5C1178.5,1425.2 1179.6,1423.6 1180.8,1422.3C1182.2,1420.8 1183.7,1418.8 1185.5,1417.6C1186.8,1416.7 1188.6,1416.2 1190.2,1416.1C1191.8,1416.0 1193.6,1416.4 1194.9,1417.2C1197.0,1418.5 1199.0,1420.5 1200.6,1422.3C1202.7,1424.8 1204.5,1428.1 1206.3,1430.8L1222.9,1428.9C1222.1,1430.8 1221.6,1433.0 1220.4,1434.6C1219.2,1436.4 1217.5,1438.1 1215.7,1439.3C1213.5,1440.9 1210.6,1441.9 1208.2,1443.1C1207.3,1445.8 1206.7,1449.1 1205.3,1451.6C1203.7,1454.6 1201.4,1457.9 1198.7,1460.1C1196.1,1462.3 1192.5,1463.9 1189.3,1464.8C1186.4,1465.7 1182.8,1465.6 1179.8,1465.4C1177.4,1465.3 1174.7,1464.4 1172.3,1463.9C1171.0,1463.6 1169.7,1463.3 1168.5,1463.0C1167.3,1461.1 1166.1,1458.9 1164.7,1457.3C1162.5,1454.7 1159.8,1451.9 1157.1,1449.7C1153.7,1446.9 1149.4,1444.2 1145.8,1441.6C1146.7,1440.3 1148.1,1439.0 1148.6,1437.4C1149.4,1435.4 1149.9,1433.0 1150.0,1430.8C1150.1,1428.4 1149.7,1425.7 1149.2,1423.3C1148.8,1421.4 1148.1,1419.4 1147.3,1417.6C1146.7,1416.1 1145.7,1414.7 1144.9,1413.3Z" fill="#804F00" stroke="#804F00"/>
<path d="M970.4,1475.6L982.6,1470.8L987.4,1468.9L997.8,1503.0L999.6,1506.7L1005.3,1504.5L1033.7,1529.8L1026.1,1535.1C1030.9,1538.7 1036.6,1542.5 1041.2,1546.4C1045.1,1549.8 1048.9,1554.1 1052.5,1557.8L1060.1,1568.1L1054.4,1570.4C1052.6,1569.7 1050.4,1569.2 1048.8,1568.1C1045.5,1566.1 1042.3,1563.3 1039.3,1561.0L1033.7,1566.3C1031.8,1563.5 1030.0,1560.3 1028.0,1557.8C1025.7,1554.9 1023.1,1551.7 1020.4,1549.2C1017.6,1546.6 1014.3,1543.7 1011.0,1541.7C1007.6,1539.7 1003.4,1538.2 999.6,1537.0C995.8,1535.7 991.3,1535.0 987.4,1534.1L987.0,1520.0C986.7,1518.1 986.5,1516.1 986.0,1514.3C985.1,1510.6 983.9,1506.5 982.6,1503.0C981.0,1498.1 979.1,1492.6 977.0,1487.8C975.1,1483.8 972.5,1479.5 970.4,1475.6Z" fill="#FFBE55" stroke="#FFBE55"/>
<path d="M1218.6,1473.3C1220.4,1476.7 1222.5,1480.3 1224.2,1483.7C1225.4,1486.2 1226.5,1489.1 1227.6,1491.7C1228.7,1495.8 1230.1,1500.4 1230.8,1504.5C1231.4,1507.6 1231.5,1511.2 1231.8,1514.4L1230.5,1527.2L1226.1,1538.5L1186.4,1511.1L1186.4,1509.2C1190.4,1506.2 1195.1,1503.2 1198.7,1499.8C1202.7,1496.2 1206.8,1491.8 1210.1,1487.5C1213.2,1483.3 1215.8,1477.9 1218.6,1473.3Z" fill="#FFAE2B" stroke="#FFAE2B"/>
</g>
<path class="s" d="M462.4,793.8C460.5,787.1 457.8,779.8 456.7,773.0C455.7,767.0 455.6,760.2 455.9,754.1C456.2,748.0 457.3,741.2 458.6,735.2C459.9,729.1 462.1,722.3 464.2,716.3C466.9,708.9 470.2,700.7 473.7,693.7C477.2,686.4 482.2,678.7 486.2,671.7C490.0,670.9 494.7,670.8 498.3,669.1C501.8,667.4 504.7,663.9 507.7,661.5C508.9,656.1 510.7,650.1 511.5,644.5C512.6,636.5 512.8,627.3 513.4,619.2L527.7,635.1C532.2,634.1 537.1,632.2 541.7,632.1C548.4,631.8 555.8,633.4 562.5,633.9C569.7,634.5 577.9,636.0 585.2,635.5C589.0,635.2 593.4,633.6 596.5,631.3C599.6,629.0 602.0,625.1 604.1,621.9C606.9,617.2 608.8,611.3 611.6,606.7C614.2,602.6 617.2,597.6 621.1,594.6C624.1,592.3 628.8,592.1 632.4,590.9C635.4,585.1 638.5,578.3 641.9,572.7C644.5,568.3 647.4,562.9 651.3,559.5C653.7,557.4 657.5,556.1 660.7,556.1C666.9,556.1 673.7,558.1 679.6,559.5C686.4,561.0 693.5,565.1 700.4,565.2C707.3,565.2 714.6,561.8 721.2,559.9C724.9,558.8 729.3,557.9 732.5,555.7C735.1,554.0 736.7,550.6 738.6,548.2C735.4,543.9 732.0,539.1 728.8,534.9C724.7,529.8 719.3,524.5 715.5,519.1C713.2,515.6 711.7,511.1 709.9,507.4C714.1,506.5 719.0,506.2 723.1,504.7C726.4,503.5 729.8,501.3 732.5,499.0C736.0,496.2 738.6,491.7 742.0,488.8C744.1,487.0 746.9,485.4 749.6,484.3C752.2,483.2 755.5,482.8 758.2,482.0C758.5,485.7 758.2,489.8 759.0,493.4C759.7,496.5 761.0,500.1 762.8,502.8C764.7,505.7 767.4,508.5 770.3,510.4C774.2,512.8 779.3,514.2 783.6,516.0C785.4,511.2 786.8,505.5 789.2,500.9C790.1,499.3 792.3,498.4 793.8,497.1C795.9,499.6 798.0,502.7 800.6,504.7C803.9,507.3 808.0,509.9 811.9,511.5C815.9,513.2 820.9,514.0 825.1,514.9C828.7,515.7 832.8,516.2 836.5,516.8L842.9,534.9C846.3,533.7 850.3,532.8 853.5,531.2C856.2,529.8 858.6,527.3 861.0,525.5C861.3,523.1 862.3,520.3 861.8,517.9C861.1,514.7 858.8,511.5 857.3,508.5C856.1,506.3 854.7,503.9 853.5,501.7C855.3,499.6 857.0,496.9 859.1,495.3C863.1,492.2 867.9,489.2 872.4,486.9C876.4,484.9 881.2,483.2 885.6,482.0C889.7,481.0 894.5,480.3 898.8,480.1C901.3,480.1 904.0,480.9 906.4,481.3L913.2,476.4C913.7,473.3 915.2,469.9 914.7,466.9C914.0,463.0 911.1,459.2 909.4,455.6C915.7,452.6 922.6,448.8 929.1,446.1C934.4,443.9 940.3,441.0 946.1,440.5C950.4,440.1 955.1,442.2 959.3,443.5C961.8,444.3 964.4,445.8 966.8,446.9C968.0,444.2 969.0,441.0 970.6,438.6C973.3,434.7 976.7,430.6 980.1,427.2C983.4,423.9 987.8,420.8 991.4,417.8L1002.7,422.7C1008.2,420.5 1014.1,417.3 1019.7,415.9C1023.9,414.9 1028.7,415.4 1033.0,415.1C1034.8,419.0 1036.4,423.6 1038.6,427.2C1040.7,430.5 1043.3,434.2 1046.2,436.7C1049.4,439.4 1053.4,442.6 1057.5,443.5C1062.3,444.5 1067.8,443.0 1072.6,442.4C1077.5,441.7 1082.9,440.6 1087.8,439.7C1090.8,442.4 1093.7,446.0 1097.2,448.0C1100.5,449.9 1104.7,451.4 1108.5,451.8C1112.8,452.3 1117.7,451.8 1121.8,450.7C1125.7,449.6 1129.5,446.9 1133.1,445.0C1135.2,443.9 1137.5,442.4 1139.5,441.2C1135.7,447.0 1130.8,453.2 1127.4,459.4C1123.3,466.9 1120.0,476.2 1116.1,483.9C1112.4,491.3 1107.6,499.3 1103.6,506.6C1105.2,511.4 1107.4,516.7 1108.5,521.7C1109.9,527.7 1111.2,534.5 1111.2,540.6C1111.2,546.1 1110.2,552.4 1108.5,557.6C1106.9,562.8 1102.6,567.6 1101.0,572.7C1099.3,578.0 1099.8,584.4 1098.3,589.7C1096.8,595.4 1094.3,601.6 1091.5,606.7C1088.5,612.5 1084.0,618.4 1080.2,623.7C1075.7,630.1 1070.4,637.1 1065.8,643.4L1078.2,651.8L1074.4,659.3L1105.1,673.7L1103.2,680.1L1130.8,693.7L1134.9,686.2L1223.0,725.8C1219.3,732.1 1215.9,739.6 1211.6,745.5C1207.4,751.4 1201.7,757.4 1196.5,762.5C1193.4,765.5 1189.3,768.1 1185.9,770.8C1185.7,773.6 1186.4,777.0 1185.2,779.5C1183.6,782.7 1180.7,785.9 1177.6,787.8C1169.6,792.7 1159.5,796.0 1151.2,800.3C1142.5,804.8 1132.8,810.0 1124.7,815.4C1118.3,819.7 1111.5,825.3 1105.8,830.5C1095.8,839.8 1085.0,850.8 1075.6,860.7C1070.5,866.2 1065.3,872.8 1060.5,878.5L1002.7,822.1L996.3,819.1C998.0,813.4 1000.5,807.2 1001.6,801.4C1002.0,799.6 1001.1,797.5 1000.9,795.7C994.8,794.2 988.1,792.3 982.0,791.1C975.4,789.9 967.8,789.1 961.2,788.1L959.3,771.1C955.7,769.3 951.8,766.7 947.9,765.5C942.1,763.6 935.1,762.8 929.1,761.7C922.6,760.4 915.4,759.1 909.0,757.9L852.3,859.9L791.1,975.9L802.0,972.6L804.4,981.7L810.4,986.2C811.4,993.0 811.4,1000.9 813.5,1007.4C814.6,1010.8 817.5,1013.9 820.1,1016.4C823.6,1019.8 828.0,1023.2 832.2,1025.5C838.7,1029.0 846.6,1031.7 853.4,1034.6C849.5,1036.7 844.8,1038.5 841.3,1041.2C838.2,1043.6 835.7,1047.4 833.1,1050.3L834.6,1054.3L850.4,1047.3C851.8,1049.0 853.7,1050.8 854.9,1052.7C856.6,1055.5 858.3,1058.8 859.4,1061.8C860.7,1065.3 861.5,1069.4 862.5,1073.0C869.2,1072.0 876.8,1070.0 883.6,1070.0C887.6,1070.0 892.2,1071.2 895.7,1073.0C898.7,1074.5 901.6,1077.1 903.3,1080.0C905.6,1083.9 906.8,1089.1 907.8,1093.6C909.2,1099.3 909.6,1106.0 910.9,1111.7C913.5,1124.4 917.0,1138.5 919.9,1151.0C916.1,1151.2 911.7,1151.3 907.8,1151.6C903.0,1152.1 897.4,1152.3 892.7,1153.5C886.7,1154.9 880.2,1157.0 874.6,1159.5C868.0,1162.4 861.4,1167.0 854.9,1170.1C850.7,1172.1 845.8,1174.3 841.3,1175.2C835.6,1176.4 828.9,1176.3 823.1,1176.7C817.3,1177.2 810.7,1177.1 805.0,1178.3C801.4,1179.0 797.4,1180.7 794.4,1182.8C791.0,1185.1 788.2,1189.0 785.3,1191.9C782.9,1193.8 780.5,1196.5 777.8,1197.9C774.1,1199.8 769.7,1201.7 765.7,1201.9C735.2,1203.1 700.9,1202.3 670.4,1202.5L661.3,1184.3L649.2,1186.7C643.7,1157.9 638.7,1125.2 632.0,1096.6C631.0,1092.3 626.8,1088.6 625.0,1084.5C623.4,1080.8 621.8,1076.4 621.4,1072.4C620.3,1061.8 621.2,1049.8 620.5,1039.1C620.4,1038.1 619.5,1037.1 619.0,1036.1C610.8,1021.1 600.0,1005.0 593.3,989.2C587.3,975.3 586.1,957.6 579.7,943.9C571.6,926.6 558.5,909.4 548.5,893.2L530.4,899.6L501.3,852.4L479.4,786.6L462.4,793.8M1909.5,1123.6C1914.6,1123.6 1920.6,1122.2 1925.6,1123.6C1934.2,1126.0 1942.8,1131.8 1951.1,1135.1C1959.1,1138.2 1968.3,1141.4 1976.6,1143.6C1984.7,1145.7 1993.9,1147.7 2002.1,1148.3C2010.3,1148.8 2019.6,1148.3 2027.6,1147.0C2038.7,1145.2 2050.9,1141.5 2061.7,1138.5C2074.0,1135.0 2087.5,1129.7 2099.9,1126.6C2110.6,1123.9 2122.9,1121.6 2133.9,1120.2C2144.7,1118.8 2157.0,1118.2 2167.9,1118.1C2177.5,1117.9 2188.2,1118.4 2197.7,1119.3C2205.7,1120.2 2214.5,1122.2 2222.4,1123.6C2233.5,1126.6 2246.0,1130.4 2257.2,1133.0C2268.0,1135.4 2280.2,1138.1 2291.2,1139.3C2302.0,1140.5 2314.4,1141.1 2325.2,1140.6C2336.2,1140.1 2348.4,1138.3 2359.2,1136.4C2367.5,1134.9 2376.7,1132.6 2384.8,1130.0C2392.7,1127.4 2401.2,1123.3 2409.0,1120.2L2419.6,1141.5C2409.8,1149.2 2398.7,1157.8 2389.0,1165.7C2381.9,1171.4 2373.2,1177.3 2366.9,1184.0C2362.2,1189.0 2359.5,1196.6 2355.0,1201.8C2352.6,1204.6 2349.0,1207.2 2345.6,1208.6C2341.7,1210.3 2336.7,1210.6 2332.5,1211.6L2307.4,1305.1L2315.9,1315.8C2315.2,1320.5 2313.4,1325.8 2313.8,1330.6C2314.3,1337.6 2317.5,1345.0 2318.9,1351.9C2319.8,1356.6 2321.3,1362.0 2321.0,1366.8C2320.6,1373.7 2318.8,1381.4 2316.7,1388.0C2314.7,1394.4 2311.6,1401.4 2308.2,1407.2C2304.8,1413.0 2299.8,1418.9 2295.5,1424.2C2290.3,1430.5 2283.4,1436.7 2278.5,1443.3C2275.2,1447.7 2272.1,1453.1 2270.0,1458.2C2268.4,1462.0 2267.0,1466.7 2267.0,1470.9C2267.0,1476.5 2268.0,1482.8 2270.0,1487.9C2278.5,1510.1 2292.2,1533.4 2299.7,1556.0C2301.9,1562.4 2297.9,1570.7 2299.7,1577.2C2302.1,1586.0 2308.4,1594.6 2312.5,1602.7C2302.2,1602.5 2290.1,1599.0 2280.2,1602.2C2248.8,1612.1 2216.6,1631.6 2185.7,1643.0C2177.7,1645.9 2167.6,1645.0 2159.3,1646.8C2149.5,1648.9 2138.6,1651.9 2129.1,1655.1C2121.6,1657.6 2113.4,1661.0 2106.4,1664.5C2101.9,1666.7 2097.4,1670.2 2093.2,1672.8L1813.5,1590.1L1820.2,1577.2C1821.5,1571.8 1823.7,1565.8 1824.4,1560.2C1825.1,1554.8 1823.9,1548.6 1824.4,1543.2C1825.0,1538.1 1828.7,1532.5 1827.8,1527.5C1823.4,1502.6 1814.2,1475.4 1807.9,1450.9C1812.6,1427.4 1817.5,1400.8 1822.7,1377.4C1823.7,1373.2 1826.1,1368.9 1827.0,1364.6C1828.1,1359.3 1829.3,1353.1 1829.1,1347.6C1828.9,1342.1 1826.5,1336.1 1825.7,1330.6C1825.1,1326.6 1823.4,1321.7 1824.9,1317.9C1839.9,1277.1 1860.1,1232.6 1876.7,1192.5C1882.8,1193.8 1889.6,1195.8 1895.9,1196.7C1901.9,1197.6 1908.9,1198.7 1915.0,1198.0C1917.4,1197.7 1919.3,1195.1 1921.4,1193.7L1919.2,1186.9C1914.5,1186.0 1909.1,1185.0 1904.4,1184.0C1898.9,1182.8 1892.5,1182.3 1887.4,1180.1C1884.1,1178.8 1880.8,1176.2 1878.8,1173.3C1877.2,1171.0 1877.4,1167.6 1876.7,1164.8L1897.1,1161.9L1909.5,1123.6M325.5,2126.5C333.7,2122.4 343.1,2118.2 351.0,2113.7C358.7,2109.4 367.2,2104.1 374.4,2098.8C382.2,2093.2 390.6,2086.2 397.8,2079.7C404.9,2073.3 412.2,2065.3 419.0,2058.5C425.8,2051.7 433.0,2043.5 440.3,2037.2C447.3,2031.2 455.9,2025.2 463.7,2020.2C472.9,2014.3 484.2,2009.0 493.4,2003.2C502.5,1997.5 512.2,1990.2 521.1,1984.1C534.7,1974.6 549.7,1963.4 563.6,1954.3C581.0,1943.0 601.4,1931.5 618.8,1920.3C635.4,1909.7 653.5,1897.2 669.9,1886.3C682.1,1878.1 696.0,1869.2 708.1,1860.8C720.5,1852.2 734.6,1842.5 746.4,1833.1C757.0,1824.7 768.6,1814.7 778.2,1805.1C787.8,1795.6 797.3,1783.8 806.3,1773.7C809.6,1773.6 813.5,1774.1 816.7,1773.3C819.1,1772.8 821.2,1770.8 823.3,1769.6C825.4,1771.7 828.0,1773.9 829.9,1776.2C831.9,1778.5 833.9,1781.2 835.6,1783.7C841.8,1793.3 848.3,1804.4 854.5,1814.0C860.4,1823.1 867.1,1833.4 873.4,1842.3C880.1,1851.8 887.4,1862.8 895.2,1871.4C902.6,1879.6 911.9,1888.0 920.7,1894.8C929.7,1901.7 940.4,1908.7 950.4,1913.9C960.6,1919.2 973.0,1923.2 983.6,1927.5C973.0,1945.3 959.9,1964.7 950.4,1983.2C948.1,1987.8 949.3,1994.3 947.0,1998.9C945.7,2001.7 941.7,2002.9 939.8,2005.3C938.0,2007.7 936.5,2010.9 935.6,2013.8C933.1,2021.9 930.8,2031.1 929.2,2039.3C928.1,2044.7 927.7,2050.9 927.1,2056.3C906.0,2056.1 882.3,2054.9 861.2,2055.5C855.6,2055.6 849.2,2056.3 844.2,2058.5C840.5,2060.1 836.8,2063.4 834.8,2067.0C832.5,2071.3 831.7,2077.0 831.4,2081.8C831.2,2085.3 832.4,2089.2 833.5,2092.5C834.5,2095.4 837.2,2098.0 837.8,2101.0C838.2,2103.0 836.9,2105.3 836.5,2107.4C834.2,2108.4 831.8,2110.5 829.3,2110.8C824.5,2111.2 819.2,2109.0 814.4,2109.5C808.4,2110.0 802.0,2112.4 796.1,2113.7C798.6,2117.1 802.3,2120.4 803.8,2124.4C805.5,2128.8 804.8,2134.6 805.9,2139.2C806.6,2142.1 808.2,2145.0 809.3,2147.7C813.7,2146.0 818.4,2143.6 822.9,2142.2C825.9,2141.3 829.6,2141.1 832.7,2140.5C835.7,2146.2 838.5,2153.0 842.0,2158.4C846.3,2164.9 851.3,2172.1 856.9,2177.5C861.7,2182.0 868.1,2185.9 873.9,2189.0C880.4,2192.4 888.3,2195.3 895.2,2197.9C900.1,2199.8 905.9,2201.4 910.9,2203.0C907.9,2228.2 904.5,2256.5 901.6,2281.7C900.1,2294.2 900.7,2308.6 897.3,2320.8C893.1,2335.9 884.3,2351.4 878.2,2365.8L874.8,2370.9C869.1,2368.2 863.0,2364.2 856.9,2362.4C851.0,2360.7 843.5,2362.6 837.8,2360.3C832.9,2358.3 828.6,2353.6 825.0,2349.7C821.7,2346.0 818.4,2341.4 816.5,2336.9C814.7,2332.4 814.5,2326.8 813.6,2322.0C808.4,2321.1 802.3,2320.9 797.4,2319.1C792.9,2317.4 788.3,2314.5 784.6,2311.4C781.8,2309.0 779.7,2305.1 777.4,2302.1C773.6,2308.5 769.6,2315.8 765.5,2322.0C762.3,2327.0 758.8,2332.6 754.9,2336.9C751.3,2340.8 746.7,2344.9 742.1,2347.5C737.1,2350.4 730.8,2352.7 725.1,2353.9C717.1,2355.7 707.8,2356.6 699.6,2356.9C690.1,2357.3 679.3,2357.3 669.9,2356.1C664.2,2355.3 658.5,2351.7 652.9,2350.9C645.8,2350.0 637.8,2350.9 630.8,2350.9C628.3,2347.8 625.9,2344.0 623.1,2341.2C620.7,2338.8 617.4,2336.7 614.6,2334.8C609.3,2331.2 602.9,2327.8 597.6,2324.2C587.5,2317.2 576.5,2308.8 566.6,2301.6L559.8,2256.1C557.6,2254.8 554.7,2253.7 553.0,2251.9C550.7,2249.6 548.5,2246.5 547.4,2243.4C546.1,2239.8 546.3,2235.3 545.7,2231.5C537.8,2228.5 528.9,2225.3 521.1,2222.1C511.5,2218.2 500.7,2213.7 491.3,2209.4C483.0,2205.6 474.0,2200.7 465.8,2196.6L486.2,2170.3L449.2,2142.2C445.0,2145.3 440.8,2149.7 436.0,2152.0C432.3,2153.8 427.4,2154.4 423.3,2154.5C417.8,2154.7 411.6,2153.9 406.3,2152.8C399.4,2151.5 391.8,2149.0 385.0,2146.9C375.4,2143.9 364.7,2140.4 355.3,2137.1C345.7,2133.8 335.0,2129.9 325.5,2126.5M1171.7,1293.5C1208.2,1276.4 1249.0,1256.7 1285.6,1240.0C1290.2,1237.9 1295.7,1236.5 1300.4,1234.9L1595.2,1124.5C1604.3,1121.1 1614.4,1116.7 1623.8,1113.8C1634.5,1110.5 1646.7,1107.0 1657.8,1105.3C1672.4,1103.1 1689.0,1103.0 1703.7,1101.9L1753.4,1034.3C1773.2,1029.8 1795.2,1024.2 1815.1,1020.3C1828.6,1017.6 1844.0,1015.7 1857.6,1013.9C1869.8,1012.3 1883.6,1011.0 1895.9,1009.7L1883.9,933.1L1916.3,935.3L1916.3,918.3L1929.9,921.2L1930.7,932.3L1952.0,932.3L1952.4,923.8L2009.4,932.3L2010.6,942.5L2043.4,947.2C2040.4,957.0 2036.4,967.8 2034.0,977.8C2032.1,985.8 2030.4,995.0 2029.8,1003.3C2029.3,1010.1 2029.6,1017.8 2030.6,1024.5C2031.6,1030.8 2033.7,1037.8 2036.1,1043.7C2037.8,1047.7 2041.1,1051.5 2043.4,1055.2L2048.9,1041.5C2069.3,1047.0 2092.5,1052.3 2112.7,1058.6C2135.8,1065.7 2161.2,1075.3 2184.1,1083.2L2184.9,1090.4L2216.8,1108.3L2222.4,1123.6M1876.7,1164.8L1869.5,1165.3C1865.7,1170.6 1861.8,1176.8 1857.6,1181.8C1851.1,1189.6 1843.9,1198.5 1836.3,1205.2C1830.2,1210.6 1821.9,1214.8 1815.1,1219.3L1797.2,1206.1C1790.7,1211.2 1783.7,1217.5 1776.8,1222.2C1770.3,1226.8 1762.8,1231.7 1755.6,1235.0C1747.7,1238.5 1738.5,1241.7 1730.1,1243.5C1721.1,1245.4 1710.7,1245.5 1701.6,1246.5L1687.5,1233.7L1634.4,1257.1C1633.7,1261.6 1633.2,1266.7 1632.3,1271.1C1631.1,1276.6 1629.6,1282.7 1628.0,1288.1C1625.5,1297.0 1623.1,1307.2 1619.5,1315.8C1616.6,1322.7 1611.4,1329.6 1607.6,1336.2L1614.6,1353.6L1585.3,1360.2C1585.0,1360.7 1584.4,1361.2 1584.4,1361.7C1584.4,1365.4 1584.4,1369.5 1585.3,1373.1C1586.0,1375.7 1587.8,1378.2 1589.1,1380.6C1590.9,1384.0 1593.3,1387.5 1594.8,1391.0C1596.0,1393.9 1597.3,1397.3 1597.6,1400.5C1597.9,1403.5 1596.9,1406.9 1596.6,1409.9C1597.9,1410.8 1599.3,1411.7 1600.4,1412.7C1601.6,1413.8 1602.6,1415.3 1603.6,1416.5L1602.3,1423.1L1598.5,1427.3C1581.0,1416.6 1561.6,1403.9 1543.7,1393.8C1538.1,1390.7 1531.1,1388.5 1525.2,1385.9C1522.7,1387.5 1519.9,1389.6 1517.3,1391.0C1515.0,1392.3 1512.3,1393.7 1509.7,1394.4C1506.8,1395.2 1503.3,1395.7 1500.3,1395.7C1497.2,1395.8 1493.8,1395.4 1490.8,1394.8C1487.7,1394.2 1484.4,1393.1 1481.4,1392.0C1478.6,1390.9 1475.6,1389.4 1472.9,1388.2L1467.2,1402.9L1441.3,1409.3C1430.6,1411.8 1418.1,1413.5 1407.7,1417.1C1404.1,1418.3 1401.5,1422.2 1398.3,1424.1C1395.4,1425.7 1392.0,1427.1 1388.8,1427.9C1386.5,1428.4 1383.6,1428.8 1381.2,1428.2C1378.0,1427.5 1374.8,1425.5 1371.8,1424.1C1368.1,1422.3 1364.5,1418.5 1360.5,1418.0C1351.6,1417.0 1341.4,1419.2 1332.5,1419.7L1328.3,1415.2L1325.5,1415.2L1306.6,1413.3L1304.5,1416.7C1301.5,1417.9 1298.2,1419.6 1295.1,1420.4C1290.3,1421.7 1284.9,1422.9 1280.0,1423.3C1269.8,1424.0 1258.4,1423.5 1248.2,1423.7C1245.1,1425.7 1241.7,1428.2 1238.4,1429.9C1236.1,1431.0 1233.4,1432.2 1230.8,1432.3C1228.7,1432.5 1226.3,1431.3 1224.2,1430.8L1222.9,1428.9L1222.9,1421.4C1221.8,1417.8 1220.9,1413.6 1219.5,1410.1C1218.0,1406.3 1216.0,1402.1 1213.8,1398.7C1212.3,1396.4 1210.0,1394.2 1208.2,1392.1C1203.9,1388.8 1199.6,1384.5 1194.9,1381.7C1190.4,1379.0 1184.8,1376.9 1179.8,1375.1C1174.5,1373.2 1168.3,1371.6 1162.8,1370.4C1157.4,1369.2 1151.3,1368.0 1145.8,1367.5C1139.2,1367.0 1131.7,1367.4 1125.0,1367.5C1119.0,1367.7 1112.2,1367.9 1106.1,1368.5C1100.8,1369.0 1094.8,1370.0 1089.5,1370.8C1093.6,1367.6 1098.2,1364.0 1102.4,1360.9C1106.5,1357.8 1111.1,1354.1 1115.6,1351.5C1119.6,1349.2 1124.5,1347.3 1128.8,1345.8C1134.1,1344.0 1140.3,1342.2 1145.8,1341.1C1152.1,1339.8 1159.3,1339.2 1165.6,1338.3L1171.7,1293.5M748.5,1414.9C724.0,1420.7 696.9,1430.0 671.9,1433.1C666.2,1433.9 660.5,1428.5 654.9,1426.8C651.6,1425.7 647.8,1424.6 644.3,1424.6C624.6,1425.0 602.4,1426.8 582.7,1428.0C566.3,1429.1 547.9,1430.2 531.7,1431.9C518.0,1433.2 502.6,1434.9 489.1,1437.4C478.1,1439.4 465.9,1442.7 455.1,1445.9C445.4,1448.8 434.6,1452.5 425.4,1456.5C417.6,1460.0 409.0,1464.4 402.0,1469.3C393.7,1475.0 386.9,1485.0 377.8,1489.3C365.3,1495.1 349.4,1496.5 336.1,1499.9C323.9,1502.9 310.3,1507.2 297.8,1509.2C283.0,1511.7 266.0,1511.9 251.1,1513.9C241.5,1515.2 230.7,1517.1 221.3,1519.4C214.3,1521.2 206.5,1523.5 200.1,1526.7C194.2,1529.6 188.2,1534.0 183.0,1538.1C174.5,1545.0 165.6,1553.3 157.5,1560.7C148.6,1568.9 138.7,1578.3 129.9,1586.6C123.8,1586.9 116.8,1586.7 110.8,1587.5C102.5,1588.6 93.3,1590.5 85.3,1592.6C72.9,1595.8 59.2,1600.4 47.0,1604.0L167.3,1696.7L170.3,1687.4L239.2,1706.1L232.4,1719.3L270.6,1732.4L266.4,1753.3L257.9,1752.0L259.6,1781.7L254.9,1783.9L273.2,1841.3L268.9,1842.5C270.4,1845.5 273.0,1848.6 273.6,1851.9C274.2,1855.3 273.5,1859.3 272.3,1862.5C271.0,1866.3 268.6,1870.2 265.9,1873.2C262.1,1877.5 256.7,1881.2 252.3,1885.1C257.4,1885.7 263.1,1888.0 268.1,1887.2C274.0,1886.2 280.1,1882.8 285.1,1879.5C292.4,1874.8 299.1,1867.4 306.3,1862.5C314.8,1856.9 324.3,1850.0 334.0,1846.8C342.4,1844.0 353.3,1847.3 361.6,1844.2C368.2,1841.9 372.7,1834.3 378.6,1830.6C383.6,1827.5 389.9,1824.8 395.6,1823.4C400.9,1822.1 407.2,1822.0 412.6,1822.1C421.9,1822.3 432.3,1823.6 441.5,1824.3C444.5,1820.2 447.5,1815.3 450.9,1811.5C453.9,1808.0 457.5,1804.0 461.5,1801.7C465.8,1799.3 471.5,1798.1 476.4,1797.5C483.8,1796.6 492.4,1798.6 499.8,1797.1C503.7,1796.2 506.8,1792.0 510.4,1790.3C513.6,1788.7 517.5,1787.6 521.0,1786.8C524.0,1786.2 527.4,1786.3 530.4,1786.0C530.5,1781.2 529.9,1775.8 530.8,1771.1C531.7,1766.2 533.6,1760.7 535.9,1756.2C538.0,1752.2 541.1,1747.9 544.4,1744.8C548.0,1741.4 552.8,1738.5 557.2,1736.3C560.3,1734.6 564.4,1733.9 567.8,1732.9L592.4,1690.3C591.6,1679.5 590.1,1667.2 589.9,1656.3C589.7,1648.2 590.0,1638.9 591.2,1630.8C592.2,1623.2 596.3,1615.1 596.7,1607.4C598.0,1584.4 595.9,1558.3 596.7,1535.2C596.8,1531.6 599.2,1528.0 599.7,1524.5C600.4,1519.1 600.3,1513.0 600.5,1507.5C608.4,1507.1 617.4,1507.4 625.2,1506.3C629.0,1505.7 633.0,1503.7 636.7,1502.4C641.1,1504.1 646.1,1506.2 650.7,1507.5C656.1,1509.2 662.3,1510.4 667.7,1511.8C673.1,1513.2 679.3,1514.7 684.7,1516.0L691.1,1517.3L697.5,1506.7L682.6,1501.2L679.6,1493.9L686.8,1482.5C694.3,1484.1 702.7,1486.2 710.2,1487.6C717.0,1488.8 724.7,1489.6 731.5,1490.5L733.6,1499.0C735.6,1500.4 737.7,1502.3 740.0,1503.3C742.5,1504.4 745.7,1504.7 748.5,1505.4L748.5,1414.9M1247.1,1871.5C1252.7,1871.1 1258.9,1870.3 1264.5,1870.2C1270.0,1870.0 1276.1,1870.4 1281.5,1870.5L1281.5,1887.5L1291.0,1887.5L1291.0,1886.2L1300.4,1887.0C1298.6,1891.4 1296.5,1896.3 1294.8,1900.8C1293.5,1904.1 1291.8,1907.7 1291.0,1911.2C1290.4,1913.8 1290.2,1916.9 1290.4,1919.7C1290.5,1920.8 1291.0,1922.2 1291.9,1922.9C1293.8,1924.4 1296.2,1925.6 1298.5,1926.3C1304.2,1927.8 1310.7,1928.6 1316.5,1929.7L1309.9,1946.1L1331.6,1958.0L1391.1,1947.1C1420.6,2014.7 1454.6,2090.4 1483.4,2158.4C1484.3,2160.5 1482.6,2163.6 1483.8,2165.6C1491.3,2177.5 1502.3,2189.2 1510.2,2200.9C1517.6,2212.0 1525.1,2225.2 1531.4,2237.0C1536.4,2246.5 1541.0,2257.8 1545.4,2267.6L1557.8,2306.3L1571.8,2301.6L1613.5,2339.0C1600.8,2342.4 1586.7,2346.9 1573.9,2349.7C1560.4,2352.6 1545.1,2355.3 1531.4,2356.9C1517.9,2358.5 1502.5,2359.5 1488.9,2359.9C1475.3,2360.2 1460.0,2359.7 1446.4,2359.0C1434.1,2358.4 1420.3,2357.3 1408.1,2356.1C1399.5,2355.2 1389.9,2351.3 1381.3,2352.2C1370.4,2353.4 1358.9,2358.6 1348.6,2362.4C1338.9,2366.0 1328.2,2370.8 1318.8,2375.2C1310.3,2379.2 1300.9,2384.4 1292.5,2388.8C1279.2,2351.4 1258.9,2310.8 1250.8,2271.9C1248.6,2261.1 1258.6,2249.8 1261.5,2239.1C1264.0,2229.7 1266.4,2219.0 1267.8,2209.4C1269.2,2199.9 1270.5,2189.2 1270.4,2179.6C1270.3,2171.4 1269.0,2162.1 1267.0,2154.1C1265.4,2147.7 1262.7,2140.6 1259.3,2135.0C1256.1,2129.6 1250.7,2124.9 1246.6,2120.1C1246.6,2118.1 1246.6,2115.8 1246.6,2113.7C1246.6,2100.9 1246.6,2086.5 1246.6,2073.7C1244.5,2069.4 1240.9,2065.1 1240.0,2060.4C1238.5,2053.3 1239.2,2045.0 1239.0,2037.8C1238.7,2024.5 1238.8,2009.5 1238.5,1996.2C1238.4,1994.4 1237.7,1992.3 1237.7,1990.5C1237.5,1977.2 1238.1,1962.2 1237.7,1948.9C1237.6,1947.1 1236.3,1945.2 1236.2,1943.3C1235.9,1935.7 1235.4,1927.1 1236.6,1919.7C1237.6,1913.1 1241.1,1906.3 1242.8,1899.8C1244.2,1894.5 1245.4,1888.3 1246.2,1882.8C1246.7,1879.2 1246.8,1875.1 1247.1,1871.5M1096.9,1123.8C1098.3,1128.7 1100.0,1134.1 1101.4,1138.9C1101.9,1140.7 1102.4,1142.6 1102.9,1144.4C1103.4,1153.3 1104.4,1163.3 1104.4,1172.2C1104.4,1180.0 1103.9,1188.7 1102.9,1196.4C1101.9,1204.2 1100.4,1213.0 1098.4,1220.6C1096.7,1226.6 1093.6,1232.9 1091.4,1238.8L1114.1,1234.2C1114.7,1229.9 1114.5,1224.8 1115.9,1220.6C1117.2,1216.8 1119.7,1212.8 1122.6,1210.0C1126.1,1206.6 1131.4,1204.3 1135.6,1201.6C1146.9,1220.7 1160.5,1241.8 1171.0,1261.4C1173.1,1265.4 1174.3,1270.5 1174.6,1275.0C1174.8,1279.0 1173.6,1283.4 1172.5,1287.1C1171.7,1289.8 1169.8,1292.3 1168.5,1294.8L1171.7,1293.5M1595.2,1124.5L1589.5,1092.0L1582.7,1090.1C1581.3,1082.0 1579.4,1073.0 1578.2,1064.8C1577.3,1058.8 1576.5,1052.0 1576.3,1045.9C1576.1,1039.9 1576.4,1033.0 1577.0,1027.0C1577.6,1022.1 1578.9,1016.7 1580.1,1011.9C1581.6,1005.8 1583.7,999.1 1585.4,993.0L1565.0,984.7L1544.2,912.9L1557.4,888.0C1555.8,884.1 1553.7,879.8 1552.5,875.9C1550.8,870.5 1549.7,864.3 1548.3,858.9C1546.4,863.1 1544.8,868.1 1542.3,872.1C1539.8,876.1 1536.2,880.2 1532.8,883.4C1528.3,887.7 1522.8,892.0 1517.7,895.5C1513.1,898.7 1507.6,901.7 1502.6,904.2C1497.0,907.0 1491.0,911.2 1484.8,912.1C1473.1,913.9 1459.7,912.4 1447.8,912.5C1445.4,915.3 1443.0,918.7 1440.2,921.2C1436.3,924.8 1431.5,928.5 1427.0,931.4C1422.4,934.4 1416.9,937.1 1411.9,939.3C1408.1,941.1 1403.7,942.4 1399.8,943.9C1397.6,948.1 1395.1,952.8 1393.0,957.1C1390.2,962.9 1385.6,968.9 1384.7,975.2C1382.9,988.7 1386.0,1004.1 1384.7,1017.6C1384.4,1021.0 1380.5,1023.7 1379.8,1027.0C1378.7,1032.0 1379.5,1037.8 1379.4,1042.9C1369.2,1039.6 1358.0,1035.3 1347.7,1032.7C1337.2,1030.0 1325.0,1028.3 1314.4,1026.3C1313.9,1029.5 1313.9,1033.3 1312.9,1036.5C1311.8,1039.7 1310.3,1043.4 1308.0,1045.9C1305.9,1048.1 1302.3,1049.0 1299.7,1050.4C1299.3,1053.2 1299.5,1056.5 1298.5,1059.1C1297.3,1062.4 1295.4,1066.1 1292.9,1068.6C1290.4,1071.1 1286.6,1072.8 1283.4,1074.3C1280.5,1075.6 1277.0,1076.3 1274.0,1077.3L1285.3,1088.2C1281.1,1088.6 1276.2,1088.4 1272.1,1089.4C1267.7,1090.4 1262.9,1092.2 1258.9,1094.3C1254.1,1096.7 1249.3,1100.5 1244.9,1103.4C1239.1,1102.1 1232.5,1100.9 1226.7,1099.6C1218.3,1097.7 1208.9,1094.6 1200.3,1093.5C1194.9,1092.9 1188.7,1094.0 1183.3,1094.3C1180.9,1097.5 1178.6,1101.6 1175.7,1104.5C1171.9,1108.2 1167.2,1112.2 1162.5,1114.7C1156.8,1117.7 1149.8,1119.9 1143.6,1121.5C1136.5,1123.3 1128.3,1124.7 1120.9,1125.3C1113.7,1125.9 1105.5,1125.3 1098.3,1125.3L1096.9,1123.8M924.9,2084.0C934.5,2087.6 945.0,2092.4 954.7,2095.4C956.0,2095.9 957.6,2094.2 959.0,2094.6C969.4,2098.0 981.1,2102.2 990.8,2107.4C993.6,2108.9 995.0,2112.7 997.2,2115.0C999.1,2116.9 1001.5,2118.5 1003.6,2120.1L1009.4,2120.1L1038.3,2076.3L1044.6,2074.2L1051.0,2077.6L1051.9,2086.9L1057.4,2092.5C1060.1,2092.5 1063.4,2093.4 1065.9,2092.5C1071.8,2090.2 1077.8,2086.3 1082.9,2082.7C1088.7,2078.5 1094.9,2073.3 1099.9,2068.2C1104.0,2064.1 1108.3,2059.1 1111.4,2054.2C1113.1,2051.4 1112.9,2047.1 1114.8,2044.4C1116.2,2042.4 1119.1,2041.5 1121.2,2040.2L1127.5,2042.7C1128.9,2045.5 1129.9,2048.9 1131.8,2051.2C1136.7,2057.4 1142.5,2064.4 1148.8,2069.1C1156.2,2074.6 1165.9,2078.8 1174.3,2082.7C1186.3,2088.3 1200.3,2093.6 1212.6,2098.8C1219.4,2101.8 1227.2,2104.9 1233.8,2108.2C1238.1,2110.3 1242.5,2113.4 1246.6,2115.9L1246.6,2120.1M1292.5,2388.8C1287.3,2391.9 1281.1,2394.8 1276.3,2398.6C1271.1,2402.8 1266.2,2408.7 1261.5,2413.4L1197.7,2329.7L1188.3,2332.7L1178.6,2320.8L1187.1,2313.5L1181.5,2272.3C1177.2,2273.0 1172.3,2274.4 1167.9,2274.4C1165.1,2274.4 1162.0,2273.5 1159.4,2272.3C1156.5,2271.0 1153.6,2268.5 1150.9,2266.8L1124.6,2277.4L1096.5,2242.1C1094.7,2245.2 1093.0,2249.0 1090.7,2251.9C1087.0,2256.6 1082.8,2261.9 1078.0,2265.5C1073.1,2269.1 1066.8,2272.2 1061.0,2274.0C1054.4,2276.0 1046.6,2277.4 1039.7,2277.4C1032.8,2277.4 1025.1,2276.0 1018.5,2274.0C1011.4,2271.9 1003.6,2268.4 997.2,2264.6C992.2,2261.7 987.7,2256.8 983.2,2253.2L960.2,2315.7L952.6,2314.4L950.4,2322.0C953.2,2322.7 956.3,2323.2 959.0,2324.2C964.5,2326.3 970.7,2328.9 976.0,2331.8C983.0,2335.7 990.5,2340.9 997.2,2345.4C1009.9,2354.1 1023.8,2364.2 1036.3,2373.1C1030.6,2379.9 1024.6,2387.9 1018.5,2394.3C1012.1,2400.9 1004.7,2408.1 997.2,2413.4C990.3,2418.4 981.3,2422.1 973.8,2426.2C966.3,2419.8 958.8,2411.5 950.4,2406.2C928.0,2392.1 901.3,2378.8 878.2,2365.8M910.9,2203.0L924.9,2084.0M259.6,1905.0C264.3,1903.3 269.6,1901.0 274.4,1899.5C309.1,1889.0 348.2,1877.8 382.9,1867.6L442.4,1834.9C460.1,1827.8 480.0,1819.9 497.6,1812.8C510.6,1807.6 525.3,1802.3 538.0,1796.6C542.4,1794.7 547.2,1792.1 550.8,1789.0C561.5,1779.8 572.1,1767.8 582.7,1758.4C589.2,1752.6 596.7,1746.3 603.9,1741.4C610.4,1737.0 618.1,1732.7 625.2,1729.5C633.1,1725.9 643.3,1724.6 650.7,1720.1C658.5,1715.3 664.9,1706.8 671.9,1701.0C679.8,1694.5 688.9,1687.4 697.5,1681.8C708.0,1675.1 720.2,1668.2 731.5,1662.7C743.6,1656.8 757.9,1651.5 770.4,1646.2L805.3,1739.3L808.2,1739.3L812.0,1753.5C814.1,1753.8 816.6,1753.6 818.6,1754.5C820.4,1755.2 821.8,1757.0 823.3,1758.2C823.7,1760.0 824.6,1762.0 824.6,1763.9C824.6,1765.8 823.7,1767.8 823.3,1769.6M325.5,2126.5C337.1,2117.0 350.4,2106.7 361.6,2096.7C368.8,2090.3 376.6,2082.8 382.9,2075.5C388.9,2068.4 394.8,2059.8 399.9,2052.1C404.3,2045.5 409.1,2037.9 412.7,2030.8C416.1,2024.0 419.0,2015.8 422.0,2008.7L383.8,2008.7L382.9,2000.2C370.7,1988.9 358.1,1974.7 344.6,1964.9C338.1,1960.2 328.6,1958.9 321.3,1955.6C316.3,1953.3 310.9,1950.4 306.3,1947.5C299.3,1943.1 291.5,1937.9 285.1,1932.7C279.9,1928.4 274.8,1922.7 270.2,1917.8C266.6,1913.9 263.0,1909.1 259.6,1905.0M1238.1,847.5C1268.3,838.0 1304.1,834.2 1335.2,827.9L1538.1,785.5C1539.7,792.1 1542.0,799.3 1543.0,806.0C1544.3,813.7 1544.5,822.7 1545.3,830.5C1546.2,839.6 1547.4,849.8 1548.3,858.9M1098.3,1125.3L1083.9,1098.8L1099.0,1093.2C1101.2,1089.5 1104.2,1085.7 1105.8,1081.8C1107.4,1077.8 1108.8,1072.9 1108.8,1068.6C1108.8,1063.7 1107.3,1058.2 1105.8,1053.5C1104.5,1049.1 1100.8,1044.8 1100.1,1040.2C1098.3,1027.7 1098.9,1013.3 1098.3,1000.6C1092.2,1000.2 1085.4,998.7 1079.4,999.4C1074.9,1000.0 1070.5,1003.2 1066.1,1004.3C1062.3,1005.4 1057.9,1005.6 1054.0,1006.2C1054.5,1002.6 1056.1,998.5 1055.6,994.9C1054.8,990.2 1052.0,985.4 1050.3,980.9C1053.5,979.7 1057.8,979.4 1060.5,977.1C1064.2,974.0 1066.4,968.7 1069.2,964.7L1114.1,988.1C1113.0,984.5 1111.2,980.5 1110.7,976.8C1110.4,974.1 1111.2,971.1 1111.5,968.4C1113.3,966.6 1115.9,965.0 1117.1,962.8C1122.6,953.4 1126.0,941.3 1132.3,932.5C1135.3,928.3 1141.5,926.5 1145.5,923.1C1150.0,919.2 1155.0,914.6 1158.7,909.9C1163.2,904.2 1165.2,895.5 1170.8,891.0C1177.8,885.4 1188.6,884.0 1196.5,879.6C1204.2,875.5 1212.3,869.9 1219.2,864.5C1225.6,859.6 1230.3,850.0 1238.1,847.5M1439.8,1594.5C1439.4,1600.4 1439.0,1607.0 1438.4,1612.9C1437.9,1617.8 1436.6,1623.1 1436.1,1628.0C1435.6,1633.4 1435.5,1639.6 1435.6,1645.0C1435.6,1650.5 1435.9,1656.6 1436.5,1662.0C1437.1,1667.5 1438.1,1673.7 1439.3,1679.0C1440.5,1684.0 1442.2,1689.5 1444.1,1694.2C1446.1,1699.2 1448.8,1704.6 1451.6,1709.3C1454.3,1713.7 1457.8,1718.4 1461.1,1722.5C1463.9,1726.0 1467.3,1729.8 1470.5,1732.9C1473.9,1736.1 1478.2,1739.4 1481.9,1742.3C1484.4,1744.4 1487.2,1746.6 1489.8,1748.6L1476.2,1762.6L1469.0,1759.3L1457.3,1773.5L1452.9,1770.3L1432.3,1796.2C1436.1,1798.6 1440.4,1801.2 1444.1,1803.7C1448.4,1806.7 1453.2,1810.0 1457.3,1813.2C1461.7,1816.6 1466.6,1820.6 1470.5,1824.5C1474.5,1828.5 1478.8,1833.1 1481.9,1837.8C1484.9,1842.3 1487.4,1847.9 1489.4,1852.9C1491.3,1857.6 1493.1,1863.0 1494.1,1868.0C1495.5,1874.3 1496.3,1881.6 1497.0,1888.0C1497.8,1896.3 1495.0,1906.4 1498.7,1913.9C1504.5,1925.8 1514.7,1937.6 1525.0,1945.8C1529.9,1949.7 1538.3,1947.7 1544.2,1950.1C1549.4,1952.1 1555.0,1955.5 1559.0,1959.4C1563.0,1963.2 1566.2,1968.7 1568.8,1973.4C1571.0,1977.3 1571.0,1982.9 1573.9,1986.2C1589.1,2002.9 1608.1,2020.0 1624.9,2035.1C1627.2,2037.1 1630.7,2038.0 1633.4,2039.3L1612.2,2111.6C1600.2,2131.1 1585.2,2152.1 1574.8,2172.4C1572.5,2176.9 1574.6,2183.3 1573.1,2188.1C1565.1,2213.9 1554.3,2242.2 1545.4,2267.6M1391.1,1947.1C1383.3,1927.1 1374.1,1904.8 1366.6,1884.7C1365.7,1882.4 1365.0,1879.6 1364.7,1877.1C1363.7,1869.3 1365.4,1860.0 1362.8,1852.6C1360.4,1845.6 1353.6,1839.9 1349.6,1833.7C1346.3,1828.7 1342.9,1822.9 1340.1,1817.6C1338.1,1813.8 1336.1,1809.3 1334.4,1805.3C1332.6,1800.9 1330.8,1795.7 1329.1,1791.2L1329.1,1788.5C1333.3,1787.8 1338.1,1787.3 1342.3,1786.3C1348.4,1784.7 1355.3,1782.7 1361.2,1780.6C1367.4,1778.4 1374.2,1775.7 1380.1,1773.0C1384.6,1771.0 1389.4,1768.3 1393.7,1766.0C1391.8,1763.1 1389.9,1759.6 1387.7,1757.0C1383.7,1752.4 1378.8,1747.8 1374.4,1743.7C1370.4,1739.9 1365.5,1736.0 1361.2,1732.4C1357.6,1729.4 1352.9,1726.6 1349.9,1723.0C1346.2,1718.6 1343.4,1712.7 1340.4,1707.8C1337.9,1703.7 1334.9,1699.0 1332.9,1694.6C1331.0,1690.5 1329.4,1685.7 1328.1,1681.4C1327.0,1677.2 1326.9,1672.2 1325.3,1668.2C1323.5,1663.6 1320.2,1659.2 1317.8,1654.9C1315.0,1650.1 1312.0,1644.7 1309.2,1639.8L1316.8,1635.1C1319.9,1634.3 1323.3,1633.2 1326.5,1632.5C1330.1,1631.6 1334.1,1630.5 1337.8,1630.0C1342.0,1629.5 1346.8,1629.5 1351.0,1629.5C1354.0,1629.5 1357.4,1629.9 1360.5,1630.0C1361.4,1630.9 1362.6,1631.8 1363.3,1632.9C1364.3,1634.5 1364.8,1636.7 1365.6,1638.5C1370.0,1637.3 1375.0,1636.2 1379.4,1634.8C1384.3,1633.2 1389.9,1631.4 1394.5,1629.1C1399.6,1626.5 1405.1,1623.2 1409.6,1619.6C1413.6,1616.5 1417.6,1612.2 1420.9,1608.3C1423.6,1605.2 1425.8,1601.0 1428.5,1597.9C1429.4,1596.8 1430.9,1595.9 1432.3,1595.5C1434.6,1594.8 1437.4,1594.8 1439.8,1594.5M1085.3,1760.7L1102.0,1768.5C1104.4,1773.6 1106.8,1779.6 1109.6,1784.6C1111.7,1788.4 1114.4,1792.6 1117.1,1795.9C1120.4,1799.8 1124.6,1803.9 1128.5,1807.2C1132.5,1810.6 1137.2,1814.1 1141.7,1816.7C1147.5,1819.9 1154.3,1823.1 1160.6,1825.2C1167.1,1827.3 1174.6,1828.9 1181.4,1829.9C1186.2,1830.6 1191.7,1830.4 1196.5,1830.5C1201.0,1830.6 1206.1,1830.5 1210.7,1830.5C1211.9,1829.1 1213.8,1827.9 1214.5,1826.1C1215.7,1823.0 1215.1,1818.9 1216.3,1815.7C1217.0,1814.0 1218.9,1812.8 1220.1,1811.4C1220.5,1813.4 1220.6,1815.8 1221.4,1817.6C1222.5,1819.9 1224.1,1822.3 1225.8,1824.2C1227.7,1826.5 1230.3,1828.5 1232.4,1830.5C1233.6,1831.5 1235.1,1832.5 1236.2,1833.7C1237.9,1835.7 1239.6,1838.0 1240.9,1840.3C1242.4,1842.9 1243.8,1845.9 1244.7,1848.8C1245.6,1851.7 1245.9,1855.2 1246.2,1858.3C1246.7,1862.5 1246.8,1867.2 1247.1,1871.5M1246.6,2073.7L1246.6,2115.9M924.9,2084.0L927.1,2056.3M983.6,1927.5L999.3,1902.4C1011.6,1881.0 1025.0,1856.7 1037.8,1835.6C1048.0,1818.9 1060.5,1800.8 1071.2,1784.4L1085.3,1760.7M1807.9,1450.9C1802.0,1452.6 1795.5,1455.0 1789.6,1456.1C1784.2,1457.0 1778.0,1458.0 1772.6,1457.3C1766.9,1456.6 1760.8,1454.0 1755.6,1451.8C1749.9,1449.5 1744.3,1445.4 1738.6,1443.3C1733.3,1441.3 1727.0,1440.1 1721.5,1439.0C1716.8,1438.1 1711.4,1437.6 1706.7,1436.9C1706.4,1435.6 1706.7,1433.7 1705.8,1432.7C1701.8,1428.1 1696.1,1424.1 1691.8,1419.9C1690.8,1419.0 1690.0,1417.6 1689.2,1416.5C1688.0,1414.7 1686.9,1412.4 1685.5,1410.9C1683.9,1409.2 1681.9,1407.4 1679.8,1406.5C1678.1,1405.8 1675.9,1405.7 1674.1,1406.1C1670.3,1407.0 1666.5,1409.1 1662.8,1410.3C1657.4,1412.0 1650.8,1412.6 1645.8,1415.2C1640.9,1417.7 1637.1,1422.9 1632.5,1426.0C1629.2,1428.2 1625.0,1430.3 1621.2,1431.6C1617.7,1432.9 1613.6,1433.7 1609.9,1434.1C1607.8,1434.3 1605.4,1433.7 1603.3,1433.5L1602.3,1423.1M592.4,1690.3C595.4,1689.7 599.0,1689.6 601.8,1688.2C604.2,1687.0 606.1,1684.5 608.2,1682.7C607.8,1679.7 607.1,1676.4 606.9,1673.3C606.4,1667.2 606.3,1660.3 606.1,1654.2L652.8,1626.6L661.3,1636.4C664.7,1636.9 668.5,1638.3 671.9,1638.1C676.8,1637.6 682.2,1636.0 686.8,1634.2C691.8,1632.3 697.1,1629.3 701.7,1626.6C705.9,1624.1 710.9,1621.4 714.5,1618.1C716.2,1616.5 716.8,1613.7 717.9,1611.7C720.2,1607.6 722.2,1602.7 725.1,1598.9C728.0,1595.1 731.6,1590.8 735.7,1588.3C740.7,1585.3 747.1,1583.3 752.7,1581.9C760.7,1579.9 770.4,1580.3 778.2,1577.7C782.9,1576.1 787.1,1572.1 791.0,1569.2C795.2,1566.0 799.5,1561.7 803.7,1558.6C807.7,1555.6 812.0,1551.9 816.5,1550.1C821.0,1548.2 827.0,1549.2 831.4,1547.1C834.8,1545.4 837.2,1541.3 839.9,1538.6C845.3,1536.5 851.4,1534.1 856.9,1532.2C859.6,1531.3 862.7,1530.5 865.4,1529.6L865.5,1530.4C871.5,1529.9 878.4,1530.1 884.4,1529.0C887.6,1528.4 890.6,1525.4 893.8,1525.1C900.4,1524.3 908.0,1525.6 914.6,1525.6C920.1,1525.7 926.2,1525.4 931.6,1525.3L935.4,1513.3C936.9,1510.0 938.3,1506.1 940.1,1503.0C942.0,1499.8 944.3,1496.3 946.7,1493.5C949.5,1490.3 952.8,1486.6 956.2,1484.1C960.4,1480.9 965.8,1478.3 970.4,1475.6C972.5,1479.5 975.1,1483.8 977.0,1487.8C979.1,1492.6 981.0,1498.1 982.6,1503.0C983.9,1506.5 985.1,1510.6 986.0,1514.3C986.5,1516.1 986.7,1518.1 987.0,1520.0C983.2,1523.6 979.0,1527.8 975.1,1531.3C970.9,1535.0 966.3,1539.2 961.9,1542.6C957.2,1546.2 951.6,1549.8 946.7,1553.0C942.5,1555.8 937.8,1558.9 933.5,1561.5C928.8,1564.4 923.5,1567.8 918.4,1570.0C909.5,1573.9 898.7,1576.2 890.1,1580.4C887.4,1581.7 885.6,1584.9 883.4,1587.0L863.9,1603.3C857.9,1607.2 851.2,1611.9 845.0,1615.6C839.1,1619.1 832.3,1622.9 826.1,1626.0C820.2,1628.9 813.4,1632.0 807.2,1634.5C801.3,1636.9 794.4,1639.1 788.3,1641.1C782.7,1642.9 776.1,1644.6 770.4,1646.2M259.6,1905.0L246.8,1906.3C248.2,1904.5 250.0,1902.7 251.1,1900.8C252.5,1898.2 253.4,1895.0 254.5,1892.3L252.3,1885.1M1223.0,725.8C1235.0,731.3 1248.9,736.8 1260.7,742.8C1267.1,746.1 1274.0,750.5 1279.6,754.9C1284.3,758.6 1289.0,763.6 1292.9,768.2C1295.9,771.8 1298.5,776.6 1301.2,780.6C1306.4,782.1 1312.4,783.2 1317.4,785.2C1320.7,786.5 1324.5,788.2 1326.9,790.8C1329.2,793.3 1330.5,797.1 1331.4,800.3C1332.7,805.0 1333.0,810.6 1333.7,815.4C1334.2,819.4 1334.7,823.9 1335.2,827.9M1054.0,1006.2L1021.9,996.8C1024.0,984.1 1025.8,969.7 1028.3,957.1C1029.5,951.6 1030.8,945.2 1033.3,940.1C1034.7,937.1 1038.1,935.0 1040.4,932.5L1037.0,906.8L1060.5,883.4L1060.5,878.5M785.3,1191.9C787.3,1195.1 789.0,1199.0 791.4,1201.9C794.3,1205.4 798.3,1208.8 802.0,1211.5C806.6,1215.0 812.0,1218.6 817.1,1221.2C823.6,1224.6 831.4,1227.6 838.3,1230.3C845.9,1233.2 854.9,1235.6 862.5,1238.8C869.4,1241.7 877.1,1245.5 883.6,1249.3C888.7,1252.3 894.3,1256.0 898.8,1259.9C903.1,1263.8 907.5,1268.8 910.9,1273.5C914.3,1278.5 917.1,1284.8 919.9,1290.2C922.2,1294.5 924.7,1299.4 926.9,1303.8L950.1,1363.1L897.6,1379.8L830.5,1399.4C821.8,1402.0 812.2,1406.1 803.1,1407.5C787.1,1410.2 768.7,1410.8 752.5,1412.3C752.4,1410.3 753.0,1408.0 752.1,1406.2C750.6,1403.2 747.2,1401.0 745.5,1398.1C744.0,1395.6 742.7,1392.5 742.3,1389.6C741.9,1386.6 742.2,1383.1 743.1,1380.1C744.2,1376.3 746.2,1372.2 748.3,1368.8C750.4,1365.5 753.6,1362.5 755.9,1359.4C759.7,1354.0 763.8,1347.9 767.2,1342.4C769.8,1338.2 772.7,1333.5 774.8,1329.1C776.3,1326.0 777.9,1322.2 778.2,1318.7C778.4,1316.5 775.9,1314.3 776.3,1312.1C777.3,1307.0 780.6,1301.9 782.4,1297.0C784.3,1291.6 786.2,1285.4 788.0,1280.0L789.0,1279.6C789.3,1273.8 789.9,1267.3 789.9,1261.4C789.9,1256.6 789.3,1251.2 789.0,1246.3L783.8,1241.8L773.2,1241.8L768.7,1246.3C765.8,1246.6 762.5,1247.9 759.6,1247.2C756.3,1246.4 753.9,1242.4 750.5,1241.8C743.4,1240.4 734.9,1242.9 727.9,1241.2C722.9,1239.9 718.9,1234.8 714.3,1232.7C708.7,1230.2 702.1,1228.1 696.1,1226.7C690.9,1225.4 684.8,1225.2 679.5,1224.5L670.4,1202.5M893.2,1663.8L899.8,1664.7L901.3,1686.4C903.9,1688.5 907.0,1690.7 909.3,1693.0C912.0,1695.8 915.0,1699.1 916.8,1702.5C918.7,1705.9 919.6,1710.1 920.6,1713.8C921.6,1717.4 922.5,1721.5 922.9,1725.2C923.7,1732.4 923.2,1740.7 924.4,1747.8C924.7,1749.6 925.9,1751.4 927.2,1752.6C928.4,1753.6 930.4,1753.8 931.9,1754.5C934.1,1753.4 936.7,1752.7 938.6,1751.2C940.4,1749.8 941.8,1747.4 943.3,1745.6L948.0,1753.1L952.3,1753.1C954.3,1751.1 956.8,1749.2 958.4,1746.9C960.3,1744.1 961.7,1740.5 963.1,1737.4C964.4,1734.7 965.4,1731.4 966.5,1728.6C968.8,1729.9 971.2,1731.6 973.5,1732.7C976.4,1734.1 979.8,1735.6 983.0,1736.5C986.8,1737.6 992.2,1736.1 995.2,1738.8C1007.8,1749.8 1018.8,1765.2 1029.8,1777.7C1029.0,1779.6 1028.6,1782.1 1027.4,1783.7C1025.7,1785.9 1023.1,1787.9 1020.7,1789.4C1018.5,1790.9 1015.8,1792.4 1013.2,1793.2C1010.3,1794.1 1006.8,1794.2 1003.7,1794.7C1002.2,1797.5 1000.2,1800.6 999.0,1803.6C998.0,1806.2 997.6,1809.3 997.1,1812.1C996.1,1817.5 995.5,1823.7 994.3,1829.1C993.1,1834.6 991.6,1840.8 989.6,1846.1C987.1,1852.4 982.8,1858.8 980.2,1865.0C976.8,1873.3 973.8,1882.9 970.9,1891.4L999.3,1902.4M808.2,1739.3L816.7,1737.4C819.7,1735.9 823.1,1734.3 826.1,1732.7C828.6,1731.4 831.5,1730.2 833.7,1728.6C836.4,1726.6 838.9,1723.8 841.2,1721.4C846.2,1716.3 851.7,1710.6 856.4,1705.3C861.4,1699.7 866.5,1693.0 871.5,1687.4C878.3,1679.7 886.3,1671.3 893.2,1663.8M1002.7,822.1L1060.6,878.8L1060.6,883.4L1037.9,906.0L1023.5,920.4L1022.8,927.9L962.3,980.1L852.3,859.9M919.9,1151.0C930.6,1151.3 942.6,1151.4 953.2,1151.9C962.9,1152.4 973.7,1153.9 983.4,1154.1C987.3,1154.1 991.8,1153.8 995.5,1152.6C999.4,1151.3 1003.1,1148.4 1006.7,1146.5C1009.0,1151.3 1011.7,1156.7 1013.7,1161.6C1015.6,1166.4 1018.1,1171.7 1019.1,1176.7C1020.0,1181.0 1018.9,1186.1 1019.7,1190.4C1020.8,1195.8 1023.2,1201.7 1024.9,1207.0L959.2,1230.3C960.7,1234.9 962.6,1240.1 963.8,1244.8C964.6,1248.1 965.1,1252.0 965.3,1255.4C965.4,1258.3 964.9,1261.6 964.7,1264.5C962.9,1267.4 961.5,1271.0 959.2,1273.5C956.8,1276.2 953.2,1278.4 950.2,1280.5C945.4,1283.7 939.6,1286.7 935.0,1290.2C933.0,1291.8 930.9,1294.0 929.6,1296.2C928.3,1298.4 927.8,1301.4 926.9,1303.8M893.2,1663.8L955.6,1583.5L988.6,1605.2L997.7,1595.7L1009.4,1609.9C1005.8,1612.3 1001.6,1614.9 998.1,1617.5C994.4,1620.1 990.4,1623.2 986.7,1626.0C989.2,1629.0 991.6,1632.6 994.3,1635.4C996.5,1637.8 999.3,1640.0 1001.9,1642.0C1003.9,1643.7 1006.3,1645.2 1008.5,1646.8C1005.7,1649.5 1003.1,1653.1 1000.0,1655.3C996.1,1658.0 991.1,1660.0 986.7,1661.9C983.6,1663.2 979.9,1664.1 976.7,1665.1L976.3,1677.9C974.2,1678.2 971.7,1678.1 969.7,1678.9C968.5,1679.4 967.5,1680.8 966.5,1681.7C966.5,1683.5 966.0,1685.6 966.5,1687.4C967.1,1689.4 968.1,1691.7 969.7,1693.0C971.8,1694.8 974.7,1695.9 977.3,1696.4C979.8,1697.0 982.8,1696.4 985.4,1696.4C985.5,1700.8 986.1,1705.7 985.8,1710.1C985.6,1712.0 984.7,1714.0 983.9,1715.7C983.3,1717.0 981.9,1718.1 981.4,1719.5C981.1,1720.6 981.4,1722.1 981.4,1723.3L984.8,1727.1C987.3,1727.5 990.0,1728.6 992.4,1728.4C995.0,1728.2 997.4,1726.2 1000.0,1725.7C1001.7,1725.4 1003.8,1725.7 1005.6,1725.7C1006.5,1727.1 1007.8,1728.4 1008.5,1729.9C1009.7,1732.8 1010.2,1736.4 1011.3,1739.3C1012.3,1742.1 1013.6,1745.3 1015.1,1747.8C1016.6,1750.4 1018.8,1753.1 1020.7,1755.4C1023.0,1758.0 1025.6,1760.9 1028.3,1763.0C1031.7,1765.5 1035.8,1767.8 1039.6,1769.6C1043.1,1771.2 1047.3,1772.5 1051.0,1773.3C1054.4,1774.2 1058.7,1773.2 1061.7,1774.9C1065.5,1776.9 1068.2,1781.3 1071.2,1784.4M1088.2,1636.0L1177.9,1658.3L1191.2,1662.1C1192.1,1664.1 1193.4,1666.1 1194.0,1668.2C1194.8,1671.1 1194.9,1674.6 1195.3,1677.6C1195.3,1692.1 1195.3,1708.4 1195.3,1723.0C1195.3,1735.0 1195.3,1748.7 1195.3,1760.7C1196.1,1764.4 1196.6,1768.5 1197.8,1772.1C1199.0,1775.8 1200.6,1780.0 1202.5,1783.4C1205.1,1788.2 1208.7,1793.2 1211.6,1797.8C1214.4,1802.1 1217.4,1807.0 1220.1,1811.4M1085.3,1760.7C1088.4,1755.9 1091.6,1750.4 1094.8,1745.6C1096.5,1743.1 1098.9,1740.7 1100.5,1738.1C1102.5,1734.6 1104.8,1730.6 1106.1,1726.7C1107.4,1723.2 1108.1,1719.1 1108.4,1715.4C1108.7,1710.6 1108.5,1705.1 1108.0,1700.3C1107.5,1694.8 1106.5,1688.6 1105.2,1683.3C1104.1,1678.9 1102.0,1674.3 1100.5,1670.1C1096.5,1659.2 1092.1,1646.9 1088.2,1636.0M1037.9,906.0L1040.0,930.2C1037.4,934.1 1033.6,938.0 1031.8,942.3C1029.5,947.9 1028.4,954.6 1027.3,960.5C1025.2,972.0 1023.6,985.2 1021.9,996.8C1032.0,999.7 1043.2,1004.3 1053.6,1005.9C1058.3,1006.6 1063.6,1004.8 1068.1,1003.7C1072.1,1002.8 1076.2,1000.2 1080.2,999.8C1086.0,999.2 1092.6,1000.4 1098.4,1000.7C1099.1,1013.0 1098.8,1026.9 1100.5,1039.1C1101.2,1044.2 1104.5,1049.3 1105.9,1054.3C1107.0,1058.0 1108.4,1062.4 1108.4,1066.4C1108.4,1070.8 1107.2,1075.7 1105.9,1080.0C1105.0,1083.1 1103.2,1086.3 1101.4,1089.0C1100.3,1090.7 1098.7,1092.6 1096.9,1093.6C1093.0,1095.6 1088.2,1096.7 1084.2,1098.1L1000.1,1119.3C990.4,1084.9 979.0,1046.4 969.8,1011.9C968.3,1006.2 968.2,999.5 966.8,993.8C965.7,989.3 963.7,984.5 962.3,980.1M853.4,1034.6C871.8,1024.9 892.8,1014.6 910.9,1004.3C914.1,1002.5 917.4,999.6 919.9,996.8C922.3,994.2 923.6,990.2 926.0,987.7C928.5,985.1 931.7,982.3 935.0,981.1C939.6,979.3 945.3,978.8 950.2,978.6C954.1,978.5 958.4,979.6 962.3,980.1M1000.1,1119.3C1002.2,1122.2 1005.9,1124.9 1006.7,1128.4C1008.1,1134.0 1006.7,1140.7 1006.7,1146.5M1820.2,1577.2L1814.2,1590.0C1806.3,1587.5 1797.2,1585.4 1789.6,1582.3C1753.5,1567.9 1713.5,1550.5 1677.8,1535.6C1680.9,1534.2 1684.2,1532.2 1687.5,1531.3C1692.2,1530.1 1697.9,1530.7 1702.4,1529.2C1704.9,1528.3 1706.8,1525.7 1708.8,1524.1C1709.6,1519.3 1711.2,1514.0 1711.3,1509.2C1711.9,1488.1 1712.3,1464.3 1710.9,1443.3C1710.8,1440.8 1708.0,1439.0 1706.7,1436.9M1226.1,1538.7C1230.6,1543.3 1235.5,1548.6 1240.3,1552.9C1244.3,1556.5 1249.2,1560.1 1253.5,1563.3C1257.7,1566.4 1262.3,1570.0 1266.7,1572.7C1271.1,1575.5 1276.4,1577.9 1280.9,1580.3L1323.6,1520.4L1351.6,1535.9L1341.2,1565.2L1344.4,1568.6L1350.1,1563.5C1351.0,1563.9 1352.2,1564.1 1352.9,1564.8C1354.4,1566.4 1354.8,1569.4 1356.7,1570.5C1361.1,1573.0 1367.0,1574.0 1371.8,1575.6L1398.3,1542.6C1400.7,1543.6 1403.3,1545.1 1405.8,1546.0C1409.4,1547.1 1413.5,1548.1 1417.1,1548.8C1420.7,1549.4 1424.8,1549.9 1428.5,1550.1C1431.5,1550.2 1434.9,1550.1 1437.9,1549.7C1441.3,1549.3 1445.0,1548.4 1448.3,1547.8L1439.8,1594.5M1316.8,1635.1L1295.5,1614.3L1308.3,1598.3L1299.2,1591.3C1297.3,1593.2 1295.2,1595.4 1293.2,1597.3C1290.2,1600.1 1287.0,1603.4 1283.7,1605.8C1280.3,1608.3 1276.3,1610.9 1272.4,1612.4C1268.4,1614.0 1263.4,1614.6 1259.2,1615.6C1256.2,1612.5 1252.5,1609.2 1249.7,1605.8C1246.4,1601.8 1243.1,1597.0 1240.3,1592.6C1237.6,1588.5 1234.8,1583.8 1232.7,1579.4C1231.2,1576.0 1230.2,1571.9 1228.9,1568.4C1228.3,1562.8 1227.6,1556.6 1227.1,1551.0C1226.7,1547.1 1226.4,1542.7 1226.1,1538.7M684.7,1516.0C679.3,1521.5 673.0,1527.5 667.7,1533.0C664.6,1536.3 660.9,1539.9 658.3,1543.7C656.4,1546.5 655.5,1550.3 654.1,1553.5L657.1,1560.7L669.8,1565.8C674.6,1566.9 680.2,1567.3 684.7,1569.2C689.2,1571.1 693.8,1574.4 697.5,1577.7C700.7,1580.6 703.5,1584.7 706.0,1588.3C708.2,1591.6 710.5,1595.4 712.3,1598.9C714.4,1602.9 716.1,1607.6 717.9,1611.7M1484.2,1476.4C1502.7,1470.3 1523.2,1462.6 1541.9,1457.1C1545.9,1456.0 1550.9,1456.4 1555.1,1455.8C1559.3,1455.2 1564.1,1454.4 1568.3,1453.4C1573.2,1452.1 1578.7,1450.5 1583.4,1448.6C1588.1,1446.8 1593.1,1443.9 1597.6,1441.7C1601.5,1446.6 1606.2,1452.0 1609.9,1457.1C1613.7,1462.4 1617.7,1468.6 1621.2,1474.2C1623.8,1478.3 1626.3,1483.1 1628.8,1487.4C1630.0,1489.5 1631.3,1491.9 1632.5,1494.0C1624.4,1501.9 1614.4,1510.0 1607.0,1518.6C1605.2,1520.7 1605.5,1524.5 1604.2,1527.1C1602.8,1529.7 1600.5,1532.3 1598.5,1534.6C1596.3,1537.2 1593.6,1540.0 1591.0,1542.2C1587.5,1545.1 1583.5,1548.2 1579.6,1550.7C1574.7,1553.8 1568.4,1556.2 1563.6,1559.6C1561.0,1561.4 1559.0,1564.3 1557.0,1566.7C1555.0,1569.1 1552.8,1571.7 1551.3,1574.3C1549.4,1577.6 1548.1,1581.6 1546.6,1585.1C1545.1,1582.2 1543.8,1578.8 1541.9,1576.2C1539.2,1572.6 1535.7,1568.8 1532.4,1565.8C1529.0,1562.7 1524.9,1559.7 1521.1,1557.3C1517.0,1554.8 1512.3,1552.4 1507.8,1550.7C1504.4,1549.3 1500.2,1548.6 1496.5,1547.8C1495.2,1547.6 1493.7,1547.5 1492.3,1547.3C1492.3,1537.8 1493.6,1527.0 1492.3,1517.6C1491.9,1513.9 1488.6,1510.6 1487.1,1507.2C1486.6,1506.4 1486.2,1505.3 1486.1,1504.4C1485.3,1495.5 1484.8,1485.4 1484.2,1476.4M1028.3,1585.3C1029.5,1587.2 1030.5,1589.5 1032.1,1591.0C1034.2,1593.2 1037.1,1595.0 1039.6,1596.7C1042.6,1598.6 1046.2,1600.3 1049.1,1602.4C1051.7,1604.2 1054.4,1606.7 1056.6,1609.0C1058.6,1610.9 1060.7,1613.3 1062.3,1615.6C1063.6,1617.3 1064.6,1619.4 1065.7,1621.2C1065.4,1623.1 1065.2,1625.2 1064.6,1626.9C1063.8,1628.9 1061.9,1630.6 1061.4,1632.6C1060.6,1635.5 1060.9,1639.0 1060.4,1642.0C1060.0,1645.1 1059.5,1648.5 1058.5,1651.5C1057.6,1654.3 1056.5,1657.5 1054.8,1660.0C1053.7,1661.6 1051.5,1662.6 1050.0,1663.8C1049.9,1668.9 1050.0,1674.7 1049.5,1679.8C1049.1,1682.9 1048.2,1686.3 1047.2,1689.3C1046.3,1691.8 1044.8,1694.5 1043.4,1696.8C1042.0,1699.2 1039.4,1701.4 1038.7,1704.0C1037.9,1707.0 1038.5,1710.7 1038.7,1713.8C1038.8,1716.3 1039.5,1719.0 1039.6,1721.4C1040.0,1728.3 1040.0,1736.2 1040.2,1743.1L1045.3,1742.2C1047.1,1743.4 1049.4,1744.5 1051.0,1746.0C1052.9,1747.8 1054.6,1750.4 1056.3,1752.6L1057.6,1737.4C1059.1,1738.1 1060.7,1739.1 1062.3,1739.3C1066.1,1739.9 1070.4,1739.7 1074.2,1739.9C1074.0,1741.5 1073.4,1743.4 1073.7,1745.0C1074.1,1747.5 1075.1,1750.4 1076.5,1752.6C1077.6,1754.4 1079.6,1755.8 1081.2,1757.3C1082.5,1758.5 1084.0,1759.6 1085.3,1760.7M1009.4,1609.9C1011.8,1607.8 1014.8,1605.6 1017.0,1603.3C1019.3,1600.8 1021.7,1597.7 1023.6,1594.8C1025.4,1591.9 1026.8,1588.4 1028.3,1585.3M950.1,1363.1C987.0,1352.4 1028.4,1340.0 1065.4,1329.5C1086.2,1323.6 1109.8,1317.5 1130.7,1311.8C1130.4,1313.6 1130.3,1315.7 1129.7,1317.5C1129.0,1320.0 1128.3,1322.8 1126.9,1325.0C1124.9,1328.3 1122.2,1331.9 1119.4,1334.5C1115.5,1338.0 1110.4,1341.0 1106.1,1343.9C1102.0,1346.7 1096.9,1349.4 1092.9,1352.4C1089.7,1354.9 1086.0,1357.8 1083.5,1360.9C1081.7,1363.0 1080.5,1365.9 1079.7,1368.5C1078.8,1371.4 1078.4,1374.9 1078.4,1377.9C1078.4,1381.0 1078.9,1384.4 1079.7,1387.4C1080.1,1389.0 1081.2,1390.6 1081.9,1392.1L1077.8,1396.4C1076.0,1396.7 1074.0,1397.2 1072.1,1397.2C1069.6,1397.2 1066.7,1396.6 1064.2,1396.3L1063.2,1381.3L970.4,1414.2C969.4,1412.3 968.7,1410.1 967.5,1408.5C966.3,1406.8 964.3,1405.3 962.8,1403.8C960.4,1403.8 957.6,1403.2 955.2,1403.8C950.8,1404.9 946.2,1407.4 942.0,1409.1L907.1,1416.4C906.8,1415.1 906.3,1413.6 906.1,1412.3C905.7,1408.6 905.8,1404.5 905.2,1400.9C904.6,1397.8 903.4,1394.5 902.3,1391.5C901.0,1387.7 899.1,1383.5 897.6,1379.8M748.7,1415.1L752.5,1412.3M830.5,1399.4L835.3,1426.4C835.9,1428.5 836.2,1431.1 837.1,1433.0C838.6,1436.2 841.3,1439.3 842.8,1442.5C845.6,1448.4 848.3,1455.2 850.4,1461.4C853.2,1469.7 855.8,1479.3 857.9,1487.8C859.7,1495.0 861.4,1503.2 862.7,1510.5C863.8,1516.8 864.6,1524.0 865.5,1530.4L857.0,1531.9L843.8,1515.6L822.6,1522.4L813.9,1489.4L748.7,1517.1L748.7,1415.1M863.9,1603.3L882.8,1587.2L893.2,1663.8M816.7,1737.4L805.3,1739.3M1597.6,1441.7C1598.8,1440.6 1600.4,1439.6 1601.4,1438.3C1602.3,1436.9 1602.7,1435.0 1603.3,1433.5M1677.8,1535.6L1642.9,1521.9C1641.1,1516.9 1639.1,1511.3 1637.3,1506.3C1635.8,1502.3 1634.1,1497.9 1632.5,1494.0M1484.2,1476.4L1481.8,1457.1L1449.8,1464.7L1449.3,1455.3C1448.1,1454.4 1446.9,1453.0 1445.5,1452.4C1443.8,1451.7 1441.7,1451.6 1439.8,1451.5C1436.8,1451.2 1433.4,1451.2 1430.4,1451.1L1430.4,1442.0C1433.4,1441.1 1436.9,1440.3 1439.8,1439.2C1442.3,1438.2 1445.2,1437.1 1447.4,1435.4C1448.8,1434.3 1449.7,1432.2 1450.8,1430.7C1450.3,1429.5 1450.1,1427.9 1449.3,1426.9C1448.3,1425.9 1446.8,1425.1 1445.5,1424.6C1444.3,1424.2 1442.9,1424.3 1441.7,1424.1L1441.3,1409.3M1047.0,1273.5C1052.8,1271.1 1059.7,1269.2 1065.1,1266.0C1070.4,1262.8 1075.9,1258.3 1080.2,1253.9C1084.4,1249.5 1087.8,1243.6 1091.4,1238.8M1168.5,1294.8L1166.6,1296.7L1130.7,1311.8L1065.1,1329.4L1047.0,1273.5M1281.5,1866.8C1284.6,1868.3 1287.8,1870.3 1291.0,1871.5C1293.3,1872.4 1296.1,1873.1 1298.5,1873.4C1300.7,1873.6 1303.1,1873.5 1305.1,1872.8C1306.9,1872.2 1308.6,1870.9 1309.9,1869.6C1311.1,1868.3 1312.0,1866.5 1312.7,1864.9C1313.6,1862.8 1313.5,1860.2 1314.6,1858.3C1315.7,1856.4 1317.9,1855.1 1319.3,1853.5C1320.3,1852.4 1321.7,1851.2 1322.2,1849.7C1322.7,1848.0 1323.0,1845.8 1322.5,1844.1C1322.0,1842.1 1320.8,1839.9 1319.3,1838.4C1317.5,1836.5 1314.6,1835.5 1312.7,1833.7C1311.7,1832.7 1311.0,1831.1 1310.3,1829.9L1311.4,1817.6C1312.7,1817.0 1314.3,1816.5 1315.5,1815.7C1317.4,1814.6 1319.5,1813.3 1321.2,1812.0C1322.6,1810.9 1324.0,1809.4 1325.4,1808.2L1324.0,1805.7L1312.7,1805.3C1312.1,1804.3 1311.6,1802.9 1310.8,1801.9C1310.1,1801.0 1308.9,1800.1 1308.0,1799.3L1329.1,1791.2M1281.5,1887.5L1281.5,1866.8M1069.9,1495.1C1073.6,1493.9 1077.8,1492.4 1081.6,1491.3C1086.4,1489.9 1091.8,1488.6 1096.7,1487.5C1102.7,1486.2 1109.5,1484.8 1115.6,1483.7C1121.6,1482.7 1128.4,1481.5 1134.5,1480.9C1141.7,1480.2 1149.9,1480.0 1157.1,1479.6C1161.4,1482.7 1166.4,1485.9 1170.4,1489.4C1173.7,1492.4 1177.0,1496.3 1179.8,1499.8C1182.1,1502.7 1184.3,1506.2 1186.4,1509.2L1185.5,1514.2C1184.3,1515.6 1183.3,1517.5 1181.7,1518.5C1178.9,1520.3 1175.3,1521.4 1172.3,1522.7C1169.3,1523.9 1165.7,1524.6 1162.8,1526.1C1160.2,1527.4 1157.4,1529.2 1155.3,1531.2C1153.7,1532.7 1152.1,1534.8 1151.5,1536.8C1150.8,1539.2 1151.2,1542.0 1151.1,1544.4C1148.2,1545.6 1144.7,1546.5 1142.0,1548.2C1138.7,1550.2 1135.5,1553.1 1132.6,1555.7C1129.4,1558.6 1126.2,1562.2 1123.1,1565.2C1121.1,1567.2 1118.6,1569.3 1116.5,1571.2C1115.0,1569.6 1113.5,1567.6 1111.8,1566.1C1109.5,1564.1 1106.9,1561.8 1104.2,1560.5C1101.4,1559.1 1097.7,1558.8 1094.8,1557.6C1092.3,1556.6 1089.7,1555.0 1087.2,1553.8C1085.4,1553.0 1083.5,1551.8 1081.6,1551.4C1079.5,1550.9 1077.1,1550.7 1075.0,1551.0C1073.0,1551.3 1070.9,1552.2 1069.3,1553.3C1067.8,1554.3 1066.4,1556.0 1065.5,1557.6C1064.5,1559.6 1064.2,1562.1 1063.6,1564.2C1063.1,1566.2 1062.7,1568.4 1062.3,1570.3C1061.6,1569.6 1060.7,1568.8 1060.0,1568.0C1057.5,1564.8 1054.9,1561.0 1052.5,1557.8C1048.9,1554.1 1045.1,1549.8 1041.2,1546.4C1036.6,1542.5 1030.9,1538.7 1026.1,1535.1L1033.7,1529.8C1036.7,1527.6 1040.4,1525.4 1043.1,1522.8C1045.0,1521.0 1046.5,1518.4 1047.8,1516.2C1049.2,1513.9 1050.1,1510.9 1051.6,1508.6C1053.4,1506.0 1055.6,1503.0 1058.2,1501.1C1061.6,1498.6 1066.1,1497.0 1069.9,1495.1M964.7,1264.5C968.3,1266.4 972.5,1268.2 975.9,1270.5C979.5,1273.1 983.5,1276.3 986.5,1279.6C988.6,1281.9 990.0,1285.3 991.6,1288.1C993.8,1286.3 996.0,1283.7 998.6,1282.6C1003.2,1280.7 1008.8,1279.5 1013.7,1278.7C1019.4,1277.7 1026.1,1278.1 1031.8,1277.2C1036.8,1276.4 1042.1,1274.7 1047.0,1273.5M1065.1,1329.4L950.1,1363.1M987.0,1520.0L987.4,1534.1C991.3,1535.0 995.8,1535.7 999.6,1537.0C1003.4,1538.2 1007.6,1539.7 1011.0,1541.7C1014.3,1543.7 1017.6,1546.6 1020.4,1549.2C1023.1,1551.7 1025.7,1554.9 1028.0,1557.8C1030.0,1560.3 1031.8,1563.5 1033.7,1566.3C1032.8,1569.3 1032.0,1572.8 1031.1,1575.9C1030.3,1578.9 1029.2,1582.3 1028.3,1585.3M882.8,1587.2L883.4,1587.0M1329.1,1788.5C1327.3,1785.1 1325.0,1781.3 1323.4,1777.8C1320.2,1770.6 1316.9,1762.4 1314.0,1755.1C1310.8,1747.3 1307.5,1738.4 1304.5,1730.5C1301.5,1722.7 1297.9,1713.9 1295.1,1706.0C1294.0,1703.0 1293.2,1699.5 1292.2,1696.5C1291.8,1691.7 1291.2,1686.2 1290.9,1681.4C1290.7,1677.8 1290.7,1673.7 1290.9,1670.1C1291.1,1667.0 1291.9,1663.6 1292.2,1660.6C1292.6,1657.3 1292.9,1653.5 1293.2,1650.2C1292.0,1648.7 1290.8,1646.8 1289.4,1645.5C1286.9,1643.2 1283.4,1641.3 1280.9,1638.9C1273.7,1631.7 1266.1,1623.1 1259.2,1615.6M1033.7,1566.3L1039.3,1561.0C1042.3,1563.3 1045.5,1566.1 1048.8,1568.1C1050.4,1569.2 1052.6,1569.7 1054.4,1570.4L1060.1,1568.1L1062.3,1570.3C1065.1,1578.0 1068.2,1586.8 1071.2,1594.5C1076.4,1607.8 1082.7,1622.7 1088.2,1636.0M1195.3,1722.6C1201.8,1723.0 1209.3,1722.9 1215.7,1723.9C1220.1,1724.6 1224.8,1726.1 1228.9,1727.7C1232.7,1729.1 1236.9,1731.2 1240.3,1733.3C1242.9,1735.0 1245.4,1737.6 1247.8,1739.6L1252.6,1738.1L1254.5,1734.3C1253.2,1732.8 1251.8,1731.2 1250.7,1729.6C1249.7,1728.1 1248.7,1726.4 1247.8,1724.8L1248.8,1717.3C1250.3,1717.2 1252.0,1716.6 1253.5,1716.9C1255.4,1717.3 1257.6,1718.1 1259.2,1719.2C1261.0,1720.4 1263.0,1722.0 1263.9,1723.9C1265.5,1727.3 1265.8,1731.6 1266.7,1735.2C1268.5,1734.5 1270.5,1733.3 1272.4,1732.8C1274.2,1732.3 1276.3,1732.5 1278.1,1732.4L1282.4,1737.1L1281.9,1740.9C1279.4,1743.0 1276.8,1745.6 1274.3,1747.5C1271.5,1749.7 1268.1,1751.8 1265.2,1753.8C1267.5,1755.7 1270.3,1757.7 1272.4,1759.8C1275.0,1762.4 1277.8,1765.3 1280.0,1768.3C1282.4,1771.7 1284.8,1775.8 1286.6,1779.6C1288.2,1783.1 1289.5,1787.2 1290.4,1791.0C1290.9,1793.6 1290.7,1796.8 1290.9,1799.5L1291.0,1801.9C1289.8,1803.0 1288.3,1804.2 1287.2,1805.3C1285.9,1806.8 1284.8,1808.8 1283.4,1810.1C1281.2,1812.1 1278.5,1814.2 1275.9,1815.7C1272.4,1817.8 1268.3,1819.9 1264.5,1821.4C1259.8,1823.3 1254.3,1824.8 1249.4,1826.1C1244.0,1827.7 1237.8,1829.1 1232.4,1830.5M1195.3,1760.7L1195.3,1722.6M857.0,1531.9L839.9,1538.6M669.8,1565.8C671.9,1564.1 673.7,1561.5 676.2,1560.7C680.8,1559.1 686.3,1558.2 691.1,1558.6C695.4,1558.9 699.7,1561.4 703.8,1562.8L708.1,1570.0L720.8,1559.4L748.5,1563.7L748.7,1517.1M1332.5,1419.7C1334.4,1422.0 1337.0,1424.3 1338.4,1426.9C1339.1,1428.3 1339.2,1430.2 1338.7,1431.6C1337.9,1434.0 1335.5,1435.9 1334.6,1438.3C1334.0,1439.7 1334.4,1441.5 1334.4,1443.0C1335.5,1444.2 1336.4,1446.0 1337.8,1446.8C1340.6,1448.3 1344.2,1449.1 1347.2,1450.0C1351.4,1451.2 1356.3,1451.9 1360.5,1453.4C1363.6,1454.5 1367.0,1456.3 1369.9,1458.1C1372.5,1459.7 1375.4,1461.6 1377.5,1463.8C1379.2,1465.6 1380.7,1468.0 1381.6,1470.4C1382.4,1472.4 1382.3,1474.9 1382.6,1477.0L1380.3,1480.8C1378.5,1481.4 1376.0,1481.4 1374.6,1482.7C1372.2,1484.9 1370.4,1488.2 1369.0,1491.2C1367.5,1494.0 1366.3,1497.5 1365.8,1500.6C1365.2,1503.6 1365.4,1507.1 1365.8,1510.1C1366.1,1513.1 1366.8,1516.6 1368.0,1519.5C1369.1,1522.1 1370.8,1525.0 1372.7,1527.1C1375.1,1529.6 1378.3,1531.9 1381.2,1533.7C1384.7,1535.8 1389.0,1537.5 1392.6,1539.3L1398.3,1542.6M1323.6,1520.4L1313.0,1513.4C1310.3,1514.4 1307.3,1515.7 1304.5,1516.4C1303.4,1516.8 1301.9,1517.2 1300.7,1516.8C1298.1,1515.8 1295.4,1513.8 1293.2,1512.1C1291.2,1510.5 1289.3,1508.2 1287.5,1506.4L1287.5,1480.3C1289.0,1479.3 1290.4,1477.4 1292.2,1477.1C1303.2,1475.7 1315.6,1475.8 1326.6,1475.2L1325.5,1415.2M1449.8,1464.7L1449.8,1485.5L1392.6,1485.5L1392.6,1539.3M1492.3,1547.3C1490.7,1547.2 1488.8,1546.9 1487.1,1546.9C1477.4,1546.8 1466.5,1546.7 1456.8,1546.9C1454.1,1547.0 1451.0,1547.5 1448.3,1547.8M1084.2,1098.1L1096.9,1123.8M1102.9,1144.4L1071.8,1151.9L1082.3,1185.8L1024.9,1207.0M1177.9,1658.3L1147.7,1583.1C1144.7,1584.0 1141.4,1585.4 1138.3,1586.0C1135.9,1586.4 1133.1,1586.6 1130.7,1586.3C1128.2,1586.0 1125.4,1585.1 1123.1,1584.1C1121.2,1583.2 1118.9,1581.9 1117.5,1580.3C1116.4,1579.1 1115.7,1577.2 1115.6,1575.6C1115.4,1574.2 1116.2,1572.6 1116.5,1571.2M1304.5,1416.7L1306.8,1413.3C1308.5,1413.6 1310.4,1414.0 1312.1,1414.2C1316.3,1414.7 1321.1,1415.0 1325.3,1415.3L1326.6,1475.2M1287.5,1506.4C1280.9,1505.5 1273.1,1505.6 1266.7,1503.6C1263.5,1502.6 1261.0,1499.3 1258.2,1497.3C1257.0,1499.6 1256.1,1502.5 1254.5,1504.5C1252.7,1506.7 1250.2,1508.8 1247.8,1510.2C1245.6,1511.5 1242.8,1512.4 1240.3,1513.0C1237.6,1513.7 1234.5,1513.9 1231.8,1514.4C1231.5,1511.2 1231.4,1507.6 1230.8,1504.5C1230.1,1500.4 1228.7,1495.8 1227.6,1491.7L1248.2,1488.5L1248.2,1423.7M942.0,1409.1L951.5,1425.1L941.1,1425.5C939.9,1426.7 937.9,1427.7 937.3,1429.3C936.4,1431.5 936.2,1434.4 936.3,1436.8C936.5,1439.3 937.5,1442.0 938.2,1444.4C939.1,1447.0 940.4,1449.8 941.4,1452.3L907.1,1460.4C905.2,1460.9 903.1,1461.2 901.4,1462.0C898.5,1463.3 895.9,1466.2 892.9,1467.1C889.7,1467.9 885.8,1467.4 882.5,1467.1C879.1,1466.8 875.4,1465.8 872.1,1465.2C871.2,1463.1 870.0,1460.7 869.3,1458.6C868.4,1455.9 867.5,1452.8 867.0,1450.1C866.6,1447.7 866.2,1444.9 866.4,1442.5C866.6,1440.6 868.1,1438.7 868.3,1436.8C868.6,1434.4 868.5,1431.6 867.9,1429.3C867.6,1427.6 866.3,1426.1 865.5,1424.5C861.3,1424.8 856.5,1425.2 852.3,1425.5C846.8,1425.8 840.7,1426.1 835.3,1426.4M1178.5,1572.4L1211.0,1557.1C1212.8,1559.4 1214.8,1562.0 1216.7,1564.2C1218.1,1566.0 1219.9,1567.8 1221.4,1569.5L1228.9,1568.4M1292.2,1696.5C1289.5,1694.1 1286.7,1691.1 1283.7,1688.9C1280.9,1686.9 1277.5,1684.8 1274.3,1683.3C1271.7,1682.1 1268.5,1681.4 1265.8,1680.4L1266.2,1671.6C1248.2,1653.5 1228.0,1633.3 1210.1,1615.3C1205.2,1610.4 1200.0,1604.7 1194.9,1600.1C1191.6,1597.1 1187.2,1594.4 1183.6,1591.6L1178.5,1572.4M748.5,1505.4L748.5,1563.7M1047.0,1273.5L1024.9,1207.0M907.1,1460.4L935.4,1513.3M1166.6,1296.7L1171.7,1293.5M1222.9,1421.4L1223.7,1428.9L1214.8,1429.9C1213.9,1427.7 1213.5,1424.8 1211.9,1422.9C1210.6,1421.3 1207.8,1421.0 1206.3,1419.5C1204.1,1417.4 1202.4,1414.4 1200.6,1411.9C1198.8,1409.5 1197.1,1406.5 1194.9,1404.4C1192.2,1401.6 1188.7,1399.0 1185.5,1396.8C1181.4,1394.1 1176.7,1391.3 1172.3,1389.3C1167.6,1387.1 1162.2,1384.8 1157.1,1383.6C1151.8,1382.3 1145.6,1381.9 1140.1,1381.7C1135.3,1381.6 1129.8,1382.0 1125.0,1382.7C1120.7,1383.2 1116.0,1384.4 1111.8,1385.5C1106.9,1386.8 1101.6,1389.1 1096.7,1390.2C1092.0,1391.2 1086.7,1391.5 1081.9,1392.1M1147.7,1583.1C1151.9,1583.4 1156.7,1583.4 1160.9,1584.1C1164.6,1584.6 1168.7,1585.7 1172.3,1586.9C1176.0,1588.2 1180.0,1590.1 1183.6,1591.6M1265.8,1680.4L1191.2,1662.1M1186.4,1511.3L1226.1,1538.7M1185.5,1514.2L1186.4,1511.3M1064.2,1396.3C1062.3,1399.0 1060.0,1401.9 1058.2,1404.7C1055.1,1409.5 1051.7,1414.9 1048.8,1419.8C1045.9,1424.7 1043.0,1430.4 1040.3,1435.3L1005.3,1451.0C1005.7,1456.7 1006.6,1463.2 1006.6,1468.9C1006.6,1472.6 1006.0,1476.7 1005.3,1480.3C1004.6,1484.0 1003.7,1488.1 1002.5,1491.6C1001.2,1495.3 999.3,1499.3 997.8,1503.0L987.4,1468.9L982.6,1470.8L970.4,1414.2M1226.1,1538.7L1230.5,1527.2L1231.8,1514.4M1214.8,1429.9L1206.3,1430.8C1204.5,1428.1 1202.7,1424.8 1200.6,1422.3C1199.0,1420.5 1197.0,1418.5 1194.9,1417.2C1193.6,1416.4 1191.8,1416.0 1190.2,1416.1C1188.6,1416.2 1186.8,1416.7 1185.5,1417.6C1183.7,1418.8 1182.2,1420.8 1180.8,1422.3C1179.6,1423.6 1178.5,1425.2 1177.4,1426.5C1175.7,1425.8 1173.8,1425.1 1172.3,1424.2C1169.2,1422.5 1166.0,1420.1 1162.8,1418.6C1159.9,1417.1 1156.5,1415.7 1153.4,1414.8C1150.7,1414.0 1147.6,1413.7 1144.9,1413.3C1145.7,1414.7 1146.7,1416.1 1147.3,1417.6C1148.1,1419.4 1148.8,1421.4 1149.2,1423.3C1149.7,1425.7 1150.1,1428.4 1150.0,1430.8C1149.9,1433.0 1149.4,1435.4 1148.6,1437.4C1148.1,1439.0 1146.7,1440.3 1145.8,1441.6L1119.4,1442.6C1119.2,1440.9 1119.5,1439.0 1119.0,1437.4C1118.3,1435.5 1117.0,1433.3 1115.6,1431.8C1113.5,1429.6 1110.7,1427.5 1108.0,1426.1C1104.9,1424.5 1101.0,1423.5 1097.6,1422.3C1097.3,1420.2 1097.1,1417.8 1096.7,1415.7C1096.1,1412.7 1095.9,1409.1 1094.8,1406.3C1093.8,1403.6 1092.0,1400.8 1090.1,1398.7C1087.8,1396.2 1084.5,1394.2 1081.9,1392.1M1291.0,1801.9C1292.8,1801.2 1294.7,1800.0 1296.6,1799.7C1300.2,1799.1 1304.4,1799.4 1308.0,1799.3M1281.5,1866.8L1281.5,1870.5M1329.1,1788.5L1329.5,1791.4C1322.7,1793.8 1315.4,1797.6 1308.3,1799.1C1302.9,1800.3 1296.5,1799.4 1290.9,1799.5M1248.8,1717.3L1245.0,1713.5L1244.6,1708.8L1247.8,1705.6C1250.3,1705.4 1253.1,1705.6 1255.4,1705.0C1257.4,1704.5 1259.6,1703.5 1261.1,1702.2C1262.7,1700.7 1264.0,1698.5 1264.8,1696.5C1265.8,1694.2 1266.2,1691.4 1266.4,1688.9C1266.5,1686.2 1266.0,1683.2 1265.8,1680.4M1048.5,1460.1L1055.1,1455.4C1058.1,1455.7 1061.5,1456.6 1064.6,1456.3C1068.9,1456.0 1073.6,1454.8 1077.8,1453.5C1082.7,1452.0 1088.0,1449.4 1092.9,1447.8C1097.1,1446.5 1101.8,1445.3 1106.1,1444.4C1110.3,1443.6 1115.1,1443.2 1119.4,1442.6M1145.8,1441.6C1149.4,1444.2 1153.7,1446.9 1157.1,1449.7C1159.8,1451.9 1162.5,1454.7 1164.7,1457.3C1166.1,1458.9 1167.3,1461.1 1168.5,1463.0L1170.0,1464.8C1169.5,1467.0 1169.6,1469.6 1168.5,1471.5C1167.2,1473.7 1164.9,1475.6 1162.8,1477.1C1161.2,1478.3 1159.0,1478.8 1157.1,1479.6M1069.9,1495.1C1069.4,1493.3 1069.0,1491.2 1068.3,1489.4C1067.3,1486.9 1066.1,1484.1 1064.6,1481.9C1063.0,1479.5 1060.7,1477.4 1058.9,1475.2C1057.1,1473.1 1055.0,1470.8 1053.2,1468.6C1052.0,1467.1 1050.4,1465.6 1049.4,1463.9C1048.8,1462.8 1048.8,1461.3 1048.5,1460.1M822.5,1256.3C825.6,1259.4 828.9,1263.1 832.2,1266.0C835.4,1268.9 839.2,1272.1 842.8,1274.4C845.5,1276.2 848.7,1278.0 851.9,1278.7C854.7,1279.2 858.0,1278.3 860.9,1278.1C863.4,1275.7 866.5,1273.3 868.5,1270.5C870.7,1267.4 872.4,1263.4 874.0,1259.9C875.0,1257.6 875.6,1254.8 876.4,1252.4C879.7,1255.3 883.8,1258.1 886.7,1261.4C890.1,1265.4 893.4,1270.4 895.7,1275.0C898.0,1279.6 900.0,1285.2 901.2,1290.2C902.3,1294.9 902.8,1300.4 902.7,1305.3C902.5,1310.2 901.0,1315.6 900.3,1320.4L891.2,1322.5C888.8,1320.4 885.4,1318.6 883.6,1315.9C881.6,1312.9 881.0,1308.7 879.7,1305.3C876.1,1307.2 872.2,1309.7 868.5,1311.3C864.7,1313.1 860.5,1315.0 856.4,1315.9C852.6,1316.7 848.2,1316.9 844.3,1316.5C841.8,1316.2 839.2,1314.6 836.7,1313.8L836.1,1294.7C832.9,1295.4 829.4,1296.4 826.2,1296.8C822.3,1297.4 817.9,1298.3 814.1,1297.7C810.8,1297.3 807.1,1295.7 804.4,1293.8C802.1,1292.2 800.7,1289.3 798.9,1287.1C799.6,1283.8 799.7,1279.7 801.1,1276.6C802.7,1272.8 805.3,1269.0 808.0,1266.0C810.1,1263.6 813.0,1261.6 815.6,1259.9C817.7,1258.5 820.3,1257.5 822.5,1256.3M1040.3,1435.3C1041.2,1438.2 1041.6,1441.7 1043.1,1444.4C1044.4,1446.8 1046.7,1449.1 1048.8,1451.0C1050.6,1452.7 1053.1,1454.0 1055.1,1455.4M1033.7,1529.8L1005.3,1504.5L999.6,1506.7L997.8,1503.0M982.6,1470.8L970.4,1475.6M1227.6,1491.7C1226.5,1489.1 1225.4,1486.2 1224.2,1483.7C1222.5,1480.3 1220.4,1476.7 1218.6,1473.3C1215.8,1477.9 1213.2,1483.3 1210.1,1487.5C1206.8,1491.8 1202.7,1496.2 1198.7,1499.8C1195.1,1503.2 1190.4,1506.2 1186.4,1509.2M1168.5,1463.0C1169.7,1463.3 1171.0,1463.6 1172.3,1463.9C1174.7,1464.4 1177.4,1465.3 1179.8,1465.4C1182.8,1465.6 1186.4,1465.7 1189.3,1464.8C1192.5,1463.9 1196.1,1462.3 1198.7,1460.1C1201.4,1457.9 1203.7,1454.6 1205.3,1451.6C1206.7,1449.1 1207.3,1445.8 1208.2,1443.1C1210.6,1441.9 1213.5,1440.9 1215.7,1439.3C1217.5,1438.1 1219.2,1436.4 1220.4,1434.6C1221.6,1433.0 1222.1,1430.8 1222.9,1428.9M1195.3,1722.6L1195.3,1677.6M1206.3,1430.8L1222.9,1428.9M1052.5,1557.8L1060.1,1568.1M1230.5,1527.2L1226.1,1538.5L1186.4,1511.1L1186.4,1509.2M1300.4,1234.9L1302.3,1240.5L1301.7,1240.0C1303.8,1243.0 1306.6,1246.2 1308.3,1249.4C1309.5,1251.7 1310.6,1254.5 1310.8,1257.0C1310.9,1259.2 1310.2,1261.7 1309.2,1263.6C1308.2,1265.7 1306.5,1267.9 1304.5,1269.3C1301.2,1271.6 1296.8,1273.1 1293.2,1275.0C1289.6,1276.8 1285.1,1278.2 1281.9,1280.6C1277.7,1283.7 1274.1,1288.3 1270.5,1292.0C1264.4,1298.3 1257.7,1305.5 1251.6,1311.8C1242.0,1321.9 1231.1,1333.3 1221.4,1343.4L1232.3,1364.3L1214.2,1375.1L1218.6,1384.0L1208.2,1392.1"/>
<path class="g" d="M707.5,999.5L706.5,998.5L701.5,998.5L699.5,1000.5L699.5,1008.5L701.5,1010.5L705.5,1010.5L707.5,1008.5L707.5,1005.5L705.5,1003.5L701.5,1003.5M716.5,998.5L720.5,998.5L722.5,1000.5L722.5,1008.5L720.5,1010.5L716.5,1010.5L714.5,1008.5L714.5,1000.5L716.5,998.5M730.5,1000.5L732.5,998.5L732.5,1010.5M730.5,1010.5L734.5,1010.5M944.5,866.5L943.5,865.5L938.5,865.5L936.5,867.5L936.5,875.5L938.5,877.5L942.5,877.5L944.5,875.5L944.5,872.5L942.5,870.5L938.5,870.5M952.5,865.5L956.5,865.5L958.5,867.5L958.5,875.5L956.5,877.5L952.5,877.5L950.5,875.5L950.5,867.5L952.5,865.5M965.5,868.5L965.5,867.5L967.5,865.5L971.5,865.5L973.5,867.5L973.5,869.5L966.5,876.5L965.5,877.5L973.5,877.5M855.5,953.5L854.5,952.5L849.5,952.5L847.5,954.5L847.5,962.5L849.5,964.5L853.5,964.5L855.5,962.5L855.5,959.5L853.5,957.5L849.5,957.5M864.5,952.5L868.5,952.5L870.5,954.5L870.5,962.5L868.5,964.5L864.5,964.5L862.5,962.5L862.5,954.5L864.5,952.5M876.5,952.5L884.5,952.5L880.5,956.5L882.5,956.5L884.5,958.5L884.5,962.5L882.5,964.5L878.5,964.5L876.5,962.5M922.5,1050.5L921.5,1049.5L916.5,1049.5L914.5,1051.5L914.5,1059.5L916.5,1061.5L920.5,1061.5L922.5,1059.5L922.5,1056.5L920.5,1054.5L916.5,1054.5M930.5,1049.5L934.5,1049.5L936.5,1051.5L936.5,1059.5L934.5,1061.5L930.5,1061.5L928.5,1059.5L928.5,1051.5L930.5,1049.5M947.5,1049.5L943.5,1057.5L951.5,1057.5M947.5,1055.5L947.5,1061.5M1176.5,833.5L1175.5,832.5L1170.5,832.5L1168.5,834.5L1168.5,842.5L1170.5,844.5L1174.5,844.5L1176.5,842.5L1176.5,839.5L1174.5,837.5L1170.5,837.5M1184.5,832.5L1188.5,832.5L1190.5,834.5L1190.5,842.5L1188.5,844.5L1184.5,844.5L1182.5,842.5L1182.5,834.5L1184.5,832.5M1205.5,832.5L1197.5,832.5L1197.5,837.5L1203.5,837.5L1205.5,839.5L1205.5,842.5L1203.5,844.5L1199.5,844.5L1197.5,842.5M1023.5,1044.5L1022.5,1043.5L1017.5,1043.5L1015.5,1045.5L1015.5,1053.5L1017.5,1055.5L1021.5,1055.5L1023.5,1053.5L1023.5,1050.5L1021.5,1048.5L1017.5,1048.5M1032.5,1043.5L1036.5,1043.5L1038.5,1045.5L1038.5,1053.5L1036.5,1055.5L1032.5,1055.5L1030.5,1053.5L1030.5,1045.5L1032.5,1043.5M1053.5,1044.5L1052.5,1043.5L1047.5,1043.5L1045.5,1045.5L1045.5,1053.5L1047.5,1055.5L1051.5,1055.5L1053.5,1053.5L1053.5,1050.5L1051.5,1048.5L1047.5,1048.5M1254.5,952.5L1253.5,951.5L1248.5,951.5L1246.5,953.5L1246.5,961.5L1248.5,963.5L1252.5,963.5L1254.5,961.5L1254.5,958.5L1252.5,956.5L1248.5,956.5M1263.5,951.5L1267.5,951.5L1269.5,953.5L1269.5,961.5L1267.5,963.5L1263.5,963.5L1261.5,961.5L1261.5,953.5L1263.5,951.5M1276.5,951.5L1284,951.5L1283,953L1280.7,957L1279.7,959L1279.7,963.5M1036.5,1135.5L1035.5,1134.5L1030.5,1134.5L1028.5,1136.5L1028.5,1144.5L1030.5,1146.5L1034.5,1146.5L1036.5,1144.5L1036.5,1141.5L1034.5,1139.5L1030.5,1139.5M1044.5,1134.5L1048.5,1134.5L1050.5,1136.5L1050.5,1144.5L1048.5,1146.5L1044.5,1146.5L1042.5,1144.5L1042.5,1136.5L1044.5,1134.5M1059.5,1134.5L1063.5,1134.5L1065.5,1136.5L1065.5,1138.5L1063.5,1140.5L1059.5,1140.5L1057.5,1138.5L1057.5,1136.5L1059.5,1134.5M1059.5,1140.5L1057.5,1142.5L1057.5,1144.5L1059.5,1146.5L1063.5,1146.5L1065.5,1144.5L1065.5,1142.5L1063.5,1140.5M1052.5,1218.5L1051.5,1217.5L1046.5,1217.5L1044.5,1219.5L1044.5,1227.5L1046.5,1229.5L1050.5,1229.5L1052.5,1227.5L1052.5,1224.5L1050.5,1222.5L1046.5,1222.5M1060.5,1217.5L1064.5,1217.5L1066.5,1219.5L1066.5,1227.5L1064.5,1229.5L1060.5,1229.5L1058.5,1227.5L1058.5,1219.5L1060.5,1217.5M1073.5,1228.5L1074.5,1229.5L1079.5,1229.5L1081.5,1227.5L1081.5,1219.5L1079.5,1217.5L1075.5,1217.5L1073.5,1219.5L1073.5,1222.5L1075.5,1224.5L1079.5,1224.5M1101.5,1274.5L1100.5,1273.5L1095.5,1273.5L1093.5,1275.5L1093.5,1283.5L1095.5,1285.5L1099.5,1285.5L1101.5,1283.5L1101.5,1280.5L1099.5,1278.5L1095.5,1278.5M1110.5,1275.5L1112.5,1273.5L1112.5,1285.5M1110.5,1285.5L1114.5,1285.5M1124.5,1273.5L1128.5,1273.5L1130.5,1275.5L1130.5,1283.5L1128.5,1285.5L1124.5,1285.5L1122.5,1283.5L1122.5,1275.5L1124.5,1273.5M1281.5,1157.5L1280.5,1156.5L1275.5,1156.5L1273.5,1158.5L1273.5,1166.5L1275.5,1168.5L1279.5,1168.5L1281.5,1166.5L1281.5,1163.5L1279.5,1161.5L1275.5,1161.5M1290.5,1158.5L1292.5,1156.5L1292.5,1168.5M1290.5,1168.5L1294.5,1168.5M1304.5,1158.5L1306.5,1156.5L1306.5,1168.5M1304.5,1168.5L1308.5,1168.5M899.5,1197.5L898.5,1196.5L893.5,1196.5L891.5,1198.5L891.5,1206.5L893.5,1208.5L897.5,1208.5L899.5,1206.5L899.5,1203.5L897.5,1201.5L893.5,1201.5M908.5,1198.5L910.5,1196.5L910.5,1208.5M908.5,1208.5L912.5,1208.5M920.5,1199.5L920.5,1198.5L922.5,1196.5L926.5,1196.5L928.5,1198.5L928.5,1200.5L921.5,1207.5L920.5,1208.5L928.5,1208.5M992.5,1241.5L991.5,1240.5L986.5,1240.5L984.5,1242.5L984.5,1250.5L986.5,1252.5L990.5,1252.5L992.5,1250.5L992.5,1247.5L990.5,1245.5L986.5,1245.5M1001.5,1242.5L1003.5,1240.5L1003.5,1252.5M1001.5,1252.5L1005.5,1252.5M1014.5,1240.5L1022.5,1240.5L1018.5,1244.5L1020.5,1244.5L1022.5,1246.5L1022.5,1250.5L1020.5,1252.5L1016.5,1252.5L1014.5,1250.5M990.5,1309.5L989.5,1308.5L984.5,1308.5L982.5,1310.5L982.5,1318.5L984.5,1320.5L988.5,1320.5L990.5,1318.5L990.5,1315.5L988.5,1313.5L984.5,1313.5M998.5,1310.5L1000.5,1308.5L1000.5,1320.5M998.5,1320.5L1002.5,1320.5M1015.5,1308.5L1011.5,1316.5L1019.5,1316.5M1015.5,1314.5L1015.5,1320.5M849.5,1287.5L848.5,1286.5L843.5,1286.5L841.5,1288.5L841.5,1296.5L843.5,1298.5L847.5,1298.5L849.5,1296.5L849.5,1293.5L847.5,1291.5L843.5,1291.5M858.5,1288.5L860.5,1286.5L860.5,1298.5M858.5,1298.5L862.5,1298.5M879.5,1286.5L871.5,1286.5L871.5,1291.5L877.5,1291.5L879.5,1293.5L879.5,1296.5L877.5,1298.5L873.5,1298.5L871.5,1296.5M795.5,1357.5L794.5,1356.5L789.5,1356.5L787.5,1358.5L787.5,1366.5L789.5,1368.5L793.5,1368.5L795.5,1366.5L795.5,1363.5L793.5,1361.5L789.5,1361.5M804.5,1358.5L806.5,1356.5L806.5,1368.5M804.5,1368.5L808.5,1368.5M825.5,1357.5L824.5,1356.5L819.5,1356.5L817.5,1358.5L817.5,1366.5L819.5,1368.5L823.5,1368.5L825.5,1366.5L825.5,1363.5L823.5,1361.5L819.5,1361.5M1131.5,1317.5L1139,1317.5L1138,1319L1135.7,1323L1134.7,1325L1134.7,1329.5M1147.5,1317.5L1151.5,1317.5L1153.5,1319.5L1153.5,1327.5L1151.5,1329.5L1147.5,1329.5L1145.5,1327.5L1145.5,1319.5L1147.5,1317.5M1162.5,1319.5L1164.5,1317.5L1164.5,1329.5M1162.5,1329.5L1166.5,1329.5M1180.5,1319.5L1188,1319.5L1187,1321L1184.7,1325L1183.7,1327L1183.7,1331.5M1197.5,1319.5L1201.5,1319.5L1203.5,1321.5L1203.5,1329.5L1201.5,1331.5L1197.5,1331.5L1195.5,1329.5L1195.5,1321.5L1197.5,1319.5M1210.5,1322.5L1210.5,1321.5L1212.5,1319.5L1216.5,1319.5L1218.5,1321.5L1218.5,1323.5L1211.5,1330.5L1210.5,1331.5L1218.5,1331.5M1452.5,1290.5L1460,1290.5L1459,1292L1456.7,1296L1455.7,1298L1455.7,1302.5M1468.5,1290.5L1472.5,1290.5L1474.5,1292.5L1474.5,1300.5L1472.5,1302.5L1468.5,1302.5L1466.5,1300.5L1466.5,1292.5L1468.5,1290.5M1481.5,1290.5L1489.5,1290.5L1485.5,1294.5L1487.5,1294.5L1489.5,1296.5L1489.5,1300.5L1487.5,1302.5L1483.5,1302.5L1481.5,1300.5M1379.5,1441.5L1387,1441.5L1386,1443L1383.7,1447L1382.7,1449L1382.7,1453.5M1396.5,1441.5L1400.5,1441.5L1402.5,1443.5L1402.5,1451.5L1400.5,1453.5L1396.5,1453.5L1394.5,1451.5L1394.5,1443.5L1396.5,1441.5M1412.5,1441.5L1408.5,1449.5L1416.5,1449.5M1412.5,1447.5L1412.5,1453.5M1419.5,1502.5L1427,1502.5L1426,1504L1423.7,1508L1422.7,1510L1422.7,1514.5M1436.5,1502.5L1440.5,1502.5L1442.5,1504.5L1442.5,1512.5L1440.5,1514.5L1436.5,1514.5L1434.5,1512.5L1434.5,1504.5L1436.5,1502.5M1457.5,1502.5L1449.5,1502.5L1449.5,1507.5L1455.5,1507.5L1457.5,1509.5L1457.5,1512.5L1455.5,1514.5L1451.5,1514.5L1449.5,1512.5M1487.5,1421.5L1495,1421.5L1494,1423L1491.7,1427L1490.7,1429L1490.7,1433.5M1504.5,1421.5L1508.5,1421.5L1510.5,1423.5L1510.5,1431.5L1508.5,1433.5L1504.5,1433.5L1502.5,1431.5L1502.5,1423.5L1504.5,1421.5M1524.5,1422.5L1523.5,1421.5L1518.5,1421.5L1516.5,1423.5L1516.5,1431.5L1518.5,1433.5L1522.5,1433.5L1524.5,1431.5L1524.5,1428.5L1522.5,1426.5L1518.5,1426.5M1528.5,1498.5L1536,1498.5L1535,1500L1532.7,1504L1531.7,1506L1531.7,1510.5M1545.5,1498.5L1549.5,1498.5L1551.5,1500.5L1551.5,1508.5L1549.5,1510.5L1545.5,1510.5L1543.5,1508.5L1543.5,1500.5L1545.5,1498.5M1558.5,1498.5L1566,1498.5L1565,1500L1562.7,1504L1561.7,1506L1561.7,1510.5M1648.5,1454.5L1656,1454.5L1655,1456L1652.7,1460L1651.7,1462L1651.7,1466.5M1665.5,1454.5L1669.5,1454.5L1671.5,1456.5L1671.5,1464.5L1669.5,1466.5L1665.5,1466.5L1663.5,1464.5L1663.5,1456.5L1665.5,1454.5M1679.5,1454.5L1683.5,1454.5L1685.5,1456.5L1685.5,1458.5L1683.5,1460.5L1679.5,1460.5L1677.5,1458.5L1677.5,1456.5L1679.5,1454.5M1679.5,1460.5L1677.5,1462.5L1677.5,1464.5L1679.5,1466.5L1683.5,1466.5L1685.5,1464.5L1685.5,1462.5L1683.5,1460.5M1746.5,1505.5L1754,1505.5L1753,1507L1750.7,1511L1749.7,1513L1749.7,1517.5M1762.5,1505.5L1766.5,1505.5L1768.5,1507.5L1768.5,1515.5L1766.5,1517.5L1762.5,1517.5L1760.5,1515.5L1760.5,1507.5L1762.5,1505.5M1775.5,1516.5L1776.5,1517.5L1781.5,1517.5L1783.5,1515.5L1783.5,1507.5L1781.5,1505.5L1777.5,1505.5L1775.5,1507.5L1775.5,1510.5L1777.5,1512.5L1781.5,1512.5M1708.5,1328.5L1716,1328.5L1715,1330L1712.7,1334L1711.7,1336L1711.7,1340.5M1724.5,1330.5L1726.5,1328.5L1726.5,1340.5M1724.5,1340.5L1728.5,1340.5M1739.5,1328.5L1743.5,1328.5L1745.5,1330.5L1745.5,1338.5L1743.5,1340.5L1739.5,1340.5L1737.5,1338.5L1737.5,1330.5L1739.5,1328.5M2082.5,1326.5L2090,1326.5L2089,1328L2086.7,1332L2085.7,1334L2085.7,1338.5M2098.5,1328.5L2100.5,1326.5L2100.5,1338.5M2098.5,1338.5L2102.5,1338.5M2113.5,1328.5L2115.5,1326.5L2115.5,1338.5M2113.5,1338.5L2117.5,1338.5M1057.5,1422.5L1061.5,1422.5L1063.5,1424.5L1063.5,1426.5L1061.5,1428.5L1057.5,1428.5L1055.5,1426.5L1055.5,1424.5L1057.5,1422.5M1057.5,1428.5L1055.5,1430.5L1055.5,1432.5L1057.5,1434.5L1061.5,1434.5L1063.5,1432.5L1063.5,1430.5L1061.5,1428.5M1072.5,1422.5L1076.5,1422.5L1078.5,1424.5L1078.5,1432.5L1076.5,1434.5L1072.5,1434.5L1070.5,1432.5L1070.5,1424.5L1072.5,1422.5M1086.5,1424.5L1088.5,1422.5L1088.5,1434.5M1086.5,1434.5L1090.5,1434.5M1119.5,1394.5L1123.5,1394.5L1125.5,1396.5L1125.5,1398.5L1123.5,1400.5L1119.5,1400.5L1117.5,1398.5L1117.5,1396.5L1119.5,1394.5M1119.5,1400.5L1117.5,1402.5L1117.5,1404.5L1119.5,1406.5L1123.5,1406.5L1125.5,1404.5L1125.5,1402.5L1123.5,1400.5M1133.5,1394.5L1137.5,1394.5L1139.5,1396.5L1139.5,1404.5L1137.5,1406.5L1133.5,1406.5L1131.5,1404.5L1131.5,1396.5L1133.5,1394.5M1146.5,1397.5L1146.5,1396.5L1148.5,1394.5L1152.5,1394.5L1154.5,1396.5L1154.5,1398.5L1147.5,1405.5L1146.5,1406.5L1154.5,1406.5M1166.5,1434.5L1170.5,1434.5L1172.5,1436.5L1172.5,1438.5L1170.5,1440.5L1166.5,1440.5L1164.5,1438.5L1164.5,1436.5L1166.5,1434.5M1166.5,1440.5L1164.5,1442.5L1164.5,1444.5L1166.5,1446.5L1170.5,1446.5L1172.5,1444.5L1172.5,1442.5L1170.5,1440.5M1180.5,1434.5L1184.5,1434.5L1186.5,1436.5L1186.5,1444.5L1184.5,1446.5L1180.5,1446.5L1178.5,1444.5L1178.5,1436.5L1180.5,1434.5M1193.5,1434.5L1201.5,1434.5L1197.5,1438.5L1199.5,1438.5L1201.5,1440.5L1201.5,1444.5L1199.5,1446.5L1195.5,1446.5L1193.5,1444.5M1207.5,1456.5L1211.5,1456.5L1213.5,1458.5L1213.5,1460.5L1211.5,1462.5L1207.5,1462.5L1205.5,1460.5L1205.5,1458.5L1207.5,1456.5M1207.5,1462.5L1205.5,1464.5L1205.5,1466.5L1207.5,1468.5L1211.5,1468.5L1213.5,1466.5L1213.5,1464.5L1211.5,1462.5M1221.5,1456.5L1225.5,1456.5L1227.5,1458.5L1227.5,1466.5L1225.5,1468.5L1221.5,1468.5L1219.5,1466.5L1219.5,1458.5L1221.5,1456.5M1238.5,1456.5L1234.5,1464.5L1242.5,1464.5M1238.5,1462.5L1238.5,1468.5M1269.5,1445.5L1273.5,1445.5L1275.5,1447.5L1275.5,1449.5L1273.5,1451.5L1269.5,1451.5L1267.5,1449.5L1267.5,1447.5L1269.5,1445.5M1269.5,1451.5L1267.5,1453.5L1267.5,1455.5L1269.5,1457.5L1273.5,1457.5L1275.5,1455.5L1275.5,1453.5L1273.5,1451.5M1284.5,1445.5L1288.5,1445.5L1290.5,1447.5L1290.5,1455.5L1288.5,1457.5L1284.5,1457.5L1282.5,1455.5L1282.5,1447.5L1284.5,1445.5M1305.5,1445.5L1297.5,1445.5L1297.5,1450.5L1303.5,1450.5L1305.5,1452.5L1305.5,1455.5L1303.5,1457.5L1299.5,1457.5L1297.5,1455.5M1310.5,1487.5L1314.5,1487.5L1316.5,1489.5L1316.5,1491.5L1314.5,1493.5L1310.5,1493.5L1308.5,1491.5L1308.5,1489.5L1310.5,1487.5M1310.5,1493.5L1308.5,1495.5L1308.5,1497.5L1310.5,1499.5L1314.5,1499.5L1316.5,1497.5L1316.5,1495.5L1314.5,1493.5M1325.5,1487.5L1329.5,1487.5L1331.5,1489.5L1331.5,1497.5L1329.5,1499.5L1325.5,1499.5L1323.5,1497.5L1323.5,1489.5L1325.5,1487.5M1345.5,1488.5L1344.5,1487.5L1339.5,1487.5L1337.5,1489.5L1337.5,1497.5L1339.5,1499.5L1343.5,1499.5L1345.5,1497.5L1345.5,1494.5L1343.5,1492.5L1339.5,1492.5M1248.5,1524.5L1252.5,1524.5L1254.5,1526.5L1254.5,1528.5L1252.5,1530.5L1248.5,1530.5L1246.5,1528.5L1246.5,1526.5L1248.5,1524.5M1248.5,1530.5L1246.5,1532.5L1246.5,1534.5L1248.5,1536.5L1252.5,1536.5L1254.5,1534.5L1254.5,1532.5L1252.5,1530.5M1263.5,1524.5L1267.5,1524.5L1269.5,1526.5L1269.5,1534.5L1267.5,1536.5L1263.5,1536.5L1261.5,1534.5L1261.5,1526.5L1263.5,1524.5M1276.5,1524.5L1284,1524.5L1283,1526L1280.7,1530L1279.7,1532L1279.7,1536.5M1337.5,1587.5L1341.5,1587.5L1343.5,1589.5L1343.5,1591.5L1341.5,1593.5L1337.5,1593.5L1335.5,1591.5L1335.5,1589.5L1337.5,1587.5M1337.5,1593.5L1335.5,1595.5L1335.5,1597.5L1337.5,1599.5L1341.5,1599.5L1343.5,1597.5L1343.5,1595.5L1341.5,1593.5M1352.5,1587.5L1356.5,1587.5L1358.5,1589.5L1358.5,1597.5L1356.5,1599.5L1352.5,1599.5L1350.5,1597.5L1350.5,1589.5L1352.5,1587.5M1366.5,1587.5L1370.5,1587.5L1372.5,1589.5L1372.5,1591.5L1370.5,1593.5L1366.5,1593.5L1364.5,1591.5L1364.5,1589.5L1366.5,1587.5M1366.5,1593.5L1364.5,1595.5L1364.5,1597.5L1366.5,1599.5L1370.5,1599.5L1372.5,1597.5L1372.5,1595.5L1370.5,1593.5M1328.5,1747.5L1332.5,1747.5L1334.5,1749.5L1334.5,1751.5L1332.5,1753.5L1328.5,1753.5L1326.5,1751.5L1326.5,1749.5L1328.5,1747.5M1328.5,1753.5L1326.5,1755.5L1326.5,1757.5L1328.5,1759.5L1332.5,1759.5L1334.5,1757.5L1334.5,1755.5L1332.5,1753.5M1343.5,1747.5L1347.5,1747.5L1349.5,1749.5L1349.5,1757.5L1347.5,1759.5L1343.5,1759.5L1341.5,1757.5L1341.5,1749.5L1343.5,1747.5M1355.5,1758.5L1356.5,1759.5L1361.5,1759.5L1363.5,1757.5L1363.5,1749.5L1361.5,1747.5L1357.5,1747.5L1355.5,1749.5L1355.5,1752.5L1357.5,1754.5L1361.5,1754.5M1409.5,1857.5L1413.5,1857.5L1415.5,1859.5L1415.5,1861.5L1413.5,1863.5L1409.5,1863.5L1407.5,1861.5L1407.5,1859.5L1409.5,1857.5M1409.5,1863.5L1407.5,1865.5L1407.5,1867.5L1409.5,1869.5L1413.5,1869.5L1415.5,1867.5L1415.5,1865.5L1413.5,1863.5M1424.5,1859.5L1426.5,1857.5L1426.5,1869.5M1424.5,1869.5L1428.5,1869.5M1439.5,1857.5L1443.5,1857.5L1445.5,1859.5L1445.5,1867.5L1443.5,1869.5L1439.5,1869.5L1437.5,1867.5L1437.5,1859.5L1439.5,1857.5M1092.5,1467.5L1093.5,1468.5L1098.5,1468.5L1100.5,1466.5L1100.5,1458.5L1098.5,1456.5L1094.5,1456.5L1092.5,1458.5L1092.5,1461.5L1094.5,1463.5L1098.5,1463.5M1108.5,1456.5L1112.5,1456.5L1114.5,1458.5L1114.5,1466.5L1112.5,1468.5L1108.5,1468.5L1106.5,1466.5L1106.5,1458.5L1108.5,1456.5M1123.5,1458.5L1125.5,1456.5L1125.5,1468.5M1123.5,1468.5L1127.5,1468.5M1090.5,1522.5L1091.5,1523.5L1096.5,1523.5L1098.5,1521.5L1098.5,1513.5L1096.5,1511.5L1092.5,1511.5L1090.5,1513.5L1090.5,1516.5L1092.5,1518.5L1096.5,1518.5M1106.5,1511.5L1110.5,1511.5L1112.5,1513.5L1112.5,1521.5L1110.5,1523.5L1106.5,1523.5L1104.5,1521.5L1104.5,1513.5L1106.5,1511.5M1119.5,1514.5L1119.5,1513.5L1121.5,1511.5L1125.5,1511.5L1127.5,1513.5L1127.5,1515.5L1120.5,1522.5L1119.5,1523.5L1127.5,1523.5M1159.5,1551.5L1160.5,1552.5L1165.5,1552.5L1167.5,1550.5L1167.5,1542.5L1165.5,1540.5L1161.5,1540.5L1159.5,1542.5L1159.5,1545.5L1161.5,1547.5L1165.5,1547.5M1175.5,1540.5L1179.5,1540.5L1181.5,1542.5L1181.5,1550.5L1179.5,1552.5L1175.5,1552.5L1173.5,1550.5L1173.5,1542.5L1175.5,1540.5M1188.5,1540.5L1196.5,1540.5L1192.5,1544.5L1194.5,1544.5L1196.5,1546.5L1196.5,1550.5L1194.5,1552.5L1190.5,1552.5L1188.5,1550.5M1198.5,1599.5L1199.5,1600.5L1204.5,1600.5L1206.5,1598.5L1206.5,1590.5L1204.5,1588.5L1200.5,1588.5L1198.5,1590.5L1198.5,1593.5L1200.5,1595.5L1204.5,1595.5M1215.5,1588.5L1219.5,1588.5L1221.5,1590.5L1221.5,1598.5L1219.5,1600.5L1215.5,1600.5L1213.5,1598.5L1213.5,1590.5L1215.5,1588.5M1232.5,1588.5L1228.5,1596.5L1236.5,1596.5M1232.5,1594.5L1232.5,1600.5M1176.5,1638.5L1177.5,1639.5L1182.5,1639.5L1184.5,1637.5L1184.5,1629.5L1182.5,1627.5L1178.5,1627.5L1176.5,1629.5L1176.5,1632.5L1178.5,1634.5L1182.5,1634.5M1192.5,1627.5L1196.5,1627.5L1198.5,1629.5L1198.5,1637.5L1196.5,1639.5L1192.5,1639.5L1190.5,1637.5L1190.5,1629.5L1192.5,1627.5M1213.5,1627.5L1205.5,1627.5L1205.5,1632.5L1211.5,1632.5L1213.5,1634.5L1213.5,1637.5L1211.5,1639.5L1207.5,1639.5L1205.5,1637.5M1099.5,1616.5L1100.5,1617.5L1105.5,1617.5L1107.5,1615.5L1107.5,1607.5L1105.5,1605.5L1101.5,1605.5L1099.5,1607.5L1099.5,1610.5L1101.5,1612.5L1105.5,1612.5M1115.5,1605.5L1119.5,1605.5L1121.5,1607.5L1121.5,1615.5L1119.5,1617.5L1115.5,1617.5L1113.5,1615.5L1113.5,1607.5L1115.5,1605.5M1136.5,1606.5L1135.5,1605.5L1130.5,1605.5L1128.5,1607.5L1128.5,1615.5L1130.5,1617.5L1134.5,1617.5L1136.5,1615.5L1136.5,1612.5L1134.5,1610.5L1130.5,1610.5M1125.5,1721.5L1126.5,1722.5L1131.5,1722.5L1133.5,1720.5L1133.5,1712.5L1131.5,1710.5L1127.5,1710.5L1125.5,1712.5L1125.5,1715.5L1127.5,1717.5L1131.5,1717.5M1142.5,1710.5L1146.5,1710.5L1148.5,1712.5L1148.5,1720.5L1146.5,1722.5L1142.5,1722.5L1140.5,1720.5L1140.5,1712.5L1142.5,1710.5M1155.5,1710.5L1163,1710.5L1162,1712L1159.7,1716L1158.7,1718L1158.7,1722.5M1208.5,1698.5L1209.5,1699.5L1214.5,1699.5L1216.5,1697.5L1216.5,1689.5L1214.5,1687.5L1210.5,1687.5L1208.5,1689.5L1208.5,1692.5L1210.5,1694.5L1214.5,1694.5M1225.5,1687.5L1229.5,1687.5L1231.5,1689.5L1231.5,1697.5L1229.5,1699.5L1225.5,1699.5L1223.5,1697.5L1223.5,1689.5L1225.5,1687.5M1240.5,1687.5L1244.5,1687.5L1246.5,1689.5L1246.5,1691.5L1244.5,1693.5L1240.5,1693.5L1238.5,1691.5L1238.5,1689.5L1240.5,1687.5M1240.5,1693.5L1238.5,1695.5L1238.5,1697.5L1240.5,1699.5L1244.5,1699.5L1246.5,1697.5L1246.5,1695.5L1244.5,1693.5M1275.5,1761.5L1276.5,1762.5L1281.5,1762.5L1283.5,1760.5L1283.5,1752.5L1281.5,1750.5L1277.5,1750.5L1275.5,1752.5L1275.5,1755.5L1277.5,1757.5L1281.5,1757.5M1292.5,1750.5L1296.5,1750.5L1298.5,1752.5L1298.5,1760.5L1296.5,1762.5L1292.5,1762.5L1290.5,1760.5L1290.5,1752.5L1292.5,1750.5M1304.5,1761.5L1305.5,1762.5L1310.5,1762.5L1312.5,1760.5L1312.5,1752.5L1310.5,1750.5L1306.5,1750.5L1304.5,1752.5L1304.5,1755.5L1306.5,1757.5L1310.5,1757.5M1224.5,1786.5L1225.5,1787.5L1230.5,1787.5L1232.5,1785.5L1232.5,1777.5L1230.5,1775.5L1226.5,1775.5L1224.5,1777.5L1224.5,1780.5L1226.5,1782.5L1230.5,1782.5M1241.5,1777.5L1243.5,1775.5L1243.5,1787.5M1241.5,1787.5L1245.5,1787.5M1255.5,1775.5L1259.5,1775.5L1261.5,1777.5L1261.5,1785.5L1259.5,1787.5L1255.5,1787.5L1253.5,1785.5L1253.5,1777.5L1255.5,1775.5M1262.5,1847.5L1263.5,1848.5L1268.5,1848.5L1270.5,1846.5L1270.5,1838.5L1268.5,1836.5L1264.5,1836.5L1262.5,1838.5L1262.5,1841.5L1264.5,1843.5L1268.5,1843.5M1279.5,1838.5L1281.5,1836.5L1281.5,1848.5M1279.5,1848.5L1283.5,1848.5M1294.5,1838.5L1296.5,1836.5L1296.5,1848.5M1294.5,1848.5L1298.5,1848.5M1319.5,1908.5L1320.5,1909.5L1325.5,1909.5L1327.5,1907.5L1327.5,1899.5L1325.5,1897.5L1321.5,1897.5L1319.5,1899.5L1319.5,1902.5L1321.5,1904.5L1325.5,1904.5M1336.5,1899.5L1338.5,1897.5L1338.5,1909.5M1336.5,1909.5L1340.5,1909.5M1348.5,1900.5L1348.5,1899.5L1350.5,1897.5L1354.5,1897.5L1356.5,1899.5L1356.5,1901.5L1349.5,1908.5L1348.5,1909.5L1356.5,1909.5M1316.5,2041.5L1317.5,2042.5L1322.5,2042.5L1324.5,2040.5L1324.5,2032.5L1322.5,2030.5L1318.5,2030.5L1316.5,2032.5L1316.5,2035.5L1318.5,2037.5L1322.5,2037.5M1332.5,2032.5L1334.5,2030.5L1334.5,2042.5M1332.5,2042.5L1336.5,2042.5M1345.5,2030.5L1353.5,2030.5L1349.5,2034.5L1351.5,2034.5L1353.5,2036.5L1353.5,2040.5L1351.5,2042.5L1347.5,2042.5L1345.5,2040.5M1102.5,1942.5L1103.5,1943.5L1108.5,1943.5L1110.5,1941.5L1110.5,1933.5L1108.5,1931.5L1104.5,1931.5L1102.5,1933.5L1102.5,1936.5L1104.5,1938.5L1108.5,1938.5M1118.5,1933.5L1120.5,1931.5L1120.5,1943.5M1118.5,1943.5L1122.5,1943.5M1135.5,1931.5L1131.5,1939.5L1139.5,1939.5M1135.5,1937.5L1135.5,1943.5M1078.5,2171.5L1079.5,2172.5L1084.5,2172.5L1086.5,2170.5L1086.5,2162.5L1084.5,2160.5L1080.5,2160.5L1078.5,2162.5L1078.5,2165.5L1080.5,2167.5L1084.5,2167.5M1095.5,2162.5L1097.5,2160.5L1097.5,2172.5M1095.5,2172.5L1099.5,2172.5M1116.5,2160.5L1108.5,2160.5L1108.5,2165.5L1114.5,2165.5L1116.5,2167.5L1116.5,2170.5L1114.5,2172.5L1110.5,2172.5L1108.5,2170.5M1194.5,1514.5L1195.5,1515.5L1200.5,1515.5L1202.5,1513.5L1202.5,1505.5L1200.5,1503.5L1196.5,1503.5L1194.5,1505.5L1194.5,1508.5L1196.5,1510.5L1200.5,1510.5M1211.5,1505.5L1213.5,1503.5L1213.5,1515.5M1211.5,1515.5L1215.5,1515.5M1232.5,1504.5L1231.5,1503.5L1226.5,1503.5L1224.5,1505.5L1224.5,1513.5L1226.5,1515.5L1230.5,1515.5L1232.5,1513.5L1232.5,1510.5L1230.5,1508.5L1226.5,1508.5M1009.5,1478.5L1011.5,1476.5L1011.5,1488.5M1009.5,1488.5L1013.5,1488.5M1024.5,1476.5L1028.5,1476.5L1030.5,1478.5L1030.5,1486.5L1028.5,1488.5L1024.5,1488.5L1022.5,1486.5L1022.5,1478.5L1024.5,1476.5M1039.5,1476.5L1043.5,1476.5L1045.5,1478.5L1045.5,1486.5L1043.5,1488.5L1039.5,1488.5L1037.5,1486.5L1037.5,1478.5L1039.5,1476.5M1053.5,1478.5L1055.5,1476.5L1055.5,1488.5M1053.5,1488.5L1057.5,1488.5M625.5,1666.5L627.5,1664.5L627.5,1676.5M625.5,1676.5L629.5,1676.5M639.5,1664.5L643.5,1664.5L645.5,1666.5L645.5,1674.5L643.5,1676.5L639.5,1676.5L637.5,1674.5L637.5,1666.5L639.5,1664.5M654.5,1664.5L658.5,1664.5L660.5,1666.5L660.5,1674.5L658.5,1676.5L654.5,1676.5L652.5,1674.5L652.5,1666.5L654.5,1664.5M667.5,1664.5L675.5,1664.5L671.5,1668.5L673.5,1668.5L675.5,1670.5L675.5,1674.5L673.5,1676.5L669.5,1676.5L667.5,1674.5M960.5,1561.5L962.5,1559.5L962.5,1571.5M960.5,1571.5L964.5,1571.5M975.5,1559.5L979.5,1559.5L981.5,1561.5L981.5,1569.5L979.5,1571.5L975.5,1571.5L973.5,1569.5L973.5,1561.5L975.5,1559.5M989.5,1559.5L993.5,1559.5L995.5,1561.5L995.5,1569.5L993.5,1571.5L989.5,1571.5L987.5,1569.5L987.5,1561.5L989.5,1559.5M1006.5,1559.5L1002.5,1567.5L1010.5,1567.5M1006.5,1565.5L1006.5,1571.5M1049.5,1705.5L1051.5,1703.5L1051.5,1715.5M1049.5,1715.5L1053.5,1715.5M1063.5,1703.5L1067.5,1703.5L1069.5,1705.5L1069.5,1713.5L1067.5,1715.5L1063.5,1715.5L1061.5,1713.5L1061.5,1705.5L1063.5,1703.5M1078.5,1703.5L1082.5,1703.5L1084.5,1705.5L1084.5,1713.5L1082.5,1715.5L1078.5,1715.5L1076.5,1713.5L1076.5,1705.5L1078.5,1703.5M1099.5,1703.5L1091.5,1703.5L1091.5,1708.5L1097.5,1708.5L1099.5,1710.5L1099.5,1713.5L1097.5,1715.5L1093.5,1715.5L1091.5,1713.5M986.5,1673.5L988.5,1671.5L988.5,1683.5M986.5,1683.5L990.5,1683.5M1001.5,1671.5L1005.5,1671.5L1007.5,1673.5L1007.5,1681.5L1005.5,1683.5L1001.5,1683.5L999.5,1681.5L999.5,1673.5L1001.5,1671.5M1016.5,1671.5L1020.5,1671.5L1022.5,1673.5L1022.5,1681.5L1020.5,1683.5L1016.5,1683.5L1014.5,1681.5L1014.5,1673.5L1016.5,1671.5M1036.5,1672.5L1035.5,1671.5L1030.5,1671.5L1028.5,1673.5L1028.5,1681.5L1030.5,1683.5L1034.5,1683.5L1036.5,1681.5L1036.5,1678.5L1034.5,1676.5L1030.5,1676.5M925.5,1640.5L927.5,1638.5L927.5,1650.5M925.5,1650.5L929.5,1650.5M940.5,1638.5L944.5,1638.5L946.5,1640.5L946.5,1648.5L944.5,1650.5L940.5,1650.5L938.5,1648.5L938.5,1640.5L940.5,1638.5M954.5,1638.5L958.5,1638.5L960.5,1640.5L960.5,1648.5L958.5,1650.5L954.5,1650.5L952.5,1648.5L952.5,1640.5L954.5,1638.5M967.5,1638.5L975,1638.5L974,1640L971.7,1644L970.7,1646L970.7,1650.5M892.5,1788.5L894.5,1786.5L894.5,1798.5M892.5,1798.5L896.5,1798.5M907.5,1786.5L911.5,1786.5L913.5,1788.5L913.5,1796.5L911.5,1798.5L907.5,1798.5L905.5,1796.5L905.5,1788.5L907.5,1786.5M921.5,1786.5L925.5,1786.5L927.5,1788.5L927.5,1796.5L925.5,1798.5L921.5,1798.5L919.5,1796.5L919.5,1788.5L921.5,1786.5M936.5,1786.5L940.5,1786.5L942.5,1788.5L942.5,1790.5L940.5,1792.5L936.5,1792.5L934.5,1790.5L934.5,1788.5L936.5,1786.5M936.5,1792.5L934.5,1794.5L934.5,1796.5L936.5,1798.5L940.5,1798.5L942.5,1796.5L942.5,1794.5L940.5,1792.5M806.5,1661.5L808.5,1659.5L808.5,1671.5M806.5,1671.5L810.5,1671.5M821.5,1659.5L825.5,1659.5L827.5,1661.5L827.5,1669.5L825.5,1671.5L821.5,1671.5L819.5,1669.5L819.5,1661.5L821.5,1659.5M836.5,1659.5L840.5,1659.5L842.5,1661.5L842.5,1669.5L840.5,1671.5L836.5,1671.5L834.5,1669.5L834.5,1661.5L836.5,1659.5M848.5,1670.5L849.5,1671.5L854.5,1671.5L856.5,1669.5L856.5,1661.5L854.5,1659.5L850.5,1659.5L848.5,1661.5L848.5,1664.5L850.5,1666.5L854.5,1666.5M517.5,1867.5L519.5,1865.5L519.5,1877.5M517.5,1877.5L521.5,1877.5M531.5,1865.5L535.5,1865.5L537.5,1867.5L537.5,1875.5L535.5,1877.5L531.5,1877.5L529.5,1875.5L529.5,1867.5L531.5,1865.5M546.5,1867.5L548.5,1865.5L548.5,1877.5M546.5,1877.5L550.5,1877.5M561.5,1865.5L565.5,1865.5L567.5,1867.5L567.5,1875.5L565.5,1877.5L561.5,1877.5L559.5,1875.5L559.5,1867.5L561.5,1865.5M617.5,2073.5L619.5,2071.5L619.5,2083.5M617.5,2083.5L621.5,2083.5M631.5,2071.5L635.5,2071.5L637.5,2073.5L637.5,2081.5L635.5,2083.5L631.5,2083.5L629.5,2081.5L629.5,2073.5L631.5,2071.5M646.5,2073.5L648.5,2071.5L648.5,2083.5M646.5,2083.5L650.5,2083.5M661.5,2073.5L663.5,2071.5L663.5,2083.5M661.5,2083.5L665.5,2083.5M857.5,2110.5L859.5,2108.5L859.5,2120.5M857.5,2120.5L861.5,2120.5M872.5,2108.5L876.5,2108.5L878.5,2110.5L878.5,2118.5L876.5,2120.5L872.5,2120.5L870.5,2118.5L870.5,2110.5L872.5,2108.5M886.5,2110.5L888.5,2108.5L888.5,2120.5M886.5,2120.5L890.5,2120.5M899.5,2111.5L899.5,2110.5L901.5,2108.5L905.5,2108.5L907.5,2110.5L907.5,2112.5L900.5,2119.5L899.5,2120.5L907.5,2120.5M976.5,1371.5L978.5,1369.5L978.5,1381.5M976.5,1381.5L980.5,1381.5M990.5,1371.5L992.5,1369.5L992.5,1381.5M990.5,1381.5L994.5,1381.5M1005.5,1369.5L1009.5,1369.5L1011.5,1371.5L1011.5,1379.5L1009.5,1381.5L1005.5,1381.5L1003.5,1379.5L1003.5,1371.5L1005.5,1369.5M1020.5,1371.5L1022.5,1369.5L1022.5,1381.5M1020.5,1381.5L1024.5,1381.5M985.5,1418.5L987.5,1416.5L987.5,1428.5M985.5,1428.5L989.5,1428.5M1000.5,1418.5L1002.5,1416.5L1002.5,1428.5M1000.5,1428.5L1004.5,1428.5M1014.5,1416.5L1018.5,1416.5L1020.5,1418.5L1020.5,1426.5L1018.5,1428.5L1014.5,1428.5L1012.5,1426.5L1012.5,1418.5L1014.5,1416.5M1027.5,1419.5L1027.5,1418.5L1029.5,1416.5L1033.5,1416.5L1035.5,1418.5L1035.5,1420.5L1028.5,1427.5L1027.5,1428.5L1035.5,1428.5M919.5,1463.5L921.5,1461.5L921.5,1473.5M919.5,1473.5L923.5,1473.5M933.5,1463.5L935.5,1461.5L935.5,1473.5M933.5,1473.5L937.5,1473.5M948.5,1461.5L952.5,1461.5L954.5,1463.5L954.5,1471.5L952.5,1473.5L948.5,1473.5L946.5,1471.5L946.5,1463.5L948.5,1461.5M961.5,1461.5L969.5,1461.5L965.5,1465.5L967.5,1465.5L969.5,1467.5L969.5,1471.5L967.5,1473.5L963.5,1473.5L961.5,1471.5M873.5,1430.5L875.5,1428.5L875.5,1440.5M873.5,1440.5L877.5,1440.5M888.5,1430.5L890.5,1428.5L890.5,1440.5M888.5,1440.5L892.5,1440.5M902.5,1428.5L906.5,1428.5L908.5,1430.5L908.5,1438.5L906.5,1440.5L902.5,1440.5L900.5,1438.5L900.5,1430.5L902.5,1428.5M919.5,1428.5L915.5,1436.5L923.5,1436.5M919.5,1434.5L919.5,1440.5M869.5,1499.5L871.5,1497.5L871.5,1509.5M869.5,1509.5L873.5,1509.5M884.5,1499.5L886.5,1497.5L886.5,1509.5M884.5,1509.5L888.5,1509.5M898.5,1497.5L902.5,1497.5L904.5,1499.5L904.5,1507.5L902.5,1509.5L898.5,1509.5L896.5,1507.5L896.5,1499.5L898.5,1497.5M919.5,1497.5L911.5,1497.5L911.5,1502.5L917.5,1502.5L919.5,1504.5L919.5,1507.5L917.5,1509.5L913.5,1509.5L911.5,1507.5M769.5,1442.5L771.5,1440.5L771.5,1452.5M769.5,1452.5L773.5,1452.5M784.5,1442.5L786.5,1440.5L786.5,1452.5M784.5,1452.5L788.5,1452.5M799.5,1440.5L803.5,1440.5L805.5,1442.5L805.5,1450.5L803.5,1452.5L799.5,1452.5L797.5,1450.5L797.5,1442.5L799.5,1440.5M819.5,1441.5L818.5,1440.5L813.5,1440.5L811.5,1442.5L811.5,1450.5L813.5,1452.5L817.5,1452.5L819.5,1450.5L819.5,1447.5L817.5,1445.5L813.5,1445.5M759.5,1530.5L761.5,1528.5L761.5,1540.5M759.5,1540.5L763.5,1540.5M774.5,1530.5L776.5,1528.5L776.5,1540.5M774.5,1540.5L778.5,1540.5M788.5,1528.5L792.5,1528.5L794.5,1530.5L794.5,1538.5L792.5,1540.5L788.5,1540.5L786.5,1538.5L786.5,1530.5L788.5,1528.5M801.5,1528.5L809,1528.5L808,1530L805.7,1534L804.7,1536L804.7,1540.5M683.5,1533.5L685.5,1531.5L685.5,1543.5M683.5,1543.5L687.5,1543.5M697.5,1533.5L699.5,1531.5L699.5,1543.5M697.5,1543.5L701.5,1543.5M712.5,1531.5L716.5,1531.5L718.5,1533.5L718.5,1541.5L716.5,1543.5L712.5,1543.5L710.5,1541.5L710.5,1533.5L712.5,1531.5M727.5,1531.5L731.5,1531.5L733.5,1533.5L733.5,1535.5L731.5,1537.5L727.5,1537.5L725.5,1535.5L725.5,1533.5L727.5,1531.5M727.5,1537.5L725.5,1539.5L725.5,1541.5L727.5,1543.5L731.5,1543.5L733.5,1541.5L733.5,1539.5L731.5,1537.5M613.5,1585.5L615.5,1583.5L615.5,1595.5M613.5,1595.5L617.5,1595.5M628.5,1585.5L630.5,1583.5L630.5,1595.5M628.5,1595.5L632.5,1595.5M643.5,1583.5L647.5,1583.5L649.5,1585.5L649.5,1593.5L647.5,1595.5L643.5,1595.5L641.5,1593.5L641.5,1585.5L643.5,1583.5M655.5,1594.5L656.5,1595.5L661.5,1595.5L663.5,1593.5L663.5,1585.5L661.5,1583.5L657.5,1583.5L655.5,1585.5L655.5,1588.5L657.5,1590.5L661.5,1590.5M360.5,1602.5L362.5,1600.5L362.5,1612.5M360.5,1612.5L364.5,1612.5M375.5,1602.5L377.5,1600.5L377.5,1612.5M375.5,1612.5L379.5,1612.5M390.5,1602.5L392.5,1600.5L392.5,1612.5M390.5,1612.5L394.5,1612.5M404.5,1600.5L408.5,1600.5L410.5,1602.5L410.5,1610.5L408.5,1612.5L404.5,1612.5L402.5,1610.5L402.5,1602.5L404.5,1600.5M988.5,1512.5L990.5,1510.5L990.5,1522.5M988.5,1522.5L992.5,1522.5M1003.5,1510.5L1007.5,1510.5L1009.5,1512.5L1009.5,1520.5L1007.5,1522.5L1003.5,1522.5L1001.5,1520.5L1001.5,1512.5L1003.5,1510.5M1002.5,1525.5L1006.5,1525.5L1008.5,1527.5L1008.5,1535.5L1006.5,1537.5L1002.5,1537.5L1000.5,1535.5L1000.5,1527.5L1002.5,1525.5M1015.5,1528.5L1015.5,1527.5L1017.5,1525.5L1021.5,1525.5L1023.5,1527.5L1023.5,1529.5L1016.5,1536.5L1015.5,1537.5L1023.5,1537.5"/>
<rect x="1554" y="528" width="2" height="2" fill="#707070"/>
<text class="t" x="105" y="141.3" font-size="107.3" textLength="1429" lengthAdjust="spacing">Présidentielle 2022, 1er tour</text>
<rect x="105" y="151.6" width="1429" height="11.3" fill="#000"/>
<text class="t" x="105" y="265.6" font-size="107.3">Distribution de l'abstention le 10 avril 2022</text>
<rect x="1998" y="1822.0" width="84" height="58.0" fill="#FFDFAA"/>
<text class="t" x="2094.5" y="1870.0" font-size="42">- de 20% des inscrits</text>
<rect x="1998" y="1900.0" width="84" height="60.0" fill="#FFCF80"/>
<text class="t" x="2094.5" y="1942.2" font-size="42">de 20 à 25% des inscrits</text>
<rect x="1998" y="1978.0" width="84" height="58.0" fill="#FFBE55"/>
<text class="t" x="2094.5" y="2022.1" font-size="42">de 25 à 30% des inscrits</text>
<rect x="1998" y="2054.0" width="84" height="58.0" fill="#FFAE2B"/>
<text class="t" x="2094.5" y="2098.1" font-size="42">de 30 à 35% des inscrits</text>
<rect x="1998" y="2130.0" width="84" height="58.0" fill="#FF9E00"/>
<text class="t" x="2094.5" y="2172.2" font-size="42">de 35 à 40% des inscrits</text>
<rect x="1998" y="2206.0" width="84" height="60.0" fill="#D58400"/>
<text class="t" x="2094.5" y="2248.2" font-size="42">de 40 à 45% des inscrits</text>
<rect x="1998" y="2284.0" width="84" height="58.0" fill="#AA6900"/>
<text class="t" x="2094.5" y="2322.3" font-size="42">de 45 à 50% des inscrits</text>
<rect x="1998" y="2360.0" width="84" height="54.0" fill="#804F00"/>
<text class="t" x="2094.5" y="2404.0" font-size="42">+ de 50% des inscrits</text>
</svg></body></html>
